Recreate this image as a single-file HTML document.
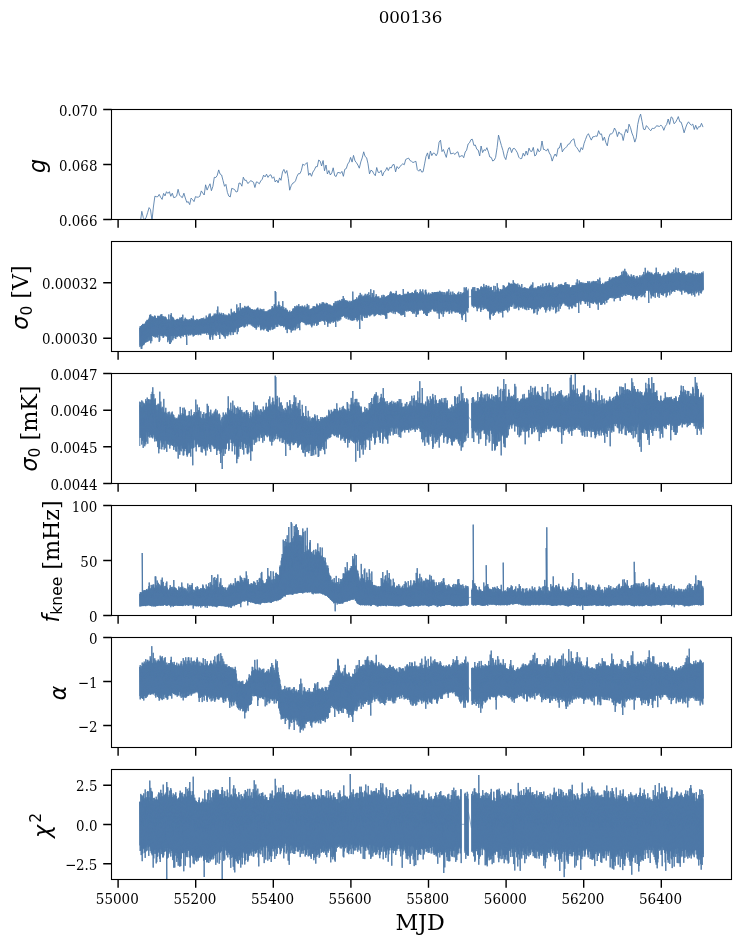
<!DOCTYPE html>
<html><head><meta charset="utf-8"><title>000136</title>
<style>html,body{margin:0;padding:0;background:#fff}svg{display:block;will-change:transform}</style></head>
<body>
<svg width="741" height="944" viewBox="0 0 741 944">
<rect width="741" height="944" fill="#fff"/>
<defs>
<clipPath id="c0"><rect x="111.5" y="109.5" width="620.0" height="110.0"/></clipPath>
<clipPath id="c1"><rect x="111.5" y="241.5" width="620.0" height="110.0"/></clipPath>
<clipPath id="c2"><rect x="111.5" y="373.5" width="620.0" height="110.0"/></clipPath>
<clipPath id="c3"><rect x="111.5" y="505.5" width="620.0" height="110.0"/></clipPath>
<clipPath id="c4"><rect x="111.5" y="637.5" width="620.0" height="110.0"/></clipPath>
<clipPath id="c5"><rect x="111.5" y="769.5" width="620.0" height="110.0"/></clipPath>
</defs>
<path clip-path="url(#c0)" d="M140.4,222.0 141.8,211.3 143.3,217.6 144.7,219.9 146.2,217.3 147.6,212.7 149.1,207.6 150.5,209.6 152.0,220.6 153.4,207.0 154.9,196.2 156.3,196.7 157.8,196.7 159.2,194.4 160.7,197.4 162.1,199.4 163.6,193.4 165.0,195.9 166.5,191.7 167.9,193.4 169.4,191.7 170.8,196.3 172.3,193.2 173.7,197.6 175.2,197.2 176.6,196.1 178.1,189.3 179.5,195.0 181.0,196.7 182.4,197.6 183.9,193.2 185.3,198.0 186.8,202.4 188.2,201.6 189.7,204.6 191.1,198.1 192.6,199.6 194.0,201.6 195.5,196.6 196.9,197.2 198.4,197.1 199.8,196.3 201.3,190.9 202.7,193.0 204.2,195.0 205.6,184.8 207.1,190.1 208.5,186.8 210.0,183.8 211.4,190.7 212.9,186.3 214.3,177.3 215.8,177.5 217.2,175.5 218.7,169.9 220.1,174.1 221.6,175.0 223.0,180.5 224.5,186.3 225.9,184.4 227.4,192.4 228.8,196.1 230.3,196.9 231.7,188.4 233.2,188.9 234.6,189.5 236.1,192.0 237.5,191.5 239.0,183.0 240.4,183.3 241.9,186.2 243.3,177.2 244.8,180.4 246.2,180.2 247.7,183.4 249.1,182.6 250.6,180.6 252.0,181.3 253.5,182.3 254.9,187.5 256.4,181.9 257.8,182.4 259.3,183.8 260.7,181.0 262.2,179.3 263.6,175.1 265.1,176.9 266.5,174.2 268.0,177.4 269.4,175.3 270.9,174.8 272.3,178.3 273.8,176.8 275.2,182.0 276.7,180.0 278.1,182.8 279.6,177.9 281.0,180.3 282.5,171.9 283.9,169.4 285.4,173.3 286.8,170.5 288.3,178.5 289.7,190.2 291.2,185.7 292.6,183.3 294.1,182.6 295.5,180.8 297.0,176.3 298.4,173.7 299.9,173.7 301.3,170.7 302.8,164.1 304.2,165.3 305.7,164.0 307.1,162.5 308.6,175.3 310.0,173.0 311.5,176.3 312.9,172.0 314.4,169.9 315.8,166.7 317.3,166.7 318.7,160.0 320.2,161.2 321.6,166.0 323.1,160.5 324.5,170.8 326.0,165.0 327.4,174.0 328.9,170.5 330.3,175.0 331.8,172.9 333.2,167.8 334.7,175.7 336.1,176.5 337.6,172.6 339.0,172.5 340.5,173.3 341.9,171.4 343.4,176.3 344.8,169.3 346.3,168.5 347.7,164.1 349.2,162.0 350.6,157.4 352.1,162.1 353.5,155.4 355.0,160.9 356.4,162.6 357.9,165.1 359.3,168.2 360.8,161.9 362.2,157.9 363.7,151.8 365.1,156.5 366.6,157.7 368.0,163.8 369.5,173.9 370.9,170.2 372.4,171.0 373.8,173.8 375.3,175.7 376.7,167.5 378.2,172.4 379.6,172.5 381.1,170.4 382.5,176.0 384.0,172.2 385.4,170.8 386.9,167.5 388.3,170.6 389.8,167.3 391.2,168.0 392.7,164.8 394.1,164.5 395.6,171.9 397.0,166.5 398.5,168.6 399.9,166.8 401.4,164.9 402.8,163.8 404.3,164.7 405.7,159.5 407.2,158.7 408.6,158.1 410.1,160.6 411.5,161.3 413.0,162.6 414.4,161.9 415.9,161.3 417.3,169.7 418.8,171.2 420.2,169.1 421.7,172.1 423.1,171.7 424.6,163.9 426.0,156.5 427.5,152.9 428.9,159.1 430.4,151.0 431.8,155.6 433.3,153.0 434.7,153.4 436.2,155.8 437.6,152.9 439.1,142.2 440.5,140.2 442.0,151.6 443.4,149.5 444.9,153.6 446.3,157.4 447.8,149.6 449.2,147.6 450.7,153.9 452.1,153.5 453.6,153.2 455.0,154.5 456.5,152.4 457.9,151.8 459.4,157.1 460.8,156.1 462.3,155.5 463.7,157.7 465.2,152.0 466.6,150.2 468.1,144.0 469.5,142.8 471.0,139.6 472.4,139.3 473.9,145.4 475.3,145.0 476.8,149.2 478.2,150.1 479.7,155.9 481.1,146.0 482.6,152.6 484.0,149.7 485.5,150.5 486.9,147.7 488.4,152.1 489.8,157.0 491.3,157.5 492.7,161.0 494.2,160.2 495.6,157.4 497.1,147.5 498.5,135.1 500.0,140.6 501.4,145.5 502.9,150.4 504.3,156.6 505.8,159.6 507.2,153.4 508.7,148.1 510.1,147.7 511.6,152.6 513.0,148.7 514.5,148.4 515.9,150.3 517.4,152.8 518.8,157.2 520.3,158.7 521.7,158.5 523.2,153.2 524.6,156.1 526.1,151.0 527.5,155.1 529.0,148.1 530.4,151.2 531.9,151.4 533.3,147.4 534.8,156.0 536.2,154.8 537.7,148.7 539.1,151.8 540.6,150.2 542.0,141.0 543.5,149.4 544.9,149.6 546.4,151.1 547.8,148.8 549.3,153.0 550.7,155.2 552.2,161.1 553.6,156.9 555.1,154.0 556.5,156.4 558.0,148.4 559.4,148.0 560.9,142.9 562.3,151.9 563.8,149.2 565.2,148.2 566.7,146.7 568.1,144.3 569.6,143.8 571.0,141.1 572.5,139.7 573.9,138.8 575.4,146.2 576.8,147.5 578.3,149.9 579.7,152.2 581.2,147.6 582.6,149.7 584.1,143.4 585.5,139.5 587.0,135.6 588.4,133.7 589.9,137.1 591.3,140.1 592.8,136.8 594.2,136.7 595.7,136.0 597.1,136.3 598.6,130.7 600.0,134.3 601.5,133.9 602.9,140.5 604.4,137.1 605.8,142.5 607.3,145.8 608.7,137.6 610.2,133.9 611.6,134.0 613.1,132.1 614.5,128.0 616.0,130.9 617.4,136.6 618.9,131.9 620.3,134.0 621.8,134.1 623.2,140.5 624.7,133.3 626.1,129.3 627.6,132.8 629.0,124.2 630.5,127.7 631.9,133.0 633.4,136.7 634.8,142.1 636.3,137.7 637.7,124.6 639.2,117.8 640.6,114.1 642.1,121.6 643.5,129.2 645.0,129.7 646.4,125.6 647.9,127.3 649.3,129.4 650.8,130.7 652.2,128.3 653.7,128.5 655.1,127.8 656.6,125.7 658.0,126.1 659.5,126.4 660.9,125.2 662.4,126.6 663.8,130.3 665.3,126.3 666.7,124.4 668.2,119.0 669.6,124.4 671.1,116.9 672.5,117.8 674.0,123.7 675.4,122.6 676.9,119.8 678.3,116.6 679.8,121.8 681.2,122.2 682.7,127.1 684.1,132.8 685.6,127.9 687.0,124.1 688.5,121.8 689.9,123.9 691.4,125.2 692.8,124.1 694.3,129.5 695.7,125.3 697.2,129.4 698.6,126.7 700.1,126.9 701.5,123.3 703.0,127.1" fill="none" stroke="#4e79a7" stroke-width="0.85" stroke-linejoin="miter"/>
<path clip-path="url(#c1)" d="M139.8,347.1 139.8,327.8 140.2,345.5 140.2,326.1 140.8,346.4 140.8,327.0 141.2,348.8 141.2,326.1 141.8,348.9 141.8,325.1 142.2,346.2 142.2,325.5 142.8,345.3 142.8,323.9 143.2,344.3 143.2,324.3 143.8,345.1 143.8,325.1 144.2,344.1 144.2,323.8 144.8,342.3 144.8,323.9 145.2,342.5 145.2,323.7 145.8,342.3 145.8,321.6 146.2,342.2 146.2,322.1 146.8,341.6 146.8,320.6 147.2,338.8 147.2,319.8 147.8,341.8 147.8,320.1 148.2,340.8 148.2,320.5 148.8,337.4 148.8,319.1 149.2,340.4 149.2,317.7 149.8,340.4 149.8,315.1 150.2,336.6 150.2,314.6 150.8,343.3 150.8,314.6 151.2,339.1 151.2,316.2 151.8,341.2 151.8,318.4 152.2,336.0 152.2,316.2 152.8,335.5 152.8,317.5 153.2,335.7 153.2,316.9 153.8,336.7 153.8,317.3 154.2,336.5 154.2,316.3 154.8,336.1 154.8,315.5 155.2,337.6 155.2,316.2 155.8,335.6 155.8,317.8 156.2,337.0 156.2,318.2 156.8,334.6 156.8,318.3 157.2,337.4 157.2,318.1 157.8,337.3 157.8,315.8 158.2,335.1 158.2,316.1 158.8,334.4 158.8,317.1 159.2,341.9 159.2,315.8 159.8,340.4 159.8,317.0 160.2,335.9 160.2,317.5 160.8,334.0 160.8,314.5 161.2,334.5 161.2,315.0 161.8,336.2 161.8,314.1 162.2,335.4 162.2,316.7 162.8,336.2 162.8,316.2 163.2,338.0 163.2,318.4 163.8,337.1 163.8,316.4 164.2,335.6 164.2,318.4 164.8,334.7 164.8,317.0 165.2,334.5 165.2,316.6 165.8,335.9 165.8,317.0 166.2,336.4 166.2,318.4 166.8,336.3 166.8,319.5 167.2,335.6 167.2,319.6 167.8,342.2 167.8,320.6 168.2,337.2 168.2,319.5 168.8,340.4 168.8,314.5 169.2,339.9 169.2,319.4 169.8,343.9 169.8,319.9 170.2,343.9 170.2,320.8 170.8,336.2 170.8,314.9 171.2,342.3 171.2,313.2 171.8,336.0 171.8,316.4 172.2,336.1 172.2,317.0 172.8,340.3 172.8,318.6 173.2,335.5 173.2,317.5 173.8,338.4 173.8,318.7 174.2,336.0 174.2,320.7 174.8,336.1 174.8,319.9 175.2,338.0 175.2,320.3 175.8,339.0 175.8,320.3 176.2,336.7 176.2,319.7 176.8,335.5 176.8,319.4 177.2,337.1 177.2,318.9 177.8,335.9 177.8,318.9 178.2,335.7 178.2,319.6 178.8,335.8 178.8,320.0 179.2,336.5 179.2,319.5 179.8,335.3 179.8,317.6 180.2,336.5 180.2,320.8 180.8,338.2 180.8,318.1 181.2,335.5 181.2,317.5 181.8,336.0 181.8,317.1 182.2,334.6 182.2,320.0 182.8,335.6 182.8,314.7 183.2,336.7 183.2,321.0 183.8,334.7 183.8,320.9 184.2,335.1 184.2,319.1 184.8,334.4 184.8,321.0 185.2,334.8 185.2,317.7 185.8,334.5 185.8,318.8 186.2,336.7 186.2,319.1 186.8,345.0 186.8,320.7 187.2,334.1 187.2,319.8 187.8,334.2 187.8,319.5 188.2,335.2 188.2,320.8 188.8,335.6 188.8,320.2 189.2,333.8 189.2,319.2 189.8,334.3 189.8,321.0 190.2,335.1 190.2,319.6 190.8,335.2 190.8,320.1 191.2,333.9 191.2,318.4 191.8,333.5 191.8,318.2 192.2,334.5 192.2,319.2 192.8,334.5 192.8,319.7 193.2,336.5 193.2,315.7 193.8,335.4 193.8,319.3 194.2,335.6 194.2,321.2 194.8,333.6 194.8,320.5 195.2,334.8 195.2,319.9 195.8,334.3 195.8,320.1 196.2,334.9 196.2,321.0 196.8,334.4 196.8,318.9 197.2,334.1 197.2,320.2 197.8,333.3 197.8,319.4 198.2,335.2 198.2,320.6 198.8,334.2 198.8,320.3 199.2,334.3 199.2,319.6 199.8,333.1 199.8,319.2 200.2,334.9 200.2,319.1 200.8,335.2 200.8,320.1 201.2,333.4 201.2,318.3 201.8,333.1 201.8,320.0 202.2,333.4 202.2,318.1 202.8,333.2 202.8,318.9 203.2,333.5 203.2,319.6 203.8,332.9 203.8,317.7 204.2,333.2 204.2,319.5 204.8,333.6 204.8,319.2 205.2,332.8 205.2,319.0 205.8,333.1 205.8,318.6 206.2,333.2 206.2,315.6 206.8,334.8 206.8,319.1 207.2,332.8 207.2,317.5 207.8,332.8 207.8,318.0 208.2,332.3 208.2,316.9 208.8,334.6 208.8,315.6 209.2,334.4 209.2,313.8 209.8,338.7 209.8,315.2 210.2,339.9 210.2,313.5 210.8,337.2 210.8,316.2 211.2,335.3 211.2,317.5 211.8,333.2 211.8,317.1 212.2,334.8 212.2,316.4 212.8,339.7 212.8,316.1 213.2,335.0 213.2,315.4 213.8,335.3 213.8,316.6 214.2,331.7 214.2,313.6 214.8,334.0 214.8,314.7 215.2,331.9 215.2,315.5 215.8,335.0 215.8,313.5 216.2,335.9 216.2,315.0 216.8,330.9 216.8,314.1 217.2,331.0 217.2,309.9 217.8,332.2 217.8,306.5 218.2,334.9 218.2,314.7 218.8,331.1 218.8,314.8 219.2,333.1 219.2,312.6 219.8,339.0 219.8,314.1 220.2,332.2 220.2,314.0 220.8,332.4 220.8,314.1 221.2,333.7 221.2,312.8 221.8,333.7 221.8,314.3 222.2,335.1 222.2,315.4 222.8,334.9 222.8,315.2 223.2,335.0 223.2,313.0 223.8,336.1 223.8,313.9 224.2,336.6 224.2,315.2 224.8,333.1 224.8,316.0 225.2,338.6 225.2,314.6 225.8,332.2 225.8,316.4 226.2,335.8 226.2,315.8 226.8,333.9 226.8,314.8 227.2,331.9 227.2,316.2 227.8,336.2 227.8,315.6 228.2,333.9 228.2,315.6 228.8,334.8 228.8,313.5 229.2,331.6 229.2,315.0 229.8,331.8 229.8,314.2 230.2,333.8 230.2,315.7 230.8,335.2 230.8,315.7 231.2,331.9 231.2,308.8 231.8,332.1 231.8,313.2 232.2,332.3 232.2,312.4 232.8,331.7 232.8,313.6 233.2,335.0 233.2,313.3 233.8,332.5 233.8,312.5 234.2,331.8 234.2,311.3 234.8,331.3 234.8,312.6 235.2,332.2 235.2,313.2 235.8,329.8 235.8,313.3 236.2,328.4 236.2,313.1 236.8,327.9 236.8,304.4 237.2,334.2 237.2,311.3 237.8,329.0 237.8,308.4 238.2,331.7 238.2,312.0 238.8,327.8 238.8,307.4 239.2,327.2 239.2,310.6 239.8,327.7 239.8,311.1 240.2,327.0 240.2,303.0 240.8,325.9 240.8,308.9 241.2,327.0 241.2,309.7 241.8,326.4 241.8,308.8 242.2,325.9 242.2,307.6 242.8,324.7 242.8,308.3 243.2,326.5 243.2,307.8 243.8,325.0 243.8,308.6 244.2,327.5 244.2,308.7 244.8,326.7 244.8,305.9 245.2,326.5 245.2,308.1 245.8,324.2 245.8,307.3 246.2,324.3 246.2,306.7 246.8,323.5 246.8,307.6 247.2,326.2 247.2,307.1 247.8,324.9 247.8,306.5 248.2,324.0 248.2,305.8 248.8,323.3 248.8,308.6 249.2,324.1 249.2,307.7 249.8,324.3 249.8,307.6 250.2,324.1 250.2,308.5 250.8,323.8 250.8,309.5 251.2,325.3 251.2,309.7 251.8,323.9 251.8,309.0 252.2,325.9 252.2,309.2 252.8,324.3 252.8,309.9 253.2,327.1 253.2,310.1 253.8,325.0 253.8,310.0 254.2,326.0 254.2,309.5 254.8,327.7 254.8,310.6 255.2,327.9 255.2,310.2 255.8,325.4 255.8,310.1 256.2,329.6 256.2,309.2 256.8,327.7 256.8,309.3 257.2,324.7 257.2,308.1 257.8,325.5 257.8,307.6 258.2,327.1 258.2,309.6 258.8,326.1 258.8,309.8 259.2,324.5 259.2,310.5 259.8,324.7 259.8,310.4 260.2,327.5 260.2,308.6 260.8,330.3 260.8,309.6 261.2,329.3 261.2,309.8 261.8,327.5 261.8,309.4 262.2,329.4 262.2,309.4 262.8,326.2 262.8,311.2 263.2,329.2 263.2,311.4 263.8,330.3 263.8,308.9 264.2,326.5 264.2,311.5 264.8,329.1 264.8,311.8 265.2,328.6 265.2,311.3 265.8,327.4 265.8,312.2 266.2,326.9 266.2,311.5 266.8,330.8 266.8,311.6 267.2,327.5 267.2,311.5 267.8,331.1 267.8,311.6 268.2,331.9 268.2,310.2 268.8,329.5 268.8,311.1 269.2,329.6 269.2,309.7 269.8,329.5 269.8,309.9 270.2,330.3 270.2,309.3 270.8,328.5 270.8,310.2 271.2,326.2 271.2,310.3 271.8,327.0 271.8,308.4 272.2,329.8 272.2,306.0 272.8,326.4 272.8,308.9 273.2,329.3 273.2,307.6 273.8,328.8 273.8,308.8 274.2,327.6 274.2,304.4 274.8,328.5 274.8,304.4 275.2,324.7 275.2,291.0 275.8,324.4 275.8,292.0 276.2,326.8 276.2,306.3 276.8,324.8 276.8,307.6 277.2,326.8 277.2,306.5 277.8,326.6 277.8,307.6 278.2,323.9 278.2,304.9 278.8,324.2 278.8,301.5 279.2,324.8 279.2,304.8 279.8,325.3 279.8,305.2 280.2,324.3 280.2,306.8 280.8,326.2 280.8,308.5 281.2,324.8 281.2,307.2 281.8,326.0 281.8,306.2 282.2,324.9 282.2,309.0 282.8,325.8 282.8,301.1 283.2,325.9 283.2,309.4 283.8,327.3 283.8,307.1 284.2,326.2 284.2,309.9 284.8,326.2 284.8,309.4 285.2,325.5 285.2,309.7 285.8,329.7 285.8,307.9 286.2,327.4 286.2,309.6 286.8,329.4 286.8,311.2 287.2,333.1 287.2,309.8 287.8,328.7 287.8,311.2 288.2,327.7 288.2,312.3 288.8,329.1 288.8,312.4 289.2,328.6 289.2,312.0 289.8,329.5 289.8,310.5 290.2,329.2 290.2,312.4 290.8,329.6 290.8,312.4 291.2,332.5 291.2,311.8 291.8,327.5 291.8,311.3 292.2,330.7 292.2,311.4 292.8,329.9 292.8,309.4 293.2,327.4 293.2,308.3 293.8,330.3 293.8,310.5 294.2,326.6 294.2,308.7 294.8,327.6 294.8,306.1 295.2,330.3 295.2,308.5 295.8,329.1 295.8,306.7 296.2,326.5 296.2,307.8 296.8,324.4 296.8,305.6 297.2,328.4 297.2,307.5 297.8,323.6 297.8,305.9 298.2,323.3 298.2,307.1 298.8,328.0 298.8,304.1 299.2,323.4 299.2,306.7 299.8,330.2 299.8,306.9 300.2,323.1 300.2,306.5 300.8,321.5 300.8,306.4 301.2,321.2 301.2,306.9 301.8,322.1 301.8,306.7 302.2,321.6 302.2,305.6 302.8,322.3 302.8,306.3 303.2,321.7 303.2,307.7 303.8,322.4 303.8,306.9 304.2,323.0 304.2,307.2 304.8,322.1 304.8,305.5 305.2,324.4 305.2,307.7 305.8,322.6 305.8,307.9 306.2,325.2 306.2,307.1 306.8,323.7 306.8,306.7 307.2,324.5 307.2,303.9 307.8,323.5 307.8,306.5 308.2,323.8 308.2,309.4 308.8,324.6 308.8,305.3 309.2,324.0 309.2,309.5 309.8,323.7 309.8,309.9 310.2,324.3 310.2,309.2 310.8,324.2 310.8,308.9 311.2,325.8 311.2,308.6 311.8,327.3 311.8,309.1 312.2,325.6 312.2,308.0 312.8,325.1 312.8,307.8 313.2,323.2 313.2,306.2 313.8,322.5 313.8,307.1 314.2,325.5 314.2,306.2 314.8,323.5 314.8,306.7 315.2,323.3 315.2,307.0 315.8,322.6 315.8,307.3 316.2,321.7 316.2,306.2 316.8,326.0 316.8,303.7 317.2,324.3 317.2,304.7 317.8,323.6 317.8,306.2 318.2,324.8 318.2,305.9 318.8,321.3 318.8,305.8 319.2,321.6 319.2,305.2 319.8,321.8 319.8,303.3 320.2,320.4 320.2,304.5 320.8,321.5 320.8,305.0 321.2,320.6 321.2,304.4 321.8,319.6 321.8,303.8 322.2,320.9 322.2,302.3 322.8,320.2 322.8,304.5 323.2,321.1 323.2,302.4 323.8,320.4 323.8,302.7 324.2,321.9 324.2,303.7 324.8,324.8 324.8,304.2 325.2,320.4 325.2,303.9 325.8,320.3 325.8,304.9 326.2,320.6 326.2,302.8 326.8,321.6 326.8,303.1 327.2,321.9 327.2,303.4 327.8,326.8 327.8,304.7 328.2,323.4 328.2,305.6 328.8,321.2 328.8,304.6 329.2,322.7 329.2,304.7 329.8,320.7 329.8,306.1 330.2,323.7 330.2,304.7 330.8,321.4 330.8,305.5 331.2,322.3 331.2,306.4 331.8,321.3 331.8,305.7 332.2,321.2 332.2,306.0 332.8,321.1 332.8,307.1 333.2,322.8 333.2,305.7 333.8,321.4 333.8,303.3 334.2,321.1 334.2,303.3 334.8,321.6 334.8,306.2 335.2,320.5 335.2,301.4 335.8,327.0 335.8,304.7 336.2,319.7 336.2,301.2 336.8,320.6 336.8,304.7 337.2,317.8 337.2,303.7 337.8,321.5 337.8,300.9 338.2,319.7 338.2,300.7 338.8,320.5 338.8,302.8 339.2,317.1 339.2,302.2 339.8,320.5 339.8,299.9 340.2,318.7 340.2,301.3 340.8,319.4 340.8,301.0 341.2,316.9 341.2,301.3 341.8,316.1 341.8,299.2 342.2,316.6 342.2,300.9 342.8,316.3 342.8,299.2 343.2,316.1 343.2,296.0 343.8,315.5 343.8,300.7 344.2,315.6 344.2,298.5 344.8,317.6 344.8,300.8 345.2,317.1 345.2,300.9 345.8,316.4 345.8,300.0 346.2,318.8 346.2,302.2 346.8,316.4 346.8,300.6 347.2,316.6 347.2,301.5 347.8,317.3 347.8,300.8 348.2,319.6 348.2,301.9 348.8,318.9 348.8,302.5 349.2,318.4 349.2,302.7 349.8,317.7 349.8,300.8 350.2,320.1 350.2,303.0 350.8,319.4 350.8,302.0 351.2,320.4 351.2,300.9 351.8,318.1 351.8,302.4 352.2,320.8 352.2,301.5 352.8,320.2 352.8,291.6 353.2,320.1 353.2,300.1 353.8,320.3 353.8,300.8 354.2,320.1 354.2,299.7 354.8,317.6 354.8,300.0 355.2,318.0 355.2,300.1 355.8,317.9 355.8,299.0 356.2,319.9 356.2,300.7 356.8,317.3 356.8,297.3 357.2,321.4 357.2,299.7 357.8,319.2 357.8,299.3 358.2,317.8 358.2,298.1 358.8,320.2 358.8,296.2 359.2,315.7 359.2,295.2 359.8,329.0 359.8,298.2 360.2,315.0 360.2,292.9 360.8,314.2 360.8,295.6 361.2,319.6 361.2,296.8 361.8,314.4 361.8,294.6 362.2,320.9 362.2,297.3 362.8,315.0 362.8,296.4 363.2,315.9 363.2,296.6 363.8,313.9 363.8,296.3 364.2,317.1 364.2,295.3 364.8,318.0 364.8,297.1 365.2,315.3 365.2,293.8 365.8,315.3 365.8,296.9 366.2,317.8 366.2,295.8 366.8,315.5 366.8,295.4 367.2,317.7 367.2,293.9 367.8,313.7 367.8,296.4 368.2,315.4 368.2,295.9 368.8,315.0 368.8,292.3 369.2,314.6 369.2,298.4 369.8,316.4 369.8,295.0 370.2,313.8 370.2,296.8 370.8,315.5 370.8,289.2 371.2,314.9 371.2,298.3 371.8,313.6 371.8,297.3 372.2,313.5 372.2,293.0 372.8,314.3 372.8,297.4 373.2,314.3 373.2,294.9 373.8,313.6 373.8,290.3 374.2,316.3 374.2,297.5 374.8,313.8 374.8,298.6 375.2,315.7 375.2,297.0 375.8,315.0 375.8,296.2 376.2,314.3 376.2,294.2 376.8,313.3 376.8,297.2 377.2,313.3 377.2,296.7 377.8,314.0 377.8,296.7 378.2,314.3 378.2,297.7 378.8,314.4 378.8,296.4 379.2,315.1 379.2,298.4 379.8,314.9 379.8,299.0 380.2,313.5 380.2,297.9 380.8,315.4 380.8,298.9 381.2,313.6 381.2,297.7 381.8,313.9 381.8,295.3 382.2,314.6 382.2,299.1 382.8,314.3 382.8,297.1 383.2,314.6 383.2,294.8 383.8,314.2 383.8,299.0 384.2,314.7 384.2,295.3 384.8,314.7 384.8,298.0 385.2,315.9 385.2,297.0 385.8,318.9 385.8,297.0 386.2,315.0 386.2,296.3 386.8,318.6 386.8,296.7 387.2,313.0 387.2,296.5 387.8,312.9 387.8,295.6 388.2,313.1 388.2,295.7 388.8,311.6 388.8,295.2 389.2,311.6 389.2,295.7 389.8,312.4 389.8,293.9 390.2,311.8 390.2,292.4 390.8,311.0 390.8,291.4 391.2,311.4 391.2,292.2 391.8,312.6 391.8,293.9 392.2,310.8 392.2,293.8 392.8,310.6 392.8,293.8 393.2,313.6 393.2,293.0 393.8,310.6 393.8,294.3 394.2,312.2 394.2,294.4 394.8,310.8 394.8,294.0 395.2,314.1 395.2,293.0 395.8,311.8 395.8,293.7 396.2,311.5 396.2,290.9 396.8,311.1 396.8,294.6 397.2,311.5 397.2,295.2 397.8,311.6 397.8,295.5 398.2,312.9 398.2,294.8 398.8,312.8 398.8,294.9 399.2,313.5 399.2,295.6 399.8,313.4 399.8,294.0 400.2,312.0 400.2,294.9 400.8,315.2 400.8,296.3 401.2,313.8 401.2,296.5 401.8,315.4 401.8,295.3 402.2,312.9 402.2,295.2 402.8,314.9 402.8,295.0 403.2,314.7 403.2,289.0 403.8,313.4 403.8,295.3 404.2,312.3 404.2,295.0 404.8,317.0 404.8,293.8 405.2,310.8 405.2,294.4 405.8,310.4 405.8,295.2 406.2,310.6 406.2,293.7 406.8,311.6 406.8,294.3 407.2,309.5 407.2,294.7 407.8,310.3 407.8,291.8 408.2,311.4 408.2,291.9 408.8,309.9 408.8,294.1 409.2,311.0 409.2,294.3 409.8,310.7 409.8,293.4 410.2,310.0 410.2,293.1 410.8,311.2 410.8,294.3 411.2,309.4 411.2,293.4 411.8,312.1 411.8,293.2 412.2,309.4 412.2,292.1 412.8,313.7 412.8,293.2 413.2,310.2 413.2,293.1 413.8,312.6 413.8,293.5 414.2,313.7 414.2,294.3 414.8,311.2 414.8,290.7 415.2,311.4 415.2,291.9 415.8,309.5 415.8,289.7 416.2,317.0 416.2,293.4 416.8,312.8 416.8,292.6 417.2,314.5 417.2,292.0 417.8,314.0 417.8,294.2 418.2,314.3 418.2,293.5 418.8,310.9 418.8,293.7 419.2,309.6 419.2,293.8 419.8,309.0 419.8,292.1 420.2,310.6 420.2,289.4 420.8,309.6 420.8,293.0 421.2,309.0 421.2,291.3 421.8,309.5 421.8,294.3 422.2,310.4 422.2,293.1 422.8,310.4 422.8,289.4 423.2,310.4 423.2,292.7 423.8,313.8 423.8,294.0 424.2,313.1 424.2,294.9 424.8,310.5 424.8,295.3 425.2,313.2 425.2,290.3 425.8,315.1 425.8,289.7 426.2,312.0 426.2,292.3 426.8,316.0 426.8,294.9 427.2,316.0 427.2,294.4 427.8,313.1 427.8,295.9 428.2,310.7 428.2,293.3 428.8,313.1 428.8,292.6 429.2,310.4 429.2,294.9 429.8,311.5 429.8,294.9 430.2,309.4 430.2,293.7 430.8,311.7 430.8,293.7 431.2,309.3 431.2,293.9 431.8,309.6 431.8,294.0 432.2,308.4 432.2,292.0 432.8,308.8 432.8,293.0 433.2,309.5 433.2,293.6 433.8,311.3 433.8,292.7 434.2,310.0 434.2,292.2 434.8,311.5 434.8,292.4 435.2,310.3 435.2,292.1 435.8,311.3 435.8,292.9 436.2,311.3 436.2,292.2 436.8,308.6 436.8,292.0 437.2,313.3 437.2,291.9 437.8,310.8 437.8,293.5 438.2,311.2 438.2,291.8 438.8,313.5 438.8,292.2 439.2,318.8 439.2,294.1 439.8,309.8 439.8,290.8 440.2,312.5 440.2,292.7 440.8,310.3 440.8,291.8 441.2,313.5 441.2,292.3 441.8,314.2 441.8,293.9 442.2,311.2 442.2,291.9 442.8,310.8 442.8,294.7 443.2,316.7 443.2,295.0 443.8,314.0 443.8,292.2 444.2,311.5 444.2,294.9 444.8,310.5 444.8,292.3 445.2,310.5 445.2,295.0 445.8,309.8 445.8,294.5 446.2,312.2 446.2,293.1 446.8,310.8 446.8,291.6 447.2,311.5 447.2,292.5 447.8,311.0 447.8,291.6 448.2,311.3 448.2,294.6 448.8,310.4 448.8,289.4 449.2,314.0 449.2,295.2 449.8,312.6 449.8,295.3 450.2,309.7 450.2,293.1 450.8,310.0 450.8,291.7 451.2,311.5 451.2,294.8 451.8,313.5 451.8,295.4 452.2,311.5 452.2,294.8 452.8,310.4 452.8,291.6 453.2,310.9 453.2,295.3 453.8,311.2 453.8,294.5 454.2,311.5 454.2,293.1 454.8,310.1 454.8,294.7 455.2,312.7 455.2,294.6 455.8,311.4 455.8,294.6 456.2,312.4 456.2,294.6 456.8,311.1 456.8,295.0 457.2,312.1 457.2,294.8 457.8,312.4 457.8,292.8 458.2,312.4 458.2,295.0 458.8,311.9 458.8,291.7 459.2,312.2 459.2,294.3 459.8,314.0 459.8,295.2 460.2,312.8 460.2,294.2 460.8,312.5 460.8,292.0 461.2,314.5 461.2,295.3 461.8,317.5 461.8,294.2 462.2,320.1 462.2,293.1 462.8,312.0 462.8,294.7 463.2,315.2 463.2,292.6 463.8,312.9 463.8,292.5 464.2,313.5 464.2,287.4 464.8,314.1 464.8,293.1 465.2,311.8 465.2,292.7 465.8,321.9 465.8,288.3 466.2,310.3 466.2,287.0 466.8,311.4 466.8,290.6 467.2,310.0 467.2,291.6 467.8,312.5 467.8,290.5 468.2,308.0 468.2,288.6M471.8,304.8 471.8,289.7 472.2,306.5 472.2,288.9 472.8,305.9 472.8,287.3 473.2,304.9 473.2,291.2 473.8,307.7 473.8,287.3 474.2,305.5 474.2,291.4 474.8,305.9 474.8,287.2 475.2,306.9 475.2,290.9 475.8,305.9 475.8,291.4 476.2,306.2 476.2,291.6 476.8,308.2 476.8,291.0 477.2,311.2 477.2,288.0 477.8,306.7 477.8,288.7 478.2,305.8 478.2,288.3 478.8,308.5 478.8,290.6 479.2,307.4 479.2,290.0 479.8,305.2 479.8,289.8 480.2,307.1 480.2,289.0 480.8,311.9 480.8,287.3 481.2,310.0 481.2,286.3 481.8,304.8 481.8,288.3 482.2,307.6 482.2,287.3 482.8,305.1 482.8,287.7 483.2,309.8 483.2,287.8 483.8,307.5 483.8,283.9 484.2,306.0 484.2,287.6 484.8,308.9 484.8,286.7 485.2,308.4 485.2,286.8 485.8,306.4 485.8,287.3 486.2,307.6 486.2,285.0 486.8,309.3 486.8,285.8 487.2,308.3 487.2,287.9 487.8,310.8 487.8,289.4 488.2,311.3 488.2,286.3 488.8,310.9 488.8,285.8 489.2,311.4 489.2,288.2 489.8,318.3 489.8,291.0 490.2,319.7 490.2,287.2 490.8,313.5 490.8,288.3 491.2,314.3 491.2,286.9 491.8,313.1 491.8,291.0 492.2,312.7 492.2,290.8 492.8,311.8 492.8,290.1 493.2,315.9 493.2,292.6 493.8,312.9 493.8,285.8 494.2,314.8 494.2,292.4 494.8,311.9 494.8,291.7 495.2,312.7 495.2,286.1 495.8,312.2 495.8,292.5 496.2,311.1 496.2,291.7 496.8,310.4 496.8,289.7 497.2,311.2 497.2,283.2 497.8,310.9 497.8,287.5 498.2,312.4 498.2,288.4 498.8,313.5 498.8,290.8 499.2,311.6 499.2,291.8 499.8,312.0 499.8,291.7 500.2,310.0 500.2,289.0 500.8,312.5 500.8,289.5 501.2,310.9 501.2,290.6 501.8,309.7 501.8,290.0 502.2,312.8 502.2,288.9 502.8,317.4 502.8,290.1 503.2,310.7 503.2,285.2 503.8,310.8 503.8,290.5 504.2,310.6 504.2,285.8 504.8,309.5 504.8,288.8 505.2,307.9 505.2,287.6 505.8,310.2 505.8,288.1 506.2,308.1 506.2,287.3 506.8,310.4 506.8,287.4 507.2,309.0 507.2,286.3 507.8,312.3 507.8,286.1 508.2,307.9 508.2,285.3 508.8,307.2 508.8,282.6 509.2,310.5 509.2,283.1 509.8,306.4 509.8,283.8 510.2,306.3 510.2,284.2 510.8,304.1 510.8,283.8 511.2,306.6 511.2,283.9 511.8,306.9 511.8,283.7 512.2,304.1 512.2,284.1 512.8,305.4 512.8,284.2 513.2,303.6 513.2,280.2 513.8,302.8 513.8,284.8 514.2,308.7 514.2,282.8 514.8,304.8 514.8,284.5 515.2,303.9 515.2,283.8 515.8,308.7 515.8,283.8 516.2,306.8 516.2,284.3 516.8,308.1 516.8,284.8 517.2,306.5 517.2,285.8 517.8,306.6 517.8,283.5 518.2,304.7 518.2,287.4 518.8,310.2 518.8,287.1 519.2,305.9 519.2,284.8 519.8,307.1 519.8,285.7 520.2,305.8 520.2,287.0 520.8,307.8 520.8,288.0 521.2,306.1 521.2,287.9 521.8,307.1 521.8,284.0 522.2,306.5 522.2,288.6 522.8,308.6 522.8,288.0 523.2,306.3 523.2,288.4 523.8,306.2 523.8,287.7 524.2,307.7 524.2,288.3 524.8,308.9 524.8,287.1 525.2,309.6 525.2,288.6 525.8,307.4 525.8,287.9 526.2,306.9 526.2,288.6 526.8,310.2 526.8,288.9 527.2,306.9 527.2,288.3 527.8,307.6 527.8,288.9 528.2,307.5 528.2,289.0 528.8,310.0 528.8,288.6 529.2,307.4 529.2,288.7 529.8,307.7 529.8,287.1 530.2,307.7 530.2,286.4 530.8,307.8 530.8,286.1 531.2,308.2 531.2,284.7 531.8,309.4 531.8,289.0 532.2,308.7 532.2,285.1 532.8,307.7 532.8,282.4 533.2,308.8 533.2,288.2 533.8,313.4 533.8,288.1 534.2,312.2 534.2,289.2 534.8,312.7 534.8,288.3 535.2,309.2 535.2,287.5 535.8,308.8 535.8,289.0 536.2,309.1 536.2,288.6 536.8,307.8 536.8,288.6 537.2,314.6 537.2,287.3 537.8,306.8 537.8,286.4 538.2,311.2 538.2,286.9 538.8,307.0 538.8,286.0 539.2,306.9 539.2,286.8 539.8,308.2 539.8,287.7 540.2,309.2 540.2,287.2 540.8,307.0 540.8,285.4 541.2,307.7 541.2,287.2 541.8,305.7 541.8,287.7 542.2,306.3 542.2,287.3 542.8,306.9 542.8,283.6 543.2,307.1 543.2,287.8 543.8,307.3 543.8,287.1 544.2,306.1 544.2,287.4 544.8,309.6 544.8,286.5 545.2,307.0 545.2,286.0 545.8,312.5 545.8,286.0 546.2,309.6 546.2,283.2 546.8,310.4 546.8,286.1 547.2,308.2 547.2,286.1 547.8,306.1 547.8,287.2 548.2,306.7 548.2,285.2 548.8,306.7 548.8,284.8 549.2,309.9 549.2,282.8 549.8,311.2 549.8,286.6 550.2,308.0 550.2,286.4 550.8,309.4 550.8,285.0 551.2,305.3 551.2,287.0 551.8,305.6 551.8,286.7 552.2,306.9 552.2,288.1 552.8,307.0 552.8,282.5 553.2,309.6 553.2,288.5 553.8,305.7 553.8,287.8 554.2,306.8 554.2,287.5 554.8,307.2 554.8,287.7 555.2,308.2 555.2,287.4 555.8,313.3 555.8,287.3 556.2,307.6 556.2,286.4 556.8,312.0 556.8,287.1 557.2,306.7 557.2,287.7 557.8,306.2 557.8,287.6 558.2,305.0 558.2,285.2 558.8,311.3 558.8,284.3 559.2,304.2 559.2,285.3 559.8,304.0 559.8,287.1 560.2,308.8 560.2,284.4 560.8,303.8 560.8,285.4 561.2,306.2 561.2,283.9 561.8,304.7 561.8,285.8 562.2,302.7 562.2,284.7 562.8,303.7 562.8,285.2 563.2,302.3 563.2,285.1 563.8,302.4 563.8,285.0 564.2,303.8 564.2,285.1 564.8,302.9 564.8,282.7 565.2,305.5 565.2,285.6 565.8,304.1 565.8,282.1 566.2,305.4 566.2,284.4 566.8,304.6 566.8,284.3 567.2,306.2 567.2,286.5 567.8,306.3 567.8,284.2 568.2,306.7 568.2,284.9 568.8,305.4 568.8,287.2 569.2,309.3 569.2,284.6 569.8,305.5 569.8,288.2 570.2,305.9 570.2,287.8 570.8,306.6 570.8,287.4 571.2,305.9 571.2,287.0 571.8,308.3 571.8,286.7 572.2,308.2 572.2,285.3 572.8,304.7 572.8,285.8 573.2,305.0 573.2,285.2 573.8,305.3 573.8,286.7 574.2,306.5 574.2,285.7 574.8,304.2 574.8,285.2 575.2,303.2 575.2,285.2 575.8,307.1 575.8,285.7 576.2,303.1 576.2,282.6 576.8,303.1 576.8,284.6 577.2,301.3 577.2,279.3 577.8,303.0 577.8,283.1 578.2,301.0 578.2,284.8 578.8,313.0 578.8,284.3 579.2,301.4 579.2,280.5 579.8,300.6 579.8,282.5 580.2,303.1 580.2,282.9 580.8,304.5 580.8,282.4 581.2,301.4 581.2,284.0 581.8,300.8 581.8,282.3 582.2,300.7 582.2,283.1 582.8,299.8 582.8,283.9 583.2,301.0 583.2,282.7 583.8,300.4 583.8,284.2 584.2,301.7 584.2,284.0 584.8,301.0 584.8,282.9 585.2,303.9 585.2,284.2 585.8,303.6 585.8,283.0 586.2,301.1 586.2,283.0 586.8,301.6 586.8,283.4 587.2,301.6 587.2,283.8 587.8,305.9 587.8,281.2 588.2,300.9 588.2,282.7 588.8,301.9 588.8,282.7 589.2,300.9 589.2,281.2 589.8,308.0 589.8,283.9 590.2,302.8 590.2,283.4 590.8,302.1 590.8,283.6 591.2,302.5 591.2,281.6 591.8,303.2 591.8,282.9 592.2,302.6 592.2,282.8 592.8,302.1 592.8,281.7 593.2,304.0 593.2,280.9 593.8,302.9 593.8,281.8 594.2,300.4 594.2,281.3 594.8,301.7 594.8,282.8 595.2,302.0 595.2,281.6 595.8,303.4 595.8,281.7 596.2,301.6 596.2,281.0 596.8,304.4 596.8,283.1 597.2,303.6 597.2,283.5 597.8,300.4 597.8,279.2 598.2,309.8 598.2,283.5 598.8,302.5 598.8,279.9 599.2,300.8 599.2,284.1 599.8,302.5 599.8,277.7 600.2,302.0 600.2,281.3 600.8,305.0 600.8,284.9 601.2,303.8 601.2,284.0 601.8,304.8 601.8,285.1 602.2,303.8 602.2,284.0 602.8,299.8 602.8,282.9 603.2,302.9 603.2,284.3 603.8,303.0 603.8,284.5 604.2,300.3 604.2,284.5 604.8,304.4 604.8,283.3 605.2,299.6 605.2,281.8 605.8,300.9 605.8,282.7 606.2,299.9 606.2,281.5 606.8,302.7 606.8,282.3 607.2,299.8 607.2,282.9 607.8,299.9 607.8,281.0 608.2,299.3 608.2,282.3 608.8,298.8 608.8,280.9 609.2,297.9 609.2,278.8 609.8,297.9 609.8,277.3 610.2,297.6 610.2,279.9 610.8,298.0 610.8,280.4 611.2,296.7 611.2,279.4 611.8,297.6 611.8,278.8 612.2,298.3 612.2,277.6 612.8,297.0 612.8,278.6 613.2,296.2 613.2,277.4 613.8,298.0 613.8,278.8 614.2,301.3 614.2,277.9 614.8,296.1 614.8,277.4 615.2,298.9 615.2,277.8 615.8,297.6 615.8,276.3 616.2,298.3 616.2,276.1 616.8,296.1 616.8,277.6 617.2,298.0 617.2,277.4 617.8,297.6 617.8,277.1 618.2,296.1 618.2,276.4 618.8,297.5 618.8,277.3 619.2,297.8 619.2,275.9 619.8,295.2 619.8,276.8 620.2,300.8 620.2,275.7 620.8,295.4 620.8,275.6 621.2,296.7 621.2,275.2 621.8,294.0 621.8,271.8 622.2,296.8 622.2,276.2 622.8,294.0 622.8,274.5 623.2,294.1 623.2,270.8 623.8,295.7 623.8,271.8 624.2,294.7 624.2,272.4 624.8,293.5 624.8,268.8 625.2,294.2 625.2,275.8 625.8,295.9 625.8,271.3 626.2,294.0 626.2,272.2 626.8,293.3 626.8,273.1 627.2,294.4 627.2,276.3 627.8,294.7 627.8,276.5 628.2,294.0 628.2,274.7 628.8,295.0 628.8,275.8 629.2,294.8 629.2,276.8 629.8,293.3 629.8,276.6 630.2,294.7 630.2,276.9 630.8,295.6 630.8,277.1 631.2,294.4 631.2,274.4 631.8,295.2 631.8,276.6 632.2,295.9 632.2,276.8 632.8,299.3 632.8,277.2 633.2,296.6 633.2,275.6 633.8,295.0 633.8,275.1 634.2,296.2 634.2,276.9 634.8,295.7 634.8,278.6 635.2,295.9 635.2,278.6 635.8,298.7 635.8,278.9 636.2,298.3 636.2,276.3 636.8,300.2 636.8,278.5 637.2,298.0 637.2,275.9 637.8,296.6 637.8,279.2 638.2,295.4 638.2,279.0 638.8,295.7 638.8,277.4 639.2,296.0 639.2,277.7 639.8,295.4 639.8,275.3 640.2,294.5 640.2,277.3 640.8,294.8 640.8,277.9 641.2,297.2 641.2,275.5 641.8,293.8 641.8,277.5 642.2,292.8 642.2,277.1 642.8,296.4 642.8,274.5 643.2,295.1 643.2,276.3 643.8,291.7 643.8,271.9 644.2,294.0 644.2,275.4 644.8,297.3 644.8,274.6 645.2,293.1 645.2,267.8 645.8,290.3 645.8,274.2 646.2,290.6 646.2,273.7 646.8,289.6 646.8,273.4 647.2,290.7 647.2,272.3 647.8,289.8 647.8,270.7 648.2,290.7 648.2,272.5 648.8,303.0 648.8,272.5 649.2,290.8 649.2,273.5 649.8,290.2 649.8,271.9 650.2,292.5 650.2,273.7 650.8,294.5 650.8,273.8 651.2,298.4 651.2,272.8 651.8,296.3 651.8,272.7 652.2,291.0 652.2,274.3 652.8,295.7 652.8,274.7 653.2,296.2 653.2,274.5 653.8,296.5 653.8,275.5 654.2,293.1 654.2,275.1 654.8,292.8 654.8,273.2 655.2,297.8 655.2,274.5 655.8,292.7 655.8,272.5 656.2,292.2 656.2,267.7 656.8,292.5 656.8,273.3 657.2,291.8 657.2,274.0 657.8,296.7 657.8,275.9 658.2,293.6 658.2,272.0 658.8,293.4 658.8,274.1 659.2,297.9 659.2,273.9 659.8,292.9 659.8,275.9 660.2,292.8 660.2,273.9 660.8,292.8 660.8,276.7 661.2,294.4 661.2,276.4 661.8,295.0 661.8,276.9 662.2,292.9 662.2,275.6 662.8,294.8 662.8,276.2 663.2,295.8 663.2,274.6 663.8,294.0 663.8,272.8 664.2,292.2 664.2,276.5 664.8,293.0 664.8,275.2 665.2,293.1 665.2,275.3 665.8,292.9 665.8,275.0 666.2,297.3 666.2,274.8 666.8,292.3 666.8,275.6 667.2,295.6 667.2,273.8 667.8,292.4 667.8,273.3 668.2,292.2 668.2,271.4 668.8,291.9 668.8,274.7 669.2,291.8 669.2,272.6 669.8,295.3 669.8,274.5 670.2,290.2 670.2,273.8 670.8,289.7 670.8,273.7 671.2,293.6 671.2,272.9 671.8,290.9 671.8,274.0 672.2,291.8 672.2,271.9 672.8,290.9 672.8,274.6 673.2,291.3 673.2,274.0 673.8,290.8 673.8,269.5 674.2,290.2 674.2,273.7 674.8,292.0 674.8,273.3 675.2,290.0 675.2,273.6 675.8,289.6 675.8,267.6 676.2,289.1 676.2,272.1 676.8,290.0 676.8,271.8 677.2,290.2 677.2,273.5 677.8,290.6 677.8,273.1 678.2,289.6 678.2,268.3 678.8,288.9 678.8,272.4 679.2,290.6 679.2,272.3 679.8,289.5 679.8,273.1 680.2,291.4 680.2,273.2 680.8,289.9 680.8,274.4 681.2,291.7 681.2,274.2 681.8,294.6 681.8,272.5 682.2,290.3 682.2,274.2 682.8,289.8 682.8,271.0 683.2,290.7 683.2,274.0 683.8,289.4 683.8,273.0 684.2,289.7 684.2,271.1 684.8,292.7 684.8,272.8 685.2,290.6 685.2,274.9 685.8,291.5 685.8,275.2 686.2,291.6 686.2,275.4 686.8,291.5 686.8,274.4 687.2,292.4 687.2,276.0 687.8,292.8 687.8,274.2 688.2,294.2 688.2,273.1 688.8,293.5 688.8,272.7 689.2,293.1 689.2,276.6 689.8,293.6 689.8,272.8 690.2,293.2 690.2,276.3 690.8,293.1 690.8,272.8 691.2,293.1 691.2,273.3 691.8,295.4 691.8,274.8 692.2,293.2 692.2,274.4 692.8,290.9 692.8,270.9 693.2,290.5 693.2,274.1 693.8,294.8 693.8,275.3 694.2,292.2 694.2,274.2 694.8,296.6 694.8,275.2 695.2,290.3 695.2,272.6 695.8,291.4 695.8,273.0 696.2,293.4 696.2,275.0 696.8,290.9 696.8,275.0 697.2,292.3 697.2,273.0 697.8,289.7 697.8,274.3 698.2,289.4 698.2,274.4 698.8,295.4 698.8,274.8 699.2,291.1 699.2,273.0 699.8,290.1 699.8,274.5 700.2,293.0 700.2,273.8 700.8,292.1 700.8,273.9 701.2,293.5 701.2,273.1 701.8,291.6 701.8,272.4 702.2,289.7 702.2,272.8 702.8,290.4 702.8,273.2 703.2,289.7 703.2,271.3" fill="none" stroke="#4e79a7" stroke-width="1.0" stroke-linejoin="round"/>
<path clip-path="url(#c2)" d="M139.8,446.0 139.8,401.7 140.2,437.9 140.2,405.1 140.8,435.2 140.8,402.3 141.2,437.2 141.2,406.9 141.8,444.5 141.8,400.4 142.2,440.3 142.2,407.3 142.8,440.6 142.8,401.6 143.2,447.9 143.2,405.8 143.8,438.9 143.8,402.9 144.2,442.9 144.2,403.6 144.8,446.3 144.8,404.6 145.2,441.9 145.2,405.1 145.8,444.4 145.8,399.2 146.2,441.7 146.2,401.0 146.8,432.5 146.8,402.0 147.2,435.3 147.2,397.6 147.8,443.7 147.8,403.5 148.2,436.7 148.2,399.5 148.8,432.1 148.8,399.2 149.2,436.2 149.2,403.6 149.8,437.6 149.8,399.6 150.2,435.0 150.2,403.7 150.8,434.4 150.8,399.6 151.2,437.3 151.2,394.0 151.8,436.8 151.8,400.3 152.2,437.5 152.2,391.8 152.8,438.4 152.8,387.3 153.2,434.0 153.2,400.1 153.8,435.2 153.8,394.1 154.2,437.0 154.2,403.2 154.8,441.5 154.8,399.5 155.2,438.8 155.2,398.4 155.8,436.9 155.8,405.9 156.2,441.1 156.2,404.9 156.8,441.2 156.8,409.7 157.2,439.4 157.2,410.4 157.8,447.1 157.8,404.6 158.2,440.2 158.2,403.7 158.8,453.3 158.8,405.8 159.2,447.7 159.2,404.3 159.8,449.1 159.8,391.7 160.2,440.6 160.2,407.2 160.8,439.9 160.8,401.6 161.2,442.6 161.2,408.3 161.8,449.4 161.8,412.2 162.2,439.9 162.2,406.8 162.8,446.9 162.8,412.5 163.2,444.4 163.2,408.5 163.8,441.2 163.8,398.9 164.2,449.7 164.2,412.5 164.8,441.2 164.8,413.1 165.2,448.3 165.2,411.7 165.8,440.5 165.8,407.8 166.2,441.2 166.2,415.6 166.8,451.9 166.8,412.8 167.2,444.3 167.2,414.2 167.8,443.8 167.8,416.7 168.2,441.0 168.2,412.1 168.8,444.7 168.8,415.2 169.2,441.9 169.2,411.6 169.8,448.5 169.8,417.0 170.2,443.6 170.2,414.5 170.8,445.7 170.8,416.6 171.2,442.5 171.2,412.6 171.8,445.0 171.8,414.8 172.2,444.7 172.2,411.6 172.8,445.9 172.8,416.2 173.2,445.5 173.2,414.5 173.8,449.9 173.8,415.2 174.2,447.2 174.2,418.1 174.8,442.8 174.8,417.3 175.2,446.6 175.2,419.2 175.8,451.3 175.8,418.8 176.2,444.1 176.2,417.9 176.8,451.6 176.8,419.7 177.2,446.4 177.2,419.3 177.8,446.2 177.8,418.3 178.2,458.6 178.2,416.7 178.8,448.8 178.8,414.6 179.2,449.5 179.2,418.0 179.8,454.8 179.8,415.3 180.2,450.5 180.2,406.9 180.8,446.2 180.8,414.3 181.2,451.3 181.2,415.1 181.8,445.3 181.8,417.1 182.2,448.2 182.2,413.0 182.8,448.8 182.8,407.8 183.2,455.4 183.2,414.4 183.8,455.3 183.8,413.8 184.2,451.2 184.2,407.6 184.8,448.8 184.8,415.0 185.2,448.5 185.2,409.7 185.8,448.9 185.8,417.5 186.2,451.3 186.2,415.8 186.8,455.0 186.8,417.7 187.2,456.6 187.2,415.7 187.8,454.4 187.8,418.6 188.2,442.8 188.2,415.7 188.8,453.2 188.8,415.2 189.2,445.1 189.2,411.1 189.8,452.8 189.8,415.4 190.2,451.3 190.2,416.6 190.8,456.6 190.8,416.3 191.2,443.0 191.2,409.5 191.8,448.5 191.8,416.5 192.2,448.4 192.2,415.3 192.8,465.3 192.8,417.0 193.2,448.2 193.2,416.7 193.8,447.9 193.8,414.0 194.2,439.4 194.2,412.1 194.8,440.3 194.8,416.1 195.2,446.8 195.2,415.4 195.8,444.2 195.8,399.6 196.2,451.4 196.2,412.6 196.8,445.0 196.8,412.1 197.2,443.6 197.2,404.6 197.8,441.5 197.8,412.6 198.2,444.2 198.2,412.3 198.8,447.2 198.8,410.1 199.2,447.0 199.2,407.4 199.8,445.1 199.8,416.5 200.2,446.7 200.2,417.3 200.8,446.1 200.8,411.4 201.2,452.1 201.2,417.8 201.8,446.1 201.8,418.8 202.2,452.5 202.2,419.3 202.8,446.1 202.8,414.0 203.2,446.3 203.2,415.6 203.8,448.6 203.8,412.2 204.2,449.2 204.2,419.2 204.8,448.3 204.8,418.2 205.2,450.7 205.2,413.9 205.8,455.5 205.8,419.6 206.2,447.0 206.2,413.2 206.8,447.5 206.8,413.6 207.2,450.5 207.2,403.8 207.8,447.6 207.8,409.8 208.2,444.2 208.2,405.9 208.8,444.1 208.8,412.6 209.2,446.6 209.2,416.5 209.8,449.1 209.8,417.0 210.2,446.4 210.2,411.9 210.8,451.8 210.8,409.7 211.2,444.9 211.2,414.9 211.8,444.0 211.8,416.1 212.2,445.4 212.2,413.5 212.8,444.5 212.8,416.2 213.2,446.5 213.2,415.6 213.8,446.2 213.8,413.5 214.2,449.0 214.2,411.7 214.8,448.3 214.8,415.5 215.2,445.5 215.2,410.3 215.8,447.8 215.8,408.9 216.2,449.2 216.2,417.5 216.8,455.0 216.8,412.4 217.2,447.6 217.2,410.4 217.8,450.8 217.8,417.9 218.2,446.0 218.2,417.3 218.8,449.5 218.8,414.4 219.2,449.0 219.2,413.6 219.8,451.0 219.8,414.8 220.2,454.0 220.2,420.4 220.8,463.0 220.8,421.9 221.2,452.5 221.2,425.5 221.8,449.8 221.8,418.6 222.2,469.0 222.2,416.9 222.8,448.8 222.8,422.8 223.2,448.5 223.2,412.5 223.8,455.9 223.8,421.4 224.2,448.5 224.2,415.9 224.8,449.1 224.8,414.7 225.2,453.7 225.2,417.1 225.8,448.8 225.8,412.5 226.2,449.2 226.2,414.1 226.8,444.0 226.8,415.0 227.2,442.7 227.2,415.5 227.8,443.0 227.8,408.2 228.2,442.0 228.2,396.3 228.8,450.8 228.8,408.5 229.2,449.1 229.2,412.8 229.8,439.5 229.8,409.9 230.2,439.5 230.2,410.9 230.8,438.6 230.8,402.7 231.2,443.0 231.2,411.2 231.8,442.9 231.8,411.0 232.2,451.3 232.2,409.3 232.8,444.1 232.8,400.7 233.2,442.5 233.2,413.6 233.8,442.4 233.8,412.8 234.2,446.1 234.2,405.5 234.8,454.5 234.8,407.1 235.2,441.9 235.2,414.5 235.8,446.4 235.8,414.0 236.2,444.6 236.2,408.0 236.8,463.2 236.8,414.1 237.2,454.5 237.2,413.4 237.8,458.9 237.8,406.6 238.2,447.0 238.2,408.5 238.8,456.7 238.8,412.7 239.2,446.5 239.2,410.1 239.8,442.2 239.8,409.8 240.2,449.0 240.2,407.2 240.8,448.9 240.8,414.6 241.2,442.1 241.2,411.6 241.8,441.6 241.8,409.9 242.2,447.3 242.2,417.1 242.8,449.8 242.8,412.2 243.2,443.7 243.2,416.2 243.8,454.5 243.8,413.3 244.2,442.2 244.2,411.9 244.8,443.8 244.8,412.8 245.2,442.9 245.2,414.6 245.8,448.0 245.8,414.4 246.2,444.7 246.2,410.8 246.8,444.7 246.8,410.0 247.2,453.5 247.2,412.9 247.8,454.2 247.8,415.8 248.2,443.3 248.2,412.4 248.8,452.5 248.8,414.0 249.2,443.2 249.2,418.1 249.8,446.4 249.8,419.3 250.2,448.4 250.2,416.0 250.8,460.7 250.8,412.3 251.2,451.1 251.2,418.6 251.8,445.1 251.8,416.7 252.2,451.3 252.2,413.4 252.8,439.3 252.8,410.5 253.2,439.2 253.2,414.9 253.8,439.6 253.8,401.8 254.2,444.8 254.2,416.3 254.8,438.9 254.8,411.2 255.2,439.8 255.2,405.2 255.8,442.7 255.8,405.7 256.2,437.2 256.2,408.7 256.8,441.7 256.8,414.3 257.2,437.4 257.2,405.4 257.8,436.1 257.8,415.7 258.2,437.7 258.2,413.3 258.8,435.4 258.8,409.7 259.2,441.2 259.2,411.3 259.8,438.3 259.8,415.0 260.2,432.7 260.2,414.7 260.8,434.6 260.8,409.0 261.2,437.3 261.2,410.4 261.8,437.9 261.8,412.7 262.2,432.9 262.2,411.9 262.8,442.7 262.8,411.8 263.2,431.5 263.2,406.5 263.8,436.5 263.8,412.8 264.2,440.8 264.2,411.4 264.8,432.9 264.8,410.1 265.2,435.2 265.2,409.5 265.8,435.1 265.8,406.7 266.2,434.6 266.2,402.8 266.8,435.7 266.8,409.3 267.2,437.2 267.2,408.7 267.8,434.0 267.8,407.2 268.2,432.9 268.2,406.3 268.8,435.5 268.8,399.4 269.2,436.5 269.2,406.1 269.8,440.5 269.8,396.4 270.2,441.7 270.2,405.7 270.8,436.4 270.8,403.7 271.2,435.0 271.2,409.3 271.8,445.5 271.8,405.2 272.2,438.8 272.2,402.1 272.8,441.9 272.8,397.7 273.2,438.5 273.2,406.8 273.8,434.6 273.8,401.4 274.2,440.4 274.2,404.5 274.8,436.5 274.8,405.0 275.2,435.7 275.2,375.7 275.8,439.1 275.8,377.0 276.2,433.2 276.2,405.4 276.8,434.2 276.8,399.2 277.2,436.1 277.2,395.9 277.8,439.2 277.8,409.5 278.2,434.0 278.2,409.8 278.8,437.1 278.8,406.5 279.2,437.9 279.2,397.6 279.8,441.4 279.8,411.5 280.2,436.7 280.2,402.8 280.8,438.3 280.8,412.5 281.2,437.9 281.2,402.3 281.8,436.8 281.8,412.1 282.2,442.9 282.2,405.5 282.8,439.2 282.8,413.5 283.2,442.5 283.2,408.9 283.8,438.4 283.8,411.7 284.2,439.7 284.2,410.3 284.8,439.6 284.8,412.8 285.2,444.1 285.2,407.9 285.8,456.0 285.8,412.9 286.2,439.3 286.2,409.5 286.8,442.6 286.8,410.3 287.2,444.2 287.2,402.2 287.8,442.2 287.8,413.2 288.2,443.7 288.2,405.8 288.8,442.4 288.8,406.7 289.2,445.8 289.2,413.6 289.8,444.0 289.8,400.1 290.2,450.1 290.2,405.2 290.8,443.6 290.8,404.2 291.2,441.3 291.2,412.1 291.8,441.9 291.8,408.3 292.2,442.6 292.2,409.6 292.8,441.8 292.8,404.4 293.2,445.2 293.2,410.1 293.8,444.9 293.8,402.0 294.2,443.9 294.2,395.3 294.8,440.1 294.8,406.0 295.2,442.6 295.2,401.9 295.8,443.0 295.8,397.4 296.2,441.3 296.2,409.5 296.8,440.5 296.8,406.2 297.2,443.5 297.2,409.0 297.8,447.7 297.8,407.8 298.2,447.1 298.2,402.9 298.8,444.3 298.8,409.8 299.2,445.5 299.2,410.7 299.8,441.4 299.8,400.3 300.2,444.4 300.2,409.1 300.8,442.3 300.8,416.9 301.2,444.1 301.2,416.8 301.8,449.6 301.8,415.9 302.2,442.6 302.2,404.8 302.8,452.5 302.8,413.5 303.2,443.4 303.2,412.8 303.8,453.1 303.8,418.7 304.2,447.3 304.2,416.5 304.8,449.9 304.8,416.2 305.2,456.6 305.2,419.8 305.8,447.4 305.8,406.1 306.2,445.6 306.2,416.0 306.8,452.0 306.8,421.5 307.2,445.2 307.2,417.6 307.8,451.5 307.8,421.2 308.2,444.4 308.2,410.8 308.8,453.2 308.8,418.8 309.2,445.1 309.2,421.7 309.8,450.9 309.8,416.6 310.2,444.3 310.2,421.4 310.8,444.4 310.8,420.5 311.2,456.0 311.2,418.3 311.8,450.3 311.8,422.0 312.2,455.7 312.2,418.3 312.8,451.6 312.8,417.3 313.2,448.5 313.2,418.2 313.8,455.3 313.8,418.3 314.2,449.7 314.2,418.4 314.8,448.2 314.8,414.4 315.2,446.0 315.2,415.8 315.8,454.4 315.8,419.6 316.2,445.2 316.2,421.0 316.8,446.2 316.8,421.7 317.2,445.6 317.2,415.3 317.8,448.2 317.8,419.6 318.2,457.0 318.2,423.1 318.8,456.3 318.8,419.0 319.2,448.0 319.2,421.1 319.8,450.6 319.8,421.5 320.2,446.4 320.2,421.5 320.8,450.6 320.8,417.1 321.2,448.1 321.2,419.1 321.8,448.9 321.8,419.4 322.2,447.0 322.2,417.1 322.8,442.8 322.8,420.5 323.2,445.3 323.2,418.0 323.8,449.6 323.8,419.3 324.2,450.2 324.2,417.2 324.8,454.2 324.8,418.1 325.2,440.4 325.2,416.9 325.8,441.5 325.8,418.4 326.2,448.7 326.2,417.7 326.8,438.7 326.8,415.6 327.2,438.0 327.2,417.5 327.8,439.3 327.8,417.2 328.2,437.1 328.2,415.6 328.8,437.4 328.8,409.8 329.2,438.1 329.2,411.4 329.8,435.8 329.8,415.9 330.2,437.6 330.2,414.4 330.8,437.0 330.8,413.7 331.2,434.3 331.2,409.8 331.8,433.2 331.8,412.2 332.2,434.2 332.2,413.5 332.8,431.9 332.8,412.2 333.2,434.1 333.2,410.9 333.8,435.3 333.8,412.4 334.2,430.9 334.2,408.8 334.8,436.1 334.8,409.1 335.2,433.1 335.2,409.0 335.8,434.9 335.8,411.1 336.2,434.6 336.2,411.8 336.8,437.2 336.8,403.3 337.2,432.7 337.2,409.1 337.8,435.7 337.8,411.5 338.2,437.6 338.2,411.5 338.8,434.7 338.8,411.4 339.2,432.8 339.2,410.0 339.8,434.4 339.8,407.7 340.2,433.7 340.2,410.1 340.8,440.4 340.8,411.2 341.2,434.8 341.2,410.9 341.8,438.8 341.8,409.5 342.2,435.5 342.2,407.1 342.8,438.5 342.8,412.1 343.2,436.7 343.2,405.9 343.8,436.6 343.8,410.0 344.2,440.9 344.2,408.6 344.8,440.1 344.8,409.4 345.2,442.9 345.2,411.3 345.8,438.9 345.8,409.5 346.2,438.5 346.2,410.3 346.8,438.1 346.8,412.6 347.2,437.8 347.2,402.0 347.8,447.5 347.8,403.5 348.2,440.1 348.2,409.5 348.8,440.0 348.8,408.7 349.2,442.8 349.2,411.2 349.8,438.7 349.8,411.5 350.2,439.7 350.2,404.5 350.8,438.0 350.8,409.5 351.2,440.9 351.2,397.9 351.8,439.6 351.8,401.9 352.2,436.6 352.2,404.5 352.8,441.8 352.8,391.0 353.2,440.1 353.2,403.7 353.8,442.9 353.8,405.3 354.2,441.7 354.2,402.4 354.8,440.2 354.8,405.8 355.2,443.9 355.2,399.0 355.8,461.7 355.8,398.9 356.2,442.8 356.2,406.0 356.8,441.8 356.8,398.9 357.2,437.9 357.2,406.5 357.8,450.9 357.8,402.4 358.2,440.2 358.2,406.5 358.8,439.0 358.8,402.5 359.2,441.9 359.2,405.5 359.8,457.8 359.8,406.2 360.2,445.1 360.2,409.9 360.8,442.4 360.8,407.6 361.2,440.5 361.2,406.6 361.8,449.4 361.8,411.6 362.2,447.4 362.2,413.7 362.8,441.8 362.8,412.8 363.2,454.6 363.2,412.8 363.8,444.8 363.8,411.9 364.2,440.6 364.2,412.7 364.8,440.1 364.8,406.9 365.2,449.7 365.2,413.8 365.8,447.3 365.8,409.5 366.2,439.1 366.2,412.1 366.8,439.5 366.8,408.0 367.2,439.2 367.2,409.5 367.8,438.0 367.8,412.5 368.2,440.3 368.2,410.8 368.8,437.4 368.8,409.8 369.2,437.1 369.2,403.0 369.8,450.0 369.8,408.4 370.2,436.7 370.2,408.1 370.8,437.8 370.8,402.0 371.2,440.7 371.2,405.7 371.8,436.6 371.8,398.0 372.2,433.5 372.2,404.0 372.8,432.3 372.8,405.4 373.2,432.8 373.2,404.0 373.8,437.8 373.8,397.5 374.2,431.9 374.2,395.8 374.8,444.6 374.8,394.3 375.2,443.0 375.2,396.1 375.8,436.9 375.8,394.4 376.2,437.6 376.2,392.2 376.8,430.0 376.8,403.2 377.2,430.2 377.2,404.2 377.8,431.2 377.8,395.7 378.2,437.2 378.2,403.1 378.8,436.5 378.8,403.3 379.2,436.1 379.2,403.6 379.8,439.8 379.8,402.1 380.2,442.9 380.2,398.5 380.8,432.5 380.8,397.4 381.2,432.6 381.2,393.9 381.8,428.8 381.8,402.5 382.2,430.6 382.2,397.7 382.8,443.6 382.8,400.8 383.2,439.3 383.2,388.1 383.8,431.9 383.8,402.5 384.2,436.7 384.2,398.3 384.8,428.9 384.8,402.0 385.2,430.5 385.2,403.2 385.8,437.9 385.8,401.5 386.2,439.0 386.2,406.5 386.8,436.3 386.8,403.8 387.2,440.0 387.2,401.1 387.8,443.6 387.8,404.4 388.2,435.5 388.2,406.8 388.8,434.9 388.8,405.1 389.2,433.3 389.2,403.0 389.8,430.8 389.8,405.3 390.2,435.6 390.2,401.9 390.8,427.9 390.8,402.0 391.2,427.2 391.2,403.5 391.8,431.6 391.8,400.8 392.2,426.9 392.2,403.8 392.8,428.3 392.8,406.1 393.2,435.2 393.2,404.4 393.8,429.6 393.8,401.6 394.2,432.4 394.2,403.0 394.8,434.0 394.8,403.2 395.2,427.7 395.2,405.2 395.8,428.6 395.8,402.5 396.2,433.8 396.2,403.8 396.8,427.3 396.8,406.4 397.2,427.0 397.2,401.6 397.8,428.4 397.8,401.1 398.2,434.7 398.2,404.2 398.8,427.9 398.8,402.3 399.2,437.1 399.2,399.0 399.8,430.3 399.8,408.6 400.2,428.5 400.2,406.5 400.8,437.7 400.8,399.2 401.2,431.6 401.2,403.6 401.8,432.2 401.8,402.9 402.2,430.4 402.2,407.7 402.8,431.0 402.8,407.2 403.2,429.6 403.2,406.8 403.8,428.9 403.8,407.3 404.2,430.0 404.2,406.4 404.8,432.5 404.8,408.8 405.2,429.1 405.2,403.7 405.8,429.6 405.8,404.5 406.2,430.1 406.2,409.1 406.8,428.4 406.8,402.0 407.2,429.9 407.2,407.4 407.8,429.9 407.8,406.2 408.2,429.0 408.2,408.1 408.8,432.5 408.8,404.5 409.2,427.8 409.2,406.0 409.8,428.9 409.8,402.8 410.2,430.0 410.2,401.1 410.8,430.6 410.8,404.7 411.2,427.8 411.2,405.6 411.8,428.0 411.8,395.8 412.2,429.8 412.2,406.5 412.8,426.9 412.8,405.7 413.2,428.3 413.2,398.5 413.8,428.9 413.8,398.3 414.2,429.7 414.2,395.4 414.8,427.5 414.8,406.6 415.2,431.9 415.2,406.5 415.8,426.9 415.8,401.3 416.2,428.9 416.2,400.0 416.8,426.3 416.8,402.7 417.2,429.9 417.2,402.6 417.8,428.0 417.8,391.4 418.2,428.3 418.2,403.0 418.8,426.0 418.8,403.3 419.2,426.1 419.2,397.6 419.8,428.8 419.8,381.2 420.2,431.6 420.2,403.1 420.8,432.1 420.8,403.9 421.2,427.6 421.2,403.8 421.8,439.2 421.8,402.9 422.2,432.6 422.2,388.0 422.8,442.3 422.8,403.1 423.2,428.9 423.2,404.5 423.8,440.2 423.8,405.1 424.2,430.5 424.2,404.6 424.8,445.8 424.8,406.4 425.2,437.2 425.2,403.5 425.8,431.4 425.8,401.6 426.2,436.8 426.2,405.9 426.8,431.5 426.8,407.2 427.2,442.5 427.2,396.4 427.8,440.6 427.8,402.4 428.2,442.3 428.2,399.5 428.8,444.6 428.8,400.8 429.2,435.4 429.2,406.6 429.8,433.3 429.8,403.3 430.2,436.8 430.2,396.3 430.8,436.2 430.8,401.0 431.2,433.0 431.2,400.1 431.8,434.0 431.8,398.8 432.2,441.0 432.2,400.5 432.8,448.9 432.8,393.9 433.2,447.1 433.2,397.4 433.8,434.2 433.8,400.4 434.2,434.6 434.2,404.1 434.8,437.4 434.8,406.3 435.2,443.5 435.2,395.2 435.8,439.8 435.8,399.7 436.2,434.1 436.2,400.3 436.8,442.1 436.8,404.4 437.2,436.4 437.2,406.9 437.8,440.0 437.8,403.4 438.2,438.4 438.2,403.0 438.8,433.8 438.8,404.4 439.2,447.6 439.2,400.4 439.8,435.8 439.8,399.2 440.2,436.5 440.2,400.4 440.8,432.1 440.8,406.1 441.2,433.4 441.2,401.8 441.8,435.2 441.8,398.2 442.2,432.7 442.2,402.3 442.8,432.3 442.8,403.5 443.2,432.7 443.2,402.6 443.8,442.7 443.8,405.2 444.2,437.9 444.2,398.0 444.8,434.3 444.8,401.3 445.2,436.6 445.2,405.7 445.8,436.1 445.8,397.9 446.2,436.4 446.2,403.5 446.8,436.7 446.8,403.1 447.2,443.7 447.2,400.4 447.8,442.6 447.8,409.5 448.2,439.5 448.2,408.9 448.8,437.9 448.8,408.5 449.2,438.0 449.2,409.4 449.8,436.1 449.8,410.7 450.2,438.3 450.2,407.4 450.8,438.8 450.8,411.1 451.2,441.8 451.2,408.0 451.8,444.9 451.8,404.6 452.2,445.5 452.2,411.7 452.8,439.7 452.8,406.7 453.2,441.4 453.2,406.2 453.8,441.3 453.8,408.1 454.2,441.4 454.2,409.4 454.8,440.0 454.8,396.0 455.2,438.1 455.2,396.8 455.8,438.0 455.8,407.2 456.2,439.0 456.2,407.5 456.8,439.4 456.8,403.8 457.2,436.5 457.2,397.7 457.8,439.1 457.8,396.8 458.2,441.5 458.2,403.4 458.8,443.6 458.8,403.2 459.2,438.7 459.2,394.4 459.8,445.5 459.8,401.9 460.2,438.8 460.2,400.7 460.8,441.1 460.8,402.2 461.2,450.7 461.2,386.4 461.8,447.3 461.8,400.3 462.2,433.6 462.2,398.8 462.8,447.2 462.8,392.9 463.2,443.3 463.2,400.8 463.8,432.4 463.8,400.7 464.2,439.5 464.2,398.3 464.8,442.1 464.8,404.1 465.2,433.5 465.2,402.2 465.8,440.8 465.8,404.4 466.2,435.5 466.2,401.8 466.8,433.1 466.8,398.3 467.2,433.4 467.2,402.9 467.8,432.9 467.8,399.6 468.2,437.9 468.2,403.6M471.8,428.2 471.8,403.1 472.2,438.2 472.2,398.0 472.8,432.5 472.8,397.4 473.2,432.2 473.2,397.2 473.8,442.0 473.8,399.5 474.2,431.3 474.2,403.1 474.8,430.4 474.8,402.5 475.2,429.3 475.2,401.8 475.8,432.6 475.8,403.3 476.2,431.7 476.2,400.7 476.8,430.7 476.8,403.4 477.2,435.4 477.2,403.6 477.8,429.3 477.8,392.1 478.2,429.9 478.2,401.7 478.8,443.7 478.8,401.5 479.2,432.7 479.2,400.9 479.8,429.1 479.8,397.1 480.2,439.2 480.2,397.9 480.8,438.9 480.8,394.5 481.2,431.2 481.2,391.2 481.8,431.3 481.8,393.6 482.2,430.2 482.2,401.6 482.8,429.5 482.8,397.4 483.2,430.2 483.2,399.6 483.8,429.4 483.8,398.5 484.2,433.8 484.2,394.7 484.8,433.2 484.8,397.8 485.2,432.7 485.2,399.1 485.8,445.8 485.8,394.3 486.2,433.9 486.2,401.3 486.8,439.5 486.8,401.1 487.2,432.2 487.2,393.6 487.8,434.7 487.8,398.9 488.2,430.9 488.2,396.6 488.8,435.8 488.8,399.8 489.2,442.6 489.2,394.4 489.8,441.1 489.8,397.9 490.2,428.4 490.2,400.3 490.8,430.7 490.8,399.2 491.2,430.0 491.2,399.0 491.8,433.9 491.8,394.4 492.2,450.7 492.2,399.8 492.8,436.7 492.8,400.3 493.2,443.5 493.2,397.0 493.8,433.1 493.8,395.9 494.2,444.0 494.2,401.4 494.8,450.6 494.8,397.1 495.2,449.6 495.2,401.9 495.8,446.8 495.8,395.2 496.2,437.5 496.2,398.7 496.8,445.2 496.8,395.2 497.2,446.0 497.2,396.8 497.8,434.3 497.8,386.7 498.2,439.6 498.2,398.2 498.8,441.6 498.8,399.9 499.2,441.3 499.2,397.0 499.8,432.4 499.8,401.4 500.2,440.6 500.2,389.9 500.8,434.1 500.8,388.8 501.2,455.4 501.2,401.5 501.8,436.4 501.8,402.3 502.2,434.8 502.2,401.1 502.8,435.3 502.8,390.9 503.2,433.9 503.2,389.0 503.8,443.5 503.8,379.1 504.2,447.0 504.2,389.0 504.8,438.0 504.8,399.9 505.2,447.5 505.2,396.3 505.8,432.4 505.8,384.0 506.2,437.6 506.2,400.6 506.8,437.2 506.8,401.6 507.2,437.5 507.2,396.7 507.8,427.1 507.8,397.1 508.2,435.4 508.2,397.1 508.8,425.0 508.8,389.5 509.2,429.2 509.2,393.0 509.8,426.5 509.8,401.6 510.2,424.8 510.2,397.3 510.8,424.4 510.8,398.5 511.2,425.1 511.2,395.8 511.8,428.5 511.8,397.7 512.2,423.2 512.2,396.3 512.8,425.3 512.8,398.3 513.2,423.5 513.2,399.8 513.8,423.7 513.8,394.8 514.2,422.9 514.2,398.8 514.8,431.5 514.8,383.9 515.2,426.0 515.2,400.4 515.8,423.6 515.8,386.6 516.2,426.5 516.2,399.5 516.8,423.6 516.8,399.3 517.2,425.4 517.2,401.8 517.8,434.8 517.8,398.1 518.2,427.1 518.2,402.1 518.8,424.9 518.8,402.6 519.2,437.2 519.2,401.0 519.8,435.5 519.8,403.5 520.2,426.5 520.2,400.7 520.8,435.3 520.8,399.7 521.2,432.1 521.2,398.8 521.8,427.9 521.8,402.1 522.2,426.8 522.2,398.4 522.8,429.6 522.8,394.5 523.2,431.6 523.2,399.5 523.8,426.6 523.8,398.6 524.2,427.6 524.2,393.9 524.8,431.7 524.8,400.5 525.2,444.3 525.2,399.2 525.8,428.9 525.8,399.4 526.2,431.2 526.2,397.7 526.8,431.5 526.8,400.0 527.2,428.1 527.2,399.6 527.8,430.9 527.8,397.7 528.2,430.1 528.2,397.9 528.8,437.4 528.8,389.9 529.2,430.1 529.2,397.1 529.8,424.7 529.8,393.3 530.2,427.9 530.2,397.1 530.8,427.6 530.8,385.9 531.2,425.7 531.2,392.2 531.8,434.2 531.8,394.5 532.2,433.5 532.2,398.0 532.8,423.6 532.8,387.8 533.2,428.4 533.2,395.2 533.8,425.7 533.8,395.5 534.2,432.2 534.2,398.5 534.8,430.7 534.8,387.9 535.2,426.8 535.2,386.5 535.8,426.4 535.8,397.5 536.2,424.7 536.2,395.7 536.8,429.4 536.8,394.7 537.2,426.2 537.2,392.5 537.8,432.1 537.8,391.5 538.2,423.9 538.2,393.0 538.8,430.5 538.8,395.7 539.2,441.1 539.2,394.8 539.8,425.4 539.8,395.6 540.2,429.2 540.2,397.5 540.8,433.6 540.8,396.2 541.2,437.1 541.2,399.3 541.8,430.5 541.8,396.3 542.2,430.1 542.2,386.9 542.8,432.8 542.8,399.8 543.2,431.4 543.2,398.2 543.8,428.3 543.8,392.6 544.2,433.1 544.2,399.1 544.8,430.7 544.8,399.2 545.2,426.7 545.2,401.2 545.8,428.9 545.8,400.2 546.2,431.8 546.2,391.5 546.8,428.6 546.8,399.4 547.2,425.3 547.2,400.1 547.8,425.5 547.8,384.0 548.2,429.3 548.2,399.8 548.8,428.7 548.8,398.9 549.2,427.4 549.2,400.1 549.8,428.7 549.8,400.6 550.2,431.3 550.2,387.6 550.8,425.9 550.8,391.4 551.2,427.2 551.2,396.6 551.8,427.5 551.8,396.0 552.2,425.6 552.2,396.5 552.8,425.3 552.8,399.0 553.2,425.1 553.2,392.9 553.8,428.1 553.8,396.2 554.2,428.2 554.2,396.7 554.8,428.2 554.8,396.7 555.2,426.5 555.2,391.7 555.8,428.3 555.8,396.8 556.2,425.9 556.2,395.3 556.8,427.1 556.8,397.8 557.2,426.5 557.2,395.3 557.8,431.2 557.8,394.1 558.2,427.8 558.2,393.6 558.8,432.1 558.8,394.6 559.2,426.9 559.2,391.2 559.8,426.7 559.8,391.5 560.2,426.8 560.2,393.2 560.8,426.7 560.8,400.3 561.2,432.4 561.2,390.0 561.8,443.7 561.8,394.5 562.2,427.2 562.2,400.1 562.8,429.0 562.8,395.5 563.2,435.1 563.2,401.8 563.8,430.7 563.8,397.8 564.2,430.2 564.2,397.2 564.8,430.4 564.8,402.2 565.2,427.9 565.2,395.9 565.8,427.6 565.8,395.9 566.2,429.3 566.2,400.4 566.8,428.3 566.8,395.3 567.2,426.8 567.2,401.0 567.8,427.9 567.8,398.3 568.2,431.8 568.2,397.3 568.8,427.4 568.8,393.6 569.2,433.6 569.2,396.7 569.8,426.6 569.8,397.2 570.2,426.6 570.2,377.7 570.8,431.2 570.8,387.9 571.2,429.9 571.2,374.9 571.8,435.8 571.8,389.3 572.2,426.7 572.2,390.1 572.8,430.8 572.8,394.6 573.2,425.6 573.2,384.7 573.8,429.2 573.8,391.3 574.2,427.5 574.2,392.4 574.8,429.5 574.8,389.8 575.2,429.3 575.2,372.7 575.8,426.9 575.8,396.2 576.2,428.0 576.2,397.6 576.8,425.4 576.8,393.3 577.2,427.7 577.2,388.6 577.8,425.4 577.8,396.8 578.2,429.5 578.2,394.1 578.8,425.7 578.8,396.9 579.2,424.2 579.2,396.9 579.8,430.0 579.8,396.8 580.2,427.6 580.2,396.4 580.8,426.7 580.8,393.6 581.2,432.4 581.2,394.6 581.8,428.8 581.8,396.4 582.2,435.4 582.2,392.3 582.8,435.5 582.8,395.5 583.2,431.4 583.2,397.7 583.8,428.6 583.8,385.8 584.2,432.5 584.2,385.3 584.8,436.8 584.8,401.0 585.2,430.5 585.2,401.8 585.8,430.5 585.8,400.5 586.2,430.2 586.2,395.5 586.8,430.9 586.8,403.7 587.2,436.7 587.2,402.2 587.8,430.4 587.8,395.2 588.2,430.5 588.2,389.8 588.8,429.3 588.8,398.8 589.2,431.0 589.2,399.2 589.8,431.6 589.8,396.6 590.2,430.5 590.2,390.7 590.8,428.2 590.8,392.8 591.2,437.2 591.2,399.2 591.8,430.3 591.8,402.2 592.2,431.9 592.2,402.5 592.8,428.7 592.8,403.4 593.2,429.8 593.2,399.4 593.8,431.9 593.8,402.9 594.2,430.9 594.2,403.5 594.8,435.0 594.8,400.8 595.2,438.3 595.2,403.5 595.8,436.7 595.8,387.9 596.2,434.9 596.2,393.8 596.8,429.7 596.8,401.4 597.2,431.2 597.2,401.8 597.8,429.4 597.8,405.0 598.2,434.2 598.2,400.3 598.8,431.7 598.8,406.5 599.2,435.6 599.2,390.3 599.8,431.1 599.8,405.2 600.2,429.8 600.2,400.1 600.8,429.6 600.8,407.2 601.2,435.5 601.2,404.0 601.8,431.0 601.8,395.3 602.2,432.7 602.2,403.2 602.8,428.3 602.8,399.4 603.2,430.8 603.2,403.2 603.8,435.2 603.8,405.4 604.2,433.1 604.2,398.5 604.8,442.8 604.8,404.5 605.2,432.0 605.2,404.2 605.8,433.3 605.8,403.5 606.2,426.4 606.2,400.6 606.8,434.0 606.8,400.5 607.2,436.9 607.2,402.6 607.8,428.0 607.8,401.6 608.2,426.0 608.2,401.7 608.8,430.8 608.8,401.4 609.2,426.6 609.2,399.5 609.8,428.2 609.8,396.7 610.2,446.3 610.2,401.0 610.8,424.9 610.8,399.5 611.2,430.2 611.2,401.3 611.8,432.5 611.8,401.3 612.2,428.0 612.2,401.0 612.8,430.5 612.8,398.0 613.2,424.3 613.2,399.9 613.8,431.7 613.8,396.9 614.2,423.8 614.2,399.6 614.8,424.1 614.8,399.8 615.2,426.1 615.2,396.4 615.8,422.7 615.8,395.8 616.2,423.9 616.2,398.2 616.8,423.8 616.8,391.9 617.2,427.4 617.2,394.3 617.8,427.4 617.8,395.5 618.2,428.3 618.2,395.7 618.8,425.0 618.8,397.6 619.2,433.3 619.2,397.1 619.8,430.9 619.8,386.6 620.2,422.7 620.2,394.7 620.8,424.4 620.8,395.7 621.2,431.3 621.2,386.7 621.8,433.8 621.8,393.7 622.2,427.9 622.2,393.0 622.8,429.3 622.8,387.2 623.2,427.5 623.2,387.4 623.8,424.7 623.8,394.2 624.2,425.1 624.2,389.9 624.8,426.1 624.8,394.0 625.2,434.9 625.2,383.4 625.8,427.2 625.8,389.1 626.2,435.3 626.2,392.6 626.8,425.9 626.8,390.2 627.2,427.9 627.2,389.5 627.8,430.7 627.8,389.0 628.2,428.7 628.2,390.6 628.8,432.8 628.8,393.3 629.2,432.0 629.2,389.8 629.8,427.2 629.8,390.8 630.2,432.0 630.2,390.9 630.8,432.7 630.8,392.8 631.2,426.0 631.2,393.7 631.8,434.8 631.8,378.3 632.2,431.0 632.2,387.4 632.8,425.8 632.8,382.3 633.2,438.4 633.2,391.5 633.8,426.8 633.8,388.7 634.2,430.9 634.2,386.0 634.8,425.1 634.8,393.3 635.2,437.3 635.2,389.1 635.8,431.2 635.8,391.8 636.2,429.5 636.2,392.7 636.8,434.2 636.8,392.3 637.2,427.3 637.2,391.6 637.8,424.9 637.8,389.1 638.2,442.2 638.2,394.9 638.8,423.4 638.8,391.9 639.2,430.2 639.2,392.8 639.8,446.8 639.8,394.9 640.2,439.5 640.2,391.4 640.8,432.4 640.8,394.2 641.2,451.8 641.2,392.9 641.8,432.2 641.8,392.0 642.2,433.0 642.2,395.3 642.8,431.9 642.8,395.9 643.2,429.4 643.2,395.8 643.8,433.3 643.8,396.5 644.2,427.7 644.2,394.7 644.8,429.2 644.8,392.7 645.2,426.4 645.2,391.6 645.8,430.1 645.8,382.8 646.2,433.8 646.2,388.7 646.8,433.8 646.8,388.6 647.2,431.1 647.2,392.6 647.8,439.9 647.8,392.6 648.2,429.7 648.2,383.9 648.8,437.7 648.8,378.0 649.2,444.8 649.2,384.6 649.8,425.3 649.8,388.4 650.2,429.2 650.2,388.7 650.8,430.0 650.8,389.2 651.2,426.8 651.2,393.7 651.8,432.8 651.8,377.2 652.2,426.5 652.2,392.8 652.8,435.9 652.8,397.1 653.2,431.0 653.2,383.0 653.8,431.0 653.8,383.0 654.2,425.7 654.2,392.2 654.8,428.6 654.8,395.1 655.2,424.5 655.2,392.7 655.8,427.3 655.8,392.0 656.2,430.9 656.2,392.9 656.8,425.4 656.8,390.6 657.2,427.3 657.2,396.1 657.8,428.1 657.8,400.2 658.2,425.1 658.2,400.4 658.8,427.5 658.8,400.6 659.2,431.2 659.2,402.3 659.8,427.3 659.8,401.0 660.2,438.5 660.2,402.6 660.8,428.6 660.8,395.7 661.2,429.8 661.2,400.1 661.8,433.8 661.8,401.9 662.2,427.3 662.2,400.8 662.8,437.5 662.8,401.2 663.2,425.5 663.2,401.4 663.8,426.3 663.8,400.0 664.2,426.5 664.2,398.4 664.8,428.2 664.8,399.8 665.2,427.0 665.2,392.3 665.8,425.1 665.8,396.8 666.2,429.1 666.2,400.3 666.8,423.8 666.8,398.1 667.2,425.0 667.2,397.2 667.8,423.0 667.8,399.5 668.2,424.5 668.2,399.1 668.8,425.4 668.8,397.7 669.2,423.8 669.2,397.0 669.8,423.4 669.8,399.2 670.2,422.0 670.2,400.0 670.8,440.3 670.8,397.4 671.2,424.9 671.2,396.8 671.8,430.1 671.8,399.2 672.2,424.0 672.2,400.9 672.8,425.8 672.8,399.2 673.2,424.7 673.2,400.3 673.8,432.1 673.8,402.3 674.2,427.5 674.2,398.0 674.8,431.7 674.8,398.3 675.2,435.0 675.2,399.6 675.8,428.5 675.8,396.2 676.2,434.8 676.2,397.4 676.8,427.5 676.8,402.5 677.2,432.6 677.2,401.2 677.8,425.0 677.8,401.5 678.2,425.9 678.2,400.9 678.8,423.5 678.8,397.4 679.2,425.6 679.2,400.1 679.8,425.2 679.8,395.0 680.2,424.6 680.2,396.9 680.8,423.4 680.8,390.7 681.2,421.8 681.2,385.6 681.8,422.8 681.8,392.4 682.2,427.4 682.2,395.2 682.8,424.7 682.8,391.7 683.2,423.6 683.2,386.0 683.8,423.6 683.8,389.3 684.2,423.9 684.2,396.4 684.8,424.6 684.8,392.1 685.2,421.9 685.2,390.3 685.8,423.8 685.8,390.9 686.2,422.0 686.2,394.3 686.8,423.0 686.8,395.9 687.2,427.2 687.2,397.4 687.8,423.6 687.8,390.9 688.2,426.0 688.2,391.0 688.8,423.2 688.8,391.1 689.2,422.9 689.2,396.1 689.8,425.1 689.8,396.1 690.2,424.3 690.2,396.1 690.8,422.1 690.8,393.4 691.2,422.0 691.2,396.1 691.8,423.0 691.8,394.3 692.2,421.7 692.2,396.5 692.8,422.7 692.8,386.9 693.2,423.3 693.2,388.7 693.8,422.8 693.8,393.3 694.2,426.2 694.2,396.9 694.8,423.0 694.8,396.1 695.2,422.6 695.2,377.0 695.8,428.6 695.8,388.5 696.2,426.3 696.2,385.1 696.8,423.4 696.8,382.7 697.2,434.9 697.2,386.2 697.8,422.5 697.8,388.9 698.2,428.8 698.2,389.1 698.8,427.0 698.8,398.2 699.2,428.3 699.2,397.9 699.8,430.5 699.8,396.9 700.2,424.5 700.2,397.5 700.8,428.5 700.8,394.6 701.2,434.6 701.2,392.7 701.8,424.5 701.8,396.0 702.2,427.1 702.2,397.3 702.8,422.5 702.8,397.6 703.2,428.7 703.2,394.8" fill="none" stroke="#4e79a7" stroke-width="1.0" stroke-linejoin="round"/>
<path clip-path="url(#c3)" d="M139.8,606.5 139.8,594.1 140.2,606.5 140.2,592.5 140.8,606.0 140.8,592.1 141.2,606.0 141.2,592.8 141.8,606.3 141.8,592.5 142.2,605.6 142.2,553.0 142.8,605.9 142.8,591.4 143.2,605.9 143.2,592.0 143.8,606.1 143.8,590.6 144.2,605.4 144.2,590.0 144.8,605.6 144.8,590.7 145.2,605.9 145.2,591.1 145.8,606.2 145.8,590.3 146.2,605.5 146.2,589.9 146.8,605.2 146.8,589.0 147.2,605.6 147.2,590.2 147.8,605.3 147.8,590.4 148.2,605.1 148.2,588.6 148.8,605.3 148.8,586.2 149.2,605.2 149.2,582.5 149.8,605.3 149.8,588.3 150.2,605.9 150.2,588.4 150.8,605.9 150.8,589.8 151.2,605.5 151.2,584.9 151.8,606.4 151.8,587.3 152.2,605.4 152.2,589.4 152.8,605.5 152.8,584.7 153.2,606.5 153.2,585.8 153.8,605.7 153.8,584.4 154.2,606.1 154.2,587.7 154.8,606.2 154.8,588.0 155.2,606.6 155.2,576.4 155.8,606.1 155.8,576.5 156.2,605.8 156.2,585.3 156.8,606.1 156.8,588.2 157.2,606.0 157.2,580.5 157.8,605.6 157.8,587.1 158.2,605.4 158.2,582.8 158.8,605.4 158.8,584.0 159.2,605.7 159.2,588.4 159.8,605.1 159.8,584.7 160.2,605.0 160.2,586.6 160.8,606.0 160.8,585.7 161.2,605.1 161.2,579.8 161.8,605.5 161.8,583.2 162.2,605.4 162.2,577.6 162.8,605.2 162.8,587.3 163.2,605.8 163.2,581.9 163.8,605.1 163.8,588.3 164.2,605.0 164.2,589.4 164.8,604.9 164.8,586.3 165.2,605.0 165.2,585.8 165.8,605.2 165.8,589.9 166.2,605.8 166.2,582.9 166.8,605.4 166.8,581.5 167.2,605.7 167.2,587.7 167.8,605.3 167.8,590.0 168.2,605.0 168.2,589.5 168.8,604.7 168.8,590.9 169.2,605.2 169.2,589.8 169.8,605.5 169.8,587.9 170.2,605.0 170.2,585.2 170.8,607.2 170.8,588.9 171.2,605.6 171.2,587.0 171.8,605.6 171.8,591.1 172.2,605.4 172.2,586.8 172.8,605.6 172.8,588.7 173.2,606.8 173.2,589.0 173.8,605.5 173.8,580.0 174.2,605.4 174.2,587.7 174.8,606.0 174.8,587.0 175.2,605.6 175.2,588.1 175.8,605.0 175.8,590.8 176.2,605.5 176.2,588.4 176.8,605.4 176.8,589.7 177.2,605.2 177.2,590.3 177.8,606.0 177.8,590.3 178.2,605.4 178.2,591.1 178.8,605.8 178.8,586.5 179.2,605.3 179.2,589.2 179.8,606.0 179.8,587.7 180.2,605.4 180.2,591.5 180.8,605.8 180.8,587.3 181.2,606.0 181.2,587.6 181.8,605.5 181.8,582.5 182.2,605.4 182.2,588.6 182.8,606.1 182.8,586.7 183.2,605.8 183.2,590.7 183.8,605.0 183.8,588.9 184.2,604.4 184.2,587.9 184.8,604.4 184.8,590.6 185.2,605.9 185.2,590.5 185.8,604.7 185.8,588.3 186.2,604.6 186.2,589.5 186.8,605.2 186.8,591.8 187.2,604.9 187.2,591.1 187.8,605.2 187.8,583.5 188.2,605.7 188.2,592.9 188.8,605.7 188.8,586.8 189.2,604.7 189.2,592.5 189.8,604.7 189.8,584.9 190.2,605.3 190.2,590.9 190.8,604.7 190.8,586.8 191.2,604.8 191.2,585.0 191.8,605.3 191.8,586.9 192.2,604.9 192.2,583.2 192.8,604.8 192.8,589.9 193.2,608.6 193.2,592.4 193.8,606.2 193.8,589.6 194.2,605.3 194.2,591.8 194.8,605.1 194.8,590.3 195.2,605.8 195.2,591.1 195.8,606.0 195.8,587.1 196.2,606.4 196.2,590.7 196.8,605.8 196.8,588.8 197.2,605.6 197.2,586.2 197.8,605.9 197.8,587.0 198.2,606.5 198.2,590.6 198.8,605.6 198.8,589.1 199.2,606.1 199.2,590.1 199.8,605.4 199.8,589.6 200.2,605.6 200.2,589.5 200.8,607.6 200.8,588.0 201.2,606.0 201.2,590.4 201.8,605.9 201.8,588.7 202.2,606.4 202.2,588.3 202.8,605.9 202.8,584.5 203.2,605.8 203.2,585.7 203.8,605.6 203.8,588.9 204.2,605.5 204.2,588.1 204.8,605.9 204.8,590.1 205.2,607.4 205.2,589.4 205.8,605.7 205.8,589.4 206.2,605.5 206.2,584.5 206.8,605.6 206.8,589.3 207.2,608.0 207.2,589.4 207.8,605.3 207.8,586.5 208.2,605.8 208.2,586.7 208.8,604.9 208.8,583.1 209.2,605.2 209.2,586.9 209.8,606.2 209.8,587.7 210.2,605.4 210.2,582.2 210.8,605.3 210.8,590.6 211.2,605.9 211.2,584.2 211.8,605.8 211.8,575.0 212.2,606.4 212.2,590.0 212.8,606.3 212.8,585.2 213.2,606.1 213.2,589.2 213.8,606.1 213.8,577.8 214.2,606.4 214.2,584.1 214.8,606.1 214.8,577.1 215.2,606.2 215.2,586.5 215.8,606.7 215.8,580.0 216.2,606.4 216.2,580.9 216.8,607.3 216.8,578.2 217.2,606.3 217.2,582.0 217.8,606.2 217.8,574.5 218.2,605.8 218.2,587.0 218.8,605.8 218.8,587.7 219.2,605.9 219.2,587.9 219.8,605.8 219.8,583.6 220.2,605.6 220.2,581.9 220.8,605.6 220.8,578.2 221.2,606.2 221.2,585.9 221.8,605.7 221.8,587.8 222.2,606.0 222.2,585.3 222.8,606.2 222.8,587.2 223.2,606.0 223.2,587.3 223.8,605.9 223.8,587.6 224.2,606.5 224.2,591.7 224.8,606.0 224.8,588.7 225.2,606.2 225.2,587.3 225.8,606.6 225.8,589.8 226.2,606.7 226.2,590.4 226.8,606.1 226.8,590.1 227.2,606.2 227.2,587.6 227.8,606.6 227.8,592.0 228.2,606.4 228.2,588.6 228.8,607.5 228.8,586.5 229.2,606.8 229.2,584.6 229.8,606.4 229.8,590.0 230.2,605.9 230.2,586.1 230.8,607.6 230.8,583.4 231.2,607.9 231.2,584.9 231.8,606.5 231.8,585.2 232.2,605.7 232.2,585.5 232.8,605.7 232.8,585.9 233.2,605.0 233.2,583.6 233.8,604.9 233.8,583.4 234.2,606.2 234.2,586.4 234.8,604.7 234.8,585.7 235.2,605.1 235.2,578.2 235.8,604.5 235.8,581.5 236.2,604.9 236.2,582.9 236.8,604.5 236.8,585.7 237.2,604.1 237.2,581.7 237.8,603.9 237.8,580.9 238.2,603.5 238.2,581.4 238.8,603.6 238.8,581.3 239.2,603.8 239.2,582.4 239.8,603.3 239.8,583.7 240.2,602.8 240.2,575.7 240.8,607.2 240.8,577.1 241.2,602.7 241.2,577.6 241.8,601.5 241.8,578.1 242.2,601.1 242.2,582.7 242.8,601.3 242.8,580.0 243.2,601.3 243.2,581.5 243.8,600.7 243.8,582.2 244.2,600.6 244.2,577.9 244.8,601.7 244.8,579.8 245.2,600.3 245.2,579.8 245.8,600.4 245.8,578.3 246.2,600.2 246.2,571.4 246.8,600.6 246.8,575.4 247.2,600.7 247.2,580.5 247.8,605.4 247.8,582.4 248.2,601.5 248.2,579.0 248.8,601.7 248.8,584.3 249.2,601.9 249.2,584.6 249.8,601.5 249.8,585.8 250.2,601.7 250.2,584.3 250.8,602.5 250.8,585.2 251.2,602.3 251.2,583.0 251.8,601.9 251.8,584.5 252.2,602.0 252.2,585.8 252.8,602.8 252.8,583.6 253.2,602.7 253.2,584.2 253.8,602.4 253.8,581.4 254.2,603.2 254.2,581.9 254.8,603.2 254.8,587.6 255.2,603.5 255.2,582.7 255.8,604.1 255.8,585.1 256.2,603.4 256.2,585.7 256.8,603.6 256.8,585.0 257.2,603.6 257.2,580.0 257.8,603.4 257.8,583.4 258.2,603.5 258.2,582.0 258.8,604.2 258.8,588.1 259.2,602.9 259.2,578.6 259.8,603.6 259.8,577.9 260.2,604.6 260.2,586.0 260.8,602.7 260.8,578.8 261.2,603.4 261.2,573.1 261.8,603.0 261.8,571.9 262.2,602.5 262.2,579.9 262.8,602.2 262.8,580.6 263.2,602.8 263.2,582.8 263.8,602.3 263.8,583.1 264.2,602.5 264.2,584.1 264.8,603.1 264.8,583.4 265.2,602.4 265.2,583.8 265.8,602.4 265.8,583.4 266.2,602.8 266.2,582.1 266.8,602.9 266.8,579.0 267.2,602.0 267.2,580.8 267.8,602.5 267.8,568.0 268.2,601.7 268.2,580.2 268.8,601.7 268.8,575.8 269.2,602.5 269.2,576.9 269.8,601.8 269.8,577.7 270.2,602.0 270.2,580.2 270.8,602.7 270.8,571.1 271.2,603.0 271.2,582.6 271.8,602.0 271.8,580.1 272.2,601.9 272.2,579.4 272.8,601.5 272.8,583.1 273.2,601.4 273.2,571.4 273.8,601.2 273.8,576.1 274.2,601.1 274.2,579.3 274.8,600.8 274.8,582.8 275.2,600.5 275.2,579.0 275.8,600.4 275.8,573.1 276.2,600.3 276.2,572.7 276.8,601.2 276.8,575.3 277.2,600.0 277.2,574.0 277.8,599.9 277.8,576.6 278.2,600.5 278.2,575.3 278.8,599.9 278.8,575.4 279.2,599.4 279.2,574.6 279.8,599.6 279.8,566.8 280.2,599.1 280.2,565.4 280.8,599.3 280.8,567.7 281.2,598.4 281.2,560.6 281.8,598.0 281.8,557.8 282.2,597.6 282.2,554.0 282.8,597.4 282.8,556.3 283.2,596.3 283.2,539.7 283.8,595.9 283.8,552.6 284.2,596.2 284.2,541.0 284.8,596.0 284.8,547.1 285.2,596.6 285.2,546.0 285.8,595.0 285.8,539.0 286.2,594.6 286.2,542.1 286.8,594.4 286.8,545.7 287.2,594.4 287.2,535.3 287.8,594.5 287.8,547.3 288.2,594.7 288.2,542.7 288.8,593.8 288.8,527.0 289.2,594.1 289.2,546.2 289.8,594.5 289.8,542.9 290.2,594.0 290.2,542.5 290.8,594.3 290.8,542.6 291.2,593.9 291.2,522.0 291.8,594.5 291.8,523.5 292.2,594.1 292.2,538.3 292.8,595.0 292.8,542.6 293.2,593.4 293.2,541.6 293.8,593.8 293.8,536.3 294.2,593.3 294.2,526.0 294.8,593.3 294.8,532.1 295.2,593.5 295.2,533.4 295.8,593.2 295.8,525.0 296.2,593.3 296.2,524.2 296.8,593.7 296.8,533.1 297.2,592.8 297.2,527.4 297.8,593.4 297.8,539.4 298.2,592.6 298.2,530.0 298.8,592.7 298.8,535.6 299.2,592.8 299.2,535.0 299.8,593.0 299.8,537.3 300.2,592.6 300.2,541.4 300.8,592.5 300.8,535.2 301.2,593.0 301.2,536.7 301.8,592.6 301.8,544.4 302.2,593.0 302.2,535.7 302.8,593.5 302.8,528.5 303.2,592.5 303.2,537.8 303.8,592.4 303.8,532.0 304.2,592.5 304.2,553.8 304.8,592.3 304.8,552.0 305.2,592.2 305.2,530.8 305.8,592.2 305.8,545.6 306.2,592.0 306.2,552.4 306.8,591.9 306.8,550.7 307.2,592.8 307.2,527.8 307.8,591.9 307.8,553.3 308.2,592.3 308.2,550.9 308.8,592.0 308.8,549.5 309.2,592.3 309.2,550.3 309.8,592.2 309.8,542.5 310.2,592.1 310.2,540.0 310.8,591.8 310.8,553.8 311.2,592.1 311.2,551.9 311.8,592.5 311.8,552.4 312.2,593.9 312.2,553.6 312.8,592.2 312.8,556.8 313.2,594.3 313.2,551.0 313.8,592.6 313.8,549.9 314.2,593.1 314.2,555.1 314.8,593.2 314.8,554.6 315.2,593.2 315.2,555.7 315.8,593.5 315.8,549.4 316.2,592.9 316.2,552.2 316.8,593.4 316.8,554.9 317.2,593.1 317.2,550.4 317.8,593.2 317.8,543.4 318.2,593.3 318.2,552.4 318.8,593.2 318.8,551.1 319.2,592.7 319.2,552.6 319.8,593.1 319.8,555.1 320.2,593.4 320.2,547.3 320.8,592.9 320.8,556.4 321.2,593.4 321.2,557.0 321.8,593.5 321.8,555.7 322.2,593.9 322.2,547.6 322.8,594.5 322.8,558.6 323.2,593.8 323.2,558.2 323.8,594.0 323.8,557.1 324.2,594.9 324.2,561.2 324.8,594.6 324.8,560.6 325.2,595.6 325.2,557.8 325.8,595.3 325.8,562.5 326.2,595.7 326.2,567.6 326.8,595.2 326.8,565.4 327.2,596.0 327.2,569.6 327.8,597.0 327.8,565.6 328.2,596.5 328.2,568.1 328.8,598.0 328.8,572.8 329.2,597.9 329.2,574.7 329.8,598.4 329.8,576.3 330.2,599.2 330.2,575.7 330.8,599.8 330.8,576.6 331.2,600.0 331.2,580.0 331.8,600.7 331.8,582.9 332.2,601.1 332.2,581.9 332.8,601.6 332.8,579.4 333.2,601.5 333.2,582.3 333.8,603.3 333.8,583.6 334.2,602.9 334.2,578.0 334.8,602.9 334.8,584.4 335.2,611.3 335.2,582.6 335.8,602.4 335.8,583.2 336.2,602.5 336.2,575.9 336.8,602.6 336.8,584.4 337.2,604.5 337.2,583.8 337.8,602.7 337.8,582.0 338.2,603.1 338.2,585.8 338.8,603.5 338.8,578.3 339.2,603.7 339.2,583.8 339.8,603.5 339.8,585.5 340.2,603.3 340.2,581.8 340.8,603.6 340.8,579.0 341.2,603.2 341.2,581.8 341.8,603.2 341.8,579.4 342.2,603.4 342.2,581.7 342.8,603.5 342.8,578.3 343.2,602.4 343.2,573.4 343.8,602.3 343.8,573.7 344.2,601.9 344.2,573.5 344.8,601.5 344.8,576.8 345.2,601.6 345.2,567.1 345.8,601.4 345.8,568.7 346.2,601.4 346.2,571.5 346.8,601.1 346.8,574.6 347.2,601.7 347.2,562.2 347.8,600.9 347.8,570.1 348.2,600.5 348.2,571.8 348.8,600.4 348.8,570.8 349.2,600.1 349.2,571.9 349.8,600.8 349.8,570.5 350.2,599.9 350.2,568.2 350.8,599.6 350.8,568.6 351.2,599.4 351.2,566.0 351.8,599.4 351.8,568.5 352.2,599.7 352.2,566.6 352.8,598.7 352.8,556.0 353.2,599.8 353.2,559.5 353.8,598.4 353.8,564.6 354.2,598.3 354.2,558.4 354.8,598.8 354.8,553.8 355.2,600.3 355.2,566.2 355.8,600.8 355.8,565.6 356.2,601.2 356.2,555.0 356.8,602.4 356.8,569.7 357.2,603.3 357.2,570.9 357.8,603.6 357.8,570.8 358.2,604.1 358.2,573.6 358.8,604.1 358.8,576.6 359.2,604.5 359.2,580.4 359.8,604.9 359.8,581.2 360.2,604.8 360.2,578.5 360.8,605.4 360.8,581.7 361.2,604.9 361.2,563.9 361.8,604.7 361.8,578.5 362.2,604.8 362.2,574.3 362.8,605.3 362.8,577.8 363.2,605.0 363.2,578.6 363.8,604.8 363.8,578.9 364.2,605.0 364.2,569.8 364.8,605.5 364.8,568.5 365.2,605.2 365.2,582.2 365.8,604.8 365.8,583.1 366.2,604.8 366.2,580.1 366.8,605.5 366.8,572.6 367.2,604.8 367.2,580.9 367.8,604.7 367.8,577.1 368.2,604.9 368.2,581.2 368.8,605.5 368.8,580.0 369.2,605.0 369.2,569.2 369.8,605.1 369.8,573.4 370.2,605.1 370.2,580.9 370.8,606.1 370.8,580.1 371.2,605.9 371.2,584.4 371.8,604.7 371.8,571.5 372.2,604.5 372.2,582.1 372.8,604.7 372.8,586.8 373.2,604.3 373.2,585.7 373.8,604.4 373.8,584.9 374.2,605.0 374.2,585.2 374.8,605.1 374.8,587.9 375.2,604.9 375.2,585.9 375.8,605.6 375.8,585.5 376.2,605.1 376.2,589.5 376.8,605.3 376.8,586.1 377.2,606.5 377.2,586.9 377.8,606.2 377.8,589.2 378.2,606.3 378.2,586.4 378.8,605.8 378.8,586.3 379.2,605.9 379.2,589.5 379.8,605.5 379.8,587.0 380.2,605.4 380.2,586.1 380.8,606.2 380.8,586.5 381.2,605.4 381.2,578.0 381.8,605.3 381.8,587.0 382.2,605.5 382.2,579.2 382.8,605.2 382.8,572.0 383.2,606.0 383.2,582.7 383.8,605.9 383.8,583.9 384.2,605.4 384.2,579.5 384.8,605.2 384.8,580.8 385.2,605.2 385.2,576.1 385.8,606.0 385.8,575.2 386.2,606.3 386.2,580.8 386.8,605.3 386.8,582.7 387.2,605.1 387.2,570.3 387.8,605.1 387.8,584.2 388.2,605.5 388.2,582.9 388.8,605.6 388.8,577.8 389.2,605.4 389.2,573.0 389.8,605.3 389.8,578.9 390.2,605.7 390.2,586.2 390.8,605.5 390.8,579.7 391.2,605.5 391.2,586.8 391.8,605.9 391.8,586.7 392.2,605.6 392.2,585.6 392.8,605.8 392.8,586.1 393.2,605.4 393.2,578.7 393.8,606.2 393.8,585.2 394.2,606.1 394.2,582.4 394.8,605.8 394.8,587.2 395.2,605.7 395.2,588.6 395.8,606.4 395.8,587.6 396.2,605.6 396.2,587.9 396.8,605.6 396.8,585.8 397.2,605.8 397.2,585.9 397.8,606.0 397.8,586.8 398.2,606.5 398.2,588.2 398.8,605.9 398.8,584.2 399.2,606.3 399.2,586.5 399.8,605.8 399.8,585.8 400.2,605.8 400.2,588.4 400.8,606.1 400.8,588.6 401.2,605.6 401.2,587.5 401.8,605.3 401.8,588.7 402.2,605.0 402.2,586.6 402.8,605.3 402.8,585.6 403.2,605.1 403.2,588.5 403.8,604.7 403.8,588.1 404.2,604.8 404.2,584.0 404.8,605.0 404.8,588.1 405.2,605.0 405.2,581.3 405.8,605.2 405.8,588.5 406.2,605.5 406.2,582.6 406.8,605.5 406.8,588.9 407.2,605.6 407.2,587.5 407.8,606.1 407.8,587.8 408.2,606.5 408.2,581.1 408.8,606.5 408.8,588.0 409.2,606.6 409.2,587.9 409.8,606.1 409.8,586.5 410.2,606.3 410.2,585.2 410.8,606.7 410.8,580.3 411.2,606.1 411.2,587.0 411.8,605.9 411.8,586.3 412.2,606.1 412.2,585.2 412.8,605.7 412.8,586.3 413.2,605.8 413.2,583.5 413.8,606.5 413.8,580.4 414.2,605.1 414.2,584.1 414.8,605.8 414.8,580.8 415.2,605.9 415.2,583.2 415.8,605.7 415.8,583.0 416.2,605.8 416.2,572.9 416.8,605.5 416.8,578.9 417.2,605.9 417.2,568.2 417.8,605.5 417.8,583.4 418.2,606.5 418.2,581.7 418.8,605.8 418.8,578.4 419.2,605.4 419.2,583.1 419.8,605.7 419.8,573.8 420.2,605.5 420.2,584.4 420.8,605.4 420.8,581.5 421.2,605.0 421.2,577.3 421.8,604.9 421.8,578.8 422.2,605.4 422.2,585.5 422.8,604.8 422.8,582.3 423.2,605.5 423.2,580.7 423.8,604.8 423.8,581.2 424.2,605.4 424.2,581.8 424.8,604.8 424.8,580.7 425.2,604.9 425.2,583.0 425.8,605.1 425.8,578.4 426.2,605.6 426.2,586.6 426.8,605.5 426.8,579.9 427.2,605.9 427.2,579.6 427.8,606.0 427.8,587.0 428.2,606.2 428.2,580.0 428.8,606.5 428.8,582.9 429.2,606.1 429.2,579.6 429.8,606.0 429.8,574.8 430.2,605.8 430.2,581.6 430.8,605.6 430.8,587.3 431.2,605.8 431.2,575.9 431.8,605.2 431.8,580.6 432.2,605.2 432.2,579.7 432.8,605.0 432.8,587.6 433.2,605.1 433.2,581.9 433.8,605.1 433.8,579.7 434.2,604.7 434.2,582.3 434.8,605.2 434.8,586.4 435.2,605.4 435.2,587.3 435.8,605.7 435.8,585.9 436.2,605.1 436.2,582.3 436.8,605.0 436.8,585.1 437.2,607.1 437.2,587.1 437.8,605.5 437.8,585.3 438.2,606.4 438.2,585.4 438.8,605.7 438.8,582.4 439.2,605.5 439.2,584.6 439.8,605.6 439.8,584.2 440.2,605.9 440.2,582.3 440.8,606.6 440.8,586.0 441.2,605.8 441.2,584.6 441.8,605.5 441.8,581.3 442.2,606.0 442.2,583.0 442.8,605.9 442.8,584.0 443.2,605.3 443.2,578.8 443.8,606.0 443.8,578.1 444.2,605.9 444.2,582.4 444.8,605.3 444.8,588.2 445.2,605.0 445.2,586.6 445.8,604.8 445.8,584.9 446.2,604.7 446.2,588.6 446.8,604.8 446.8,588.8 447.2,605.1 447.2,585.3 447.8,604.6 447.8,586.8 448.2,605.0 448.2,587.7 448.8,605.0 448.8,584.3 449.2,604.6 449.2,585.7 449.8,604.9 449.8,586.7 450.2,604.9 450.2,586.6 450.8,605.0 450.8,587.1 451.2,605.4 451.2,587.7 451.8,605.6 451.8,587.4 452.2,605.6 452.2,588.0 452.8,605.5 452.8,584.9 453.2,605.8 453.2,587.7 453.8,606.3 453.8,583.9 454.2,606.2 454.2,586.6 454.8,605.7 454.8,588.4 455.2,605.8 455.2,584.1 455.8,605.9 455.8,587.2 456.2,605.5 456.2,584.6 456.8,606.5 456.8,588.1 457.2,605.6 457.2,584.4 457.8,605.5 457.8,579.5 458.2,605.7 458.2,588.3 458.8,605.6 458.8,579.0 459.2,605.2 459.2,583.3 459.8,606.1 459.8,587.8 460.2,605.9 460.2,589.8 460.8,606.2 460.8,584.8 461.2,606.1 461.2,585.1 461.8,606.0 461.8,590.9 462.2,605.3 462.2,589.4 462.8,605.9 462.8,584.4 463.2,605.4 463.2,588.7 463.8,605.3 463.8,586.2 464.2,605.3 464.2,589.7 464.8,605.5 464.8,588.0 465.2,605.3 465.2,589.4 465.8,605.1 465.8,585.5 466.2,604.8 466.2,586.8 466.8,605.8 466.8,586.3 467.2,605.4 467.2,588.0 467.8,604.9 467.8,586.0 468.2,604.5 468.2,587.3M471.8,604.6 471.8,589.9 472.2,604.8 472.2,588.5 472.8,604.4 472.8,580.2 473.2,605.7 473.2,524.6 473.8,605.2 473.8,586.6 474.2,605.2 474.2,584.2 474.8,604.8 474.8,583.3 475.2,604.9 475.2,585.2 475.8,605.7 475.8,590.1 476.2,604.9 476.2,586.0 476.8,604.6 476.8,590.2 477.2,604.7 477.2,589.6 477.8,604.8 477.8,590.5 478.2,605.0 478.2,590.4 478.8,604.9 478.8,592.1 479.2,604.5 479.2,586.8 479.8,604.5 479.8,589.1 480.2,605.3 480.2,590.1 480.8,604.6 480.8,589.7 481.2,605.6 481.2,591.7 481.8,605.0 481.8,591.3 482.2,605.9 482.2,591.5 482.8,605.5 482.8,591.0 483.2,605.6 483.2,591.9 483.8,605.6 483.8,582.5 484.2,605.2 484.2,590.4 484.8,605.5 484.8,586.6 485.2,605.5 485.2,590.5 485.8,604.8 485.8,585.7 486.2,605.1 486.2,565.2 486.8,604.6 486.8,589.9 487.2,604.9 487.2,585.8 487.8,605.8 487.8,584.0 488.2,604.1 488.2,586.9 488.8,604.4 488.8,590.4 489.2,603.8 489.2,589.6 489.8,604.7 489.8,588.6 490.2,604.6 490.2,589.5 490.8,603.9 490.8,589.2 491.2,604.1 491.2,589.9 491.8,604.9 491.8,589.4 492.2,603.8 492.2,591.6 492.8,604.6 492.8,587.2 493.2,604.5 493.2,589.3 493.8,604.2 493.8,587.8 494.2,604.3 494.2,592.0 494.8,604.8 494.8,586.9 495.2,604.6 495.2,588.3 495.8,604.8 495.8,588.4 496.2,605.5 496.2,591.4 496.8,604.9 496.8,589.0 497.2,605.0 497.2,586.3 497.8,605.0 497.8,591.8 498.2,604.9 498.2,588.0 498.8,605.3 498.8,589.4 499.2,605.0 499.2,590.5 499.8,605.1 499.8,589.2 500.2,604.5 500.2,589.4 500.8,605.4 500.8,590.5 501.2,604.9 501.2,584.8 501.8,604.4 501.8,592.1 502.2,605.2 502.2,593.3 502.8,604.7 502.8,591.3 503.2,605.1 503.2,562.6 503.8,604.8 503.8,591.1 504.2,605.3 504.2,591.9 504.8,604.8 504.8,590.9 505.2,604.8 505.2,590.4 505.8,604.7 505.8,592.6 506.2,604.6 506.2,592.0 506.8,605.3 506.8,591.2 507.2,605.3 507.2,588.6 507.8,604.8 507.8,587.2 508.2,604.5 508.2,589.4 508.8,604.2 508.8,591.2 509.2,605.1 509.2,588.0 509.8,604.6 509.8,589.6 510.2,604.0 510.2,589.8 510.8,604.3 510.8,587.4 511.2,603.7 511.2,585.3 511.8,603.5 511.8,590.7 512.2,603.6 512.2,586.3 512.8,604.7 512.8,590.5 513.2,603.2 513.2,591.4 513.8,604.3 513.8,589.9 514.2,603.2 514.2,590.3 514.8,603.9 514.8,589.4 515.2,604.0 515.2,588.8 515.8,603.7 515.8,586.4 516.2,603.7 516.2,592.6 516.8,603.2 516.8,591.6 517.2,604.0 517.2,591.4 517.8,603.2 517.8,588.4 518.2,603.3 518.2,588.6 518.8,604.5 518.8,589.9 519.2,603.6 519.2,584.2 519.8,604.0 519.8,592.3 520.2,604.3 520.2,586.1 520.8,604.5 520.8,590.8 521.2,604.5 521.2,591.6 521.8,605.2 521.8,592.3 522.2,604.6 522.2,588.9 522.8,605.3 522.8,588.2 523.2,604.9 523.2,588.9 523.8,605.5 523.8,592.7 524.2,604.8 524.2,592.8 524.8,605.0 524.8,592.8 525.2,605.3 525.2,588.7 525.8,605.7 525.8,592.2 526.2,604.9 526.2,592.6 526.8,604.9 526.8,588.1 527.2,605.3 527.2,590.8 527.8,604.8 527.8,591.7 528.2,605.4 528.2,591.5 528.8,605.3 528.8,592.7 529.2,604.8 529.2,589.9 529.8,605.3 529.8,588.6 530.2,605.6 530.2,590.0 530.8,605.1 530.8,592.2 531.2,605.0 531.2,590.6 531.8,604.3 531.8,590.7 532.2,604.4 532.2,586.4 532.8,604.4 532.8,591.7 533.2,605.2 533.2,592.1 533.8,604.5 533.8,588.7 534.2,604.7 534.2,591.0 534.8,604.3 534.8,587.3 535.2,604.6 535.2,590.7 535.8,605.2 535.8,590.4 536.2,604.8 536.2,592.5 536.8,604.5 536.8,591.4 537.2,604.5 537.2,592.1 537.8,604.3 537.8,591.4 538.2,604.6 538.2,590.1 538.8,605.2 538.8,589.0 539.2,605.3 539.2,586.5 539.8,604.8 539.8,588.1 540.2,604.8 540.2,590.6 540.8,604.5 540.8,587.7 541.2,604.3 541.2,590.4 541.8,604.4 541.8,590.8 542.2,604.5 542.2,591.7 542.8,604.5 542.8,586.7 543.2,605.1 543.2,590.9 543.8,604.6 543.8,586.3 544.2,604.8 544.2,593.5 544.8,604.2 544.8,579.9 545.2,604.4 545.2,586.6 545.8,604.2 545.8,585.9 546.2,605.2 546.2,548.0 546.8,604.5 546.8,527.3 547.2,605.1 547.2,593.3 547.8,604.4 547.8,587.2 548.2,604.7 548.2,593.4 548.8,604.5 548.8,590.4 549.2,604.8 549.2,591.7 549.8,605.2 549.8,591.3 550.2,604.5 550.2,591.6 550.8,605.3 550.8,584.1 551.2,605.2 551.2,591.9 551.8,605.9 551.8,587.0 552.2,605.8 552.2,585.8 552.8,606.0 552.8,587.9 553.2,605.1 553.2,576.4 553.8,605.8 553.8,589.8 554.2,604.9 554.2,587.4 554.8,605.4 554.8,588.8 555.2,605.5 555.2,590.6 555.8,604.8 555.8,585.7 556.2,605.4 556.2,585.1 556.8,605.8 556.8,585.7 557.2,604.7 557.2,587.6 557.8,605.3 557.8,590.9 558.2,604.7 558.2,586.8 558.8,604.7 558.8,583.8 559.2,605.2 559.2,586.5 559.8,604.9 559.8,589.6 560.2,605.2 560.2,589.0 560.8,605.3 560.8,590.1 561.2,605.0 561.2,591.8 561.8,605.0 561.8,591.6 562.2,605.1 562.2,589.3 562.8,604.7 562.8,586.6 563.2,604.8 563.2,588.5 563.8,605.1 563.8,589.5 564.2,605.3 564.2,591.4 564.8,605.1 564.8,591.1 565.2,605.6 565.2,592.1 565.8,605.9 565.8,590.3 566.2,605.2 566.2,592.7 566.8,605.3 566.8,590.7 567.2,606.2 567.2,591.6 567.8,605.5 567.8,587.8 568.2,606.6 568.2,592.0 568.8,605.9 568.8,590.1 569.2,606.1 569.2,589.1 569.8,605.4 569.8,589.9 570.2,605.3 570.2,590.1 570.8,605.2 570.8,587.3 571.2,605.7 571.2,590.1 571.8,604.8 571.8,585.6 572.2,604.8 572.2,582.2 572.8,604.9 572.8,573.0 573.2,604.6 573.2,590.1 573.8,604.6 573.8,588.0 574.2,604.4 574.2,589.5 574.8,604.8 574.8,585.5 575.2,604.3 575.2,590.2 575.8,604.8 575.8,589.7 576.2,604.7 576.2,586.4 576.8,605.6 576.8,588.3 577.2,606.0 577.2,590.1 577.8,605.1 577.8,590.1 578.2,605.3 578.2,590.5 578.8,605.2 578.8,579.0 579.2,605.1 579.2,591.0 579.8,606.0 579.8,587.7 580.2,606.2 580.2,590.8 580.8,604.9 580.8,587.1 581.2,605.0 581.2,587.5 581.8,605.2 581.8,587.0 582.2,605.3 582.2,588.4 582.8,610.0 582.8,590.5 583.2,605.2 583.2,589.8 583.8,605.1 583.8,590.7 584.2,605.4 584.2,590.4 584.8,606.0 584.8,590.4 585.2,605.7 585.2,589.4 585.8,605.5 585.8,592.1 586.2,605.4 586.2,582.6 586.8,605.9 586.8,584.4 587.2,606.0 587.2,590.5 587.8,605.6 587.8,590.0 588.2,605.3 588.2,587.0 588.8,605.4 588.8,584.6 589.2,605.5 589.2,585.8 589.8,605.2 589.8,590.0 590.2,605.5 590.2,584.9 590.8,605.1 590.8,588.3 591.2,605.1 591.2,588.9 591.8,605.8 591.8,589.4 592.2,604.9 592.2,586.4 592.8,605.2 592.8,585.1 593.2,605.3 593.2,590.9 593.8,604.9 593.8,586.3 594.2,605.0 594.2,589.5 594.8,605.0 594.8,590.4 595.2,605.1 595.2,590.9 595.8,604.9 595.8,590.4 596.2,606.1 596.2,591.3 596.8,605.1 596.8,591.0 597.2,605.2 597.2,588.9 597.8,605.8 597.8,586.8 598.2,605.9 598.2,587.6 598.8,605.1 598.8,584.6 599.2,604.9 599.2,588.1 599.8,605.5 599.8,586.8 600.2,605.2 600.2,592.1 600.8,605.1 600.8,590.0 601.2,605.8 601.2,591.6 601.8,605.1 601.8,590.2 602.2,605.9 602.2,589.3 602.8,605.8 602.8,590.3 603.2,605.7 603.2,593.4 603.8,605.1 603.8,593.2 604.2,605.0 604.2,591.5 604.8,604.8 604.8,587.0 605.2,605.3 605.2,589.6 605.8,605.3 605.8,592.7 606.2,606.2 606.2,590.5 606.8,605.6 606.8,587.6 607.2,605.6 607.2,588.4 607.8,605.4 607.8,591.4 608.2,606.1 608.2,588.7 608.8,606.3 608.8,585.2 609.2,606.4 609.2,587.6 609.8,605.3 609.8,591.1 610.2,605.8 610.2,588.1 610.8,605.2 610.8,586.0 611.2,605.5 611.2,589.8 611.8,605.5 611.8,590.0 612.2,604.7 612.2,589.3 612.8,605.0 612.8,589.8 613.2,605.1 613.2,587.6 613.8,605.1 613.8,589.9 614.2,605.4 614.2,591.1 614.8,604.9 614.8,588.0 615.2,605.0 615.2,588.8 615.8,605.4 615.8,587.9 616.2,605.2 616.2,588.8 616.8,605.0 616.8,586.4 617.2,604.8 617.2,589.2 617.8,604.7 617.8,590.6 618.2,604.9 618.2,585.1 618.8,604.5 618.8,584.7 619.2,604.6 619.2,583.8 619.8,604.7 619.8,588.1 620.2,605.4 620.2,588.5 620.8,604.4 620.8,588.6 621.2,605.0 621.2,586.4 621.8,605.3 621.8,587.2 622.2,605.5 622.2,586.1 622.8,605.3 622.8,579.6 623.2,605.0 623.2,588.2 623.8,605.2 623.8,586.2 624.2,605.2 624.2,579.3 624.8,605.4 624.8,585.6 625.2,605.1 625.2,582.6 625.8,605.0 625.8,583.7 626.2,604.6 626.2,587.0 626.8,604.5 626.8,584.8 627.2,605.4 627.2,580.1 627.8,605.0 627.8,588.1 628.2,604.5 628.2,585.8 628.8,605.1 628.8,587.8 629.2,605.0 629.2,588.7 629.8,605.0 629.8,588.2 630.2,604.8 630.2,588.1 630.8,605.2 630.8,588.1 631.2,605.8 631.2,585.7 631.8,605.4 631.8,585.2 632.2,605.4 632.2,588.6 632.8,606.1 632.8,587.4 633.2,605.4 633.2,584.9 633.8,605.5 633.8,584.6 634.2,606.6 634.2,561.8 634.8,605.8 634.8,572.0 635.2,605.3 635.2,583.2 635.8,605.2 635.8,587.0 636.2,605.7 636.2,587.6 636.8,606.1 636.8,583.4 637.2,605.1 637.2,584.7 637.8,605.1 637.8,586.2 638.2,605.0 638.2,583.4 638.8,606.1 638.8,587.5 639.2,605.1 639.2,586.2 639.8,606.2 639.8,583.5 640.2,605.3 640.2,588.4 640.8,605.7 640.8,586.9 641.2,605.5 641.2,585.8 641.8,605.4 641.8,583.4 642.2,606.3 642.2,587.8 642.8,605.6 642.8,586.1 643.2,605.9 643.2,582.0 643.8,605.6 643.8,583.4 644.2,605.6 644.2,587.3 644.8,605.1 644.8,588.0 645.2,605.2 645.2,585.9 645.8,604.8 645.8,588.5 646.2,605.0 646.2,586.2 646.8,604.8 646.8,585.0 647.2,604.8 647.2,587.5 647.8,605.5 647.8,588.2 648.2,606.0 648.2,586.6 648.8,605.5 648.8,588.4 649.2,605.6 649.2,578.9 649.8,606.0 649.8,586.5 650.2,605.7 650.2,589.4 650.8,605.2 650.8,590.6 651.2,606.4 651.2,584.7 651.8,605.2 651.8,589.5 652.2,605.2 652.2,584.2 652.8,605.4 652.8,585.3 653.2,605.3 653.2,582.5 653.8,605.2 653.8,590.1 654.2,605.2 654.2,582.9 654.8,605.3 654.8,590.1 655.2,605.7 655.2,589.0 655.8,604.5 655.8,587.4 656.2,605.2 656.2,590.4 656.8,604.4 656.8,591.9 657.2,605.2 657.2,587.3 657.8,604.5 657.8,587.3 658.2,604.9 658.2,590.3 658.8,604.7 658.8,585.1 659.2,604.6 659.2,586.6 659.8,604.4 659.8,588.6 660.2,605.7 660.2,590.5 660.8,604.9 660.8,590.4 661.2,605.4 661.2,592.3 661.8,604.5 661.8,590.8 662.2,605.2 662.2,588.0 662.8,604.5 662.8,590.6 663.2,605.1 663.2,585.8 663.8,604.5 663.8,590.8 664.2,605.1 664.2,583.7 664.8,604.3 664.8,590.0 665.2,604.6 665.2,592.0 665.8,604.6 665.8,586.1 666.2,604.4 666.2,588.7 666.8,604.2 666.8,588.1 667.2,604.6 667.2,590.6 667.8,604.5 667.8,589.7 668.2,604.9 668.2,586.3 668.8,604.5 668.8,589.1 669.2,604.9 669.2,585.2 669.8,604.7 669.8,592.0 670.2,604.4 670.2,588.5 670.8,604.8 670.8,591.7 671.2,604.4 671.2,584.0 671.8,606.2 671.8,591.4 672.2,604.6 672.2,591.3 672.8,604.7 672.8,589.2 673.2,604.7 673.2,588.4 673.8,604.2 673.8,591.6 674.2,607.3 674.2,585.8 674.8,604.7 674.8,592.2 675.2,604.3 675.2,592.5 675.8,604.3 675.8,589.4 676.2,604.4 676.2,592.6 676.8,604.2 676.8,589.5 677.2,604.4 677.2,591.6 677.8,604.8 677.8,591.0 678.2,604.3 678.2,592.0 678.8,605.3 678.8,588.5 679.2,604.3 679.2,591.4 679.8,604.6 679.8,589.1 680.2,604.7 680.2,590.3 680.8,604.3 680.8,592.7 681.2,605.0 681.2,588.9 681.8,604.5 681.8,591.8 682.2,604.5 682.2,592.3 682.8,605.3 682.8,591.5 683.2,604.7 683.2,589.4 683.8,605.3 683.8,590.2 684.2,606.2 684.2,591.6 684.8,606.4 684.8,589.6 685.2,605.6 685.2,592.1 685.8,605.4 685.8,588.6 686.2,605.7 686.2,589.7 686.8,605.3 686.8,590.3 687.2,605.6 687.2,586.4 687.8,605.5 687.8,584.9 688.2,606.2 688.2,591.5 688.8,605.3 688.8,587.9 689.2,606.2 689.2,583.4 689.8,605.3 689.8,584.6 690.2,605.8 690.2,589.5 690.8,605.2 690.8,584.1 691.2,605.3 691.2,588.1 691.8,604.8 691.8,588.1 692.2,605.6 692.2,590.0 692.8,604.8 692.8,586.1 693.2,604.6 693.2,590.6 693.8,604.7 693.8,590.2 694.2,605.3 694.2,590.4 694.8,604.5 694.8,583.8 695.2,604.3 695.2,583.9 695.8,604.8 695.8,575.4 696.2,605.0 696.2,586.1 696.8,604.4 696.8,590.2 697.2,604.6 697.2,584.7 697.8,605.0 697.8,585.0 698.2,604.7 698.2,580.1 698.8,605.4 698.8,580.5 699.2,604.7 699.2,580.8 699.8,604.8 699.8,590.5 700.2,604.8 700.2,589.8 700.8,605.6 700.8,581.0 701.2,605.3 701.2,580.8 701.8,604.8 701.8,585.7 702.2,604.8 702.2,590.0 702.8,605.1 702.8,586.5 703.2,604.8 703.2,588.1" fill="none" stroke="#4e79a7" stroke-width="1.0" stroke-linejoin="round"/>
<path clip-path="url(#c4)" d="M139.8,696.1 139.8,666.9 140.2,699.4 140.2,665.1 140.8,698.2 140.8,668.5 141.2,694.6 141.2,668.8 141.8,698.0 141.8,666.1 142.2,698.2 142.2,662.6 142.8,699.0 142.8,666.7 143.2,698.0 143.2,663.4 143.8,700.5 143.8,664.0 144.2,696.0 144.2,661.6 144.8,696.2 144.8,664.6 145.2,698.1 145.2,663.3 145.8,695.2 145.8,659.2 146.2,697.8 146.2,664.8 146.8,695.9 146.8,662.2 147.2,696.6 147.2,660.3 147.8,695.2 147.8,659.8 148.2,693.9 148.2,661.6 148.8,694.5 148.8,662.0 149.2,693.1 149.2,660.8 149.8,693.4 149.8,662.7 150.2,694.8 150.2,656.3 150.8,694.4 150.8,658.5 151.2,694.2 151.2,660.7 151.8,693.4 151.8,646.2 152.2,693.6 152.2,662.8 152.8,693.4 152.8,663.2 153.2,694.5 153.2,652.8 153.8,693.1 153.8,659.3 154.2,693.1 154.2,662.9 154.8,693.1 154.8,658.3 155.2,695.7 155.2,662.7 155.8,697.6 155.8,660.4 156.2,695.0 156.2,662.4 156.8,693.6 156.8,663.2 157.2,696.6 157.2,660.8 157.8,696.8 157.8,661.8 158.2,695.0 158.2,659.5 158.8,697.9 158.8,660.7 159.2,700.7 159.2,661.9 159.8,699.4 159.8,660.9 160.2,695.1 160.2,655.7 160.8,698.0 160.8,658.5 161.2,696.0 161.2,657.3 161.8,699.1 161.8,658.7 162.2,700.1 162.2,656.2 162.8,694.1 162.8,661.4 163.2,696.3 163.2,660.5 163.8,699.1 163.8,662.0 164.2,694.7 164.2,658.2 164.8,694.4 164.8,663.0 165.2,697.4 165.2,657.2 165.8,694.2 165.8,664.9 166.2,697.8 166.2,665.6 166.8,698.0 166.8,662.6 167.2,699.6 167.2,665.0 167.8,699.3 167.8,664.4 168.2,695.7 168.2,665.7 168.8,695.7 168.8,663.0 169.2,693.8 169.2,665.1 169.8,694.9 169.8,663.5 170.2,696.1 170.2,663.0 170.8,695.4 170.8,659.9 171.2,694.9 171.2,656.8 171.8,698.6 171.8,662.9 172.2,692.9 172.2,663.8 172.8,693.2 172.8,662.3 173.2,692.2 173.2,665.4 173.8,694.0 173.8,664.1 174.2,694.1 174.2,661.9 174.8,693.1 174.8,665.4 175.2,695.2 175.2,666.7 175.8,694.3 175.8,664.9 176.2,692.7 176.2,665.9 176.8,695.1 176.8,662.7 177.2,696.7 177.2,666.8 177.8,694.7 177.8,666.2 178.2,695.5 178.2,664.9 178.8,695.2 178.8,663.7 179.2,692.0 179.2,666.4 179.8,692.1 179.8,665.5 180.2,696.3 180.2,666.3 180.8,694.4 180.8,663.5 181.2,697.8 181.2,661.2 181.8,693.9 181.8,664.0 182.2,692.4 182.2,665.6 182.8,697.3 182.8,666.9 183.2,700.4 183.2,658.1 183.8,693.8 183.8,664.6 184.2,697.2 184.2,660.5 184.8,692.7 184.8,662.1 185.2,697.9 185.2,663.2 185.8,695.9 185.8,657.3 186.2,697.5 186.2,665.4 186.8,696.4 186.8,663.9 187.2,696.1 187.2,660.8 187.8,691.9 187.8,666.1 188.2,695.8 188.2,657.4 188.8,695.7 188.8,657.3 189.2,691.4 189.2,664.0 189.8,694.6 189.8,660.6 190.2,693.3 190.2,663.3 190.8,693.6 190.8,665.6 191.2,695.7 191.2,657.6 191.8,694.5 191.8,666.6 192.2,691.8 192.2,664.6 192.8,693.5 192.8,661.5 193.2,693.4 193.2,661.3 193.8,692.6 193.8,662.2 194.2,691.6 194.2,660.7 194.8,693.3 194.8,665.8 195.2,692.2 195.2,665.0 195.8,691.7 195.8,661.8 196.2,692.4 196.2,664.2 196.8,691.1 196.8,659.3 197.2,691.3 197.2,657.4 197.8,692.3 197.8,660.5 198.2,693.4 198.2,662.4 198.8,697.7 198.8,665.9 199.2,701.9 199.2,665.7 199.8,697.8 199.8,661.7 200.2,697.9 200.2,666.0 200.8,694.9 200.8,665.8 201.2,697.0 201.2,662.7 201.8,695.8 201.8,664.7 202.2,702.1 202.2,663.4 202.8,695.4 202.8,664.1 203.2,696.9 203.2,658.1 203.8,694.7 203.8,665.4 204.2,700.7 204.2,665.7 204.8,694.5 204.8,665.5 205.2,693.6 205.2,659.0 205.8,695.5 205.8,665.7 206.2,695.5 206.2,664.8 206.8,700.1 206.8,663.5 207.2,701.8 207.2,661.1 207.8,697.9 207.8,665.7 208.2,695.5 208.2,665.7 208.8,696.8 208.8,666.1 209.2,695.3 209.2,665.4 209.8,699.2 209.8,663.7 210.2,695.4 210.2,664.1 210.8,698.2 210.8,660.7 211.2,701.4 211.2,663.2 211.8,697.7 211.8,663.8 212.2,695.6 212.2,664.7 212.8,700.6 212.8,664.9 213.2,695.9 213.2,663.3 213.8,698.4 213.8,659.9 214.2,698.1 214.2,665.3 214.8,701.8 214.8,656.4 215.2,700.2 215.2,666.5 215.8,699.3 215.8,661.7 216.2,696.9 216.2,664.4 216.8,696.6 216.8,663.6 217.2,697.5 217.2,655.6 217.8,699.2 217.8,654.8 218.2,696.7 218.2,660.2 218.8,699.7 218.8,653.8 219.2,698.3 219.2,661.7 219.8,697.3 219.8,663.8 220.2,697.4 220.2,660.9 220.8,696.9 220.8,653.2 221.2,696.6 221.2,665.4 221.8,697.4 221.8,656.0 222.2,697.4 222.2,664.8 222.8,699.5 222.8,658.7 223.2,702.3 223.2,663.8 223.8,702.8 223.8,661.5 224.2,698.9 224.2,664.2 224.8,697.0 224.8,665.8 225.2,701.0 225.2,664.2 225.8,701.5 225.8,666.5 226.2,698.3 226.2,666.6 226.8,697.0 226.8,664.3 227.2,695.7 227.2,667.8 227.8,698.1 227.8,667.2 228.2,696.5 228.2,667.8 228.8,700.1 228.8,666.2 229.2,701.6 229.2,666.3 229.8,707.9 229.8,667.7 230.2,701.8 230.2,667.3 230.8,702.3 230.8,667.8 231.2,704.7 231.2,667.4 231.8,706.4 231.8,669.0 232.2,702.2 232.2,669.4 232.8,701.2 232.8,667.5 233.2,699.6 233.2,669.2 233.8,705.5 233.8,669.7 234.2,702.4 234.2,669.3 234.8,701.7 234.8,669.4 235.2,699.7 235.2,666.8 235.8,701.1 235.8,670.3 236.2,703.8 236.2,673.7 236.8,704.5 236.8,678.7 237.2,707.1 237.2,680.9 237.8,708.2 237.8,684.0 238.2,707.9 238.2,684.5 238.8,709.6 238.8,681.1 239.2,707.5 239.2,680.8 239.8,707.8 239.8,682.8 240.2,710.5 240.2,682.3 240.8,708.4 240.8,682.2 241.2,708.9 241.2,681.2 241.8,707.1 241.8,682.4 242.2,707.1 242.2,682.6 242.8,711.3 242.8,680.8 243.2,708.5 243.2,684.9 243.8,711.1 243.8,684.1 244.2,709.3 244.2,684.0 244.8,718.4 244.8,684.6 245.2,711.5 245.2,684.3 245.8,712.7 245.8,682.7 246.2,711.4 246.2,683.7 246.8,709.7 246.8,679.6 247.2,707.9 247.2,682.4 247.8,706.4 247.8,681.4 248.2,711.1 248.2,681.1 248.8,705.2 248.8,677.7 249.2,705.3 249.2,674.3 249.8,704.8 249.8,678.8 250.2,705.0 250.2,675.7 250.8,704.1 250.8,677.9 251.2,704.1 251.2,675.6 251.8,700.5 251.8,671.4 252.2,696.0 252.2,666.8 252.8,693.6 252.8,667.2 253.2,693.7 253.2,670.5 253.8,696.3 253.8,670.6 254.2,695.5 254.2,670.2 254.8,696.1 254.8,659.9 255.2,695.9 255.2,668.8 255.8,695.5 255.8,669.3 256.2,695.9 256.2,672.5 256.8,696.4 256.8,670.2 257.2,695.8 257.2,659.5 257.8,706.0 257.8,669.7 258.2,700.2 258.2,670.6 258.8,696.2 258.8,671.0 259.2,697.0 259.2,667.6 259.8,697.8 259.8,671.3 260.2,698.2 260.2,668.5 260.8,695.9 260.8,673.5 261.2,697.2 261.2,671.7 261.8,696.8 261.8,669.7 262.2,698.2 262.2,670.1 262.8,698.9 262.8,668.9 263.2,697.2 263.2,671.3 263.8,699.3 263.8,668.7 264.2,696.4 264.2,673.2 264.8,696.8 264.8,673.3 265.2,706.4 265.2,672.6 265.8,697.0 265.8,672.5 266.2,698.0 266.2,673.4 266.8,705.2 266.8,670.8 267.2,701.8 267.2,671.6 267.8,697.6 267.8,672.9 268.2,701.2 268.2,669.2 268.8,697.7 268.8,671.3 269.2,703.4 269.2,673.5 269.8,702.6 269.8,672.7 270.2,698.2 270.2,669.6 270.8,699.2 270.8,666.9 271.2,699.2 271.2,668.4 271.8,698.5 271.8,663.0 272.2,700.7 272.2,670.5 272.8,700.6 272.8,665.1 273.2,699.3 273.2,673.7 273.8,699.0 273.8,667.8 274.2,703.6 274.2,669.9 274.8,699.5 274.8,673.5 275.2,697.4 275.2,672.7 275.8,699.2 275.8,659.5 276.2,703.3 276.2,663.5 276.8,701.2 276.8,670.7 277.2,700.4 277.2,661.1 277.8,700.8 277.8,667.5 278.2,700.4 278.2,672.3 278.8,708.4 278.8,674.9 279.2,707.6 279.2,678.0 279.8,710.6 279.8,679.6 280.2,713.6 280.2,684.1 280.8,714.6 280.8,685.7 281.2,719.4 281.2,690.6 281.8,717.8 281.8,689.7 282.2,716.6 282.2,689.7 282.8,719.0 282.8,691.4 283.2,717.4 283.2,690.0 283.8,718.5 283.8,689.0 284.2,716.3 284.2,691.6 284.8,717.9 284.8,685.9 285.2,724.0 285.2,689.2 285.8,721.0 285.8,690.9 286.2,717.9 286.2,688.6 286.8,717.2 286.8,687.6 287.2,718.2 287.2,690.9 287.8,719.5 287.8,690.4 288.2,717.2 288.2,687.5 288.8,720.1 288.8,688.2 289.2,729.2 289.2,689.9 289.8,726.6 289.8,687.2 290.2,718.7 290.2,690.8 290.8,722.4 290.8,690.5 291.2,721.0 291.2,689.8 291.8,723.0 291.8,691.1 292.2,719.7 292.2,688.8 292.8,717.7 292.8,693.0 293.2,719.0 293.2,693.2 293.8,722.0 293.8,687.3 294.2,730.0 294.2,687.3 294.8,718.1 294.8,691.8 295.2,719.8 295.2,690.9 295.8,717.5 295.8,693.4 296.2,721.3 296.2,689.5 296.8,717.8 296.8,691.5 297.2,724.7 297.2,692.5 297.8,720.4 297.8,692.8 298.2,718.4 298.2,690.4 298.8,726.3 298.8,690.0 299.2,721.4 299.2,693.2 299.8,726.1 299.8,684.3 300.2,732.6 300.2,689.5 300.8,729.7 300.8,678.7 301.2,729.5 301.2,692.9 301.8,723.4 301.8,683.5 302.2,728.5 302.2,694.8 302.8,727.0 302.8,694.8 303.2,730.4 303.2,690.7 303.8,726.6 303.8,691.8 304.2,720.8 304.2,687.1 304.8,728.2 304.8,688.6 305.2,723.5 305.2,692.4 305.8,721.3 305.8,691.5 306.2,723.9 306.2,691.7 306.8,720.4 306.8,693.7 307.2,721.2 307.2,692.7 307.8,721.8 307.8,690.1 308.2,721.3 308.2,692.0 308.8,721.2 308.8,692.2 309.2,720.9 309.2,688.1 309.8,720.7 309.8,692.3 310.2,722.8 310.2,691.6 310.8,725.6 310.8,694.2 311.2,722.0 311.2,694.2 311.8,727.5 311.8,691.8 312.2,721.3 312.2,692.3 312.8,722.5 312.8,691.8 313.2,721.5 313.2,692.8 313.8,720.3 313.8,688.1 314.2,721.0 314.2,693.2 314.8,721.3 314.8,683.4 315.2,723.2 315.2,686.1 315.8,720.2 315.8,684.5 316.2,719.9 316.2,690.0 316.8,722.3 316.8,692.7 317.2,720.9 317.2,682.9 317.8,720.4 317.8,682.0 318.2,719.2 318.2,689.5 318.8,723.2 318.8,689.1 319.2,719.5 319.2,688.6 319.8,720.0 319.8,691.6 320.2,721.5 320.2,689.4 320.8,723.6 320.8,690.6 321.2,720.0 321.2,689.0 321.8,718.4 321.8,688.2 322.2,718.8 322.2,687.4 322.8,720.6 322.8,689.7 323.2,721.0 323.2,688.5 323.8,720.8 323.8,690.9 324.2,717.4 324.2,691.4 324.8,719.3 324.8,691.3 325.2,722.2 325.2,686.9 325.8,718.3 325.8,688.1 326.2,717.0 326.2,687.1 326.8,717.0 326.8,689.7 327.2,718.9 327.2,690.6 327.8,716.6 327.8,690.1 328.2,718.1 328.2,687.0 328.8,713.0 328.8,688.9 329.2,713.0 329.2,684.8 329.8,712.5 329.8,685.7 330.2,707.3 330.2,680.9 330.8,708.0 330.8,680.5 331.2,706.0 331.2,680.7 331.8,704.5 331.8,680.3 332.2,705.3 332.2,678.8 332.8,707.2 332.8,677.1 333.2,704.7 333.2,675.0 333.8,708.3 333.8,677.5 334.2,708.2 334.2,676.8 334.8,717.0 334.8,672.8 335.2,706.4 335.2,676.4 335.8,708.6 335.8,673.7 336.2,709.4 336.2,670.3 336.8,705.8 336.8,672.7 337.2,710.7 337.2,675.8 337.8,707.5 337.8,658.8 338.2,711.4 338.2,659.6 338.8,713.8 338.8,669.5 339.2,707.4 339.2,665.6 339.8,710.5 339.8,670.7 340.2,706.4 340.2,674.3 340.8,710.7 340.8,672.5 341.2,711.1 341.2,674.0 341.8,712.8 341.8,673.3 342.2,708.4 342.2,673.7 342.8,707.6 342.8,671.5 343.2,713.0 343.2,675.6 343.8,707.5 343.8,676.3 344.2,708.3 344.2,668.1 344.8,708.6 344.8,676.4 345.2,707.7 345.2,664.8 345.8,708.8 345.8,672.8 346.2,708.4 346.2,676.2 346.8,709.9 346.8,674.1 347.2,713.7 347.2,674.5 347.8,711.9 347.8,677.4 348.2,711.7 348.2,677.0 348.8,717.6 348.8,672.5 349.2,714.9 349.2,673.7 349.8,711.1 349.8,676.2 350.2,711.6 350.2,676.5 350.8,715.0 350.8,677.6 351.2,710.8 351.2,676.8 351.8,716.5 351.8,677.2 352.2,714.8 352.2,677.5 352.8,722.0 352.8,673.7 353.2,714.5 353.2,676.1 353.8,711.4 353.8,674.0 354.2,709.9 354.2,674.2 354.8,707.7 354.8,669.2 355.2,710.9 355.2,674.8 355.8,706.5 355.8,672.9 356.2,705.9 356.2,665.4 356.8,711.2 356.8,672.4 357.2,709.4 357.2,672.1 357.8,701.9 357.8,664.9 358.2,706.6 358.2,669.8 358.8,703.1 358.8,668.3 359.2,706.3 359.2,660.0 359.8,700.4 359.8,666.7 360.2,699.3 360.2,669.4 360.8,703.1 360.8,666.3 361.2,709.0 361.2,667.8 361.8,704.5 361.8,666.0 362.2,704.7 362.2,668.5 362.8,700.6 362.8,664.8 363.2,706.6 363.2,664.7 363.8,700.9 363.8,668.8 364.2,703.6 364.2,667.9 364.8,700.9 364.8,665.2 365.2,704.0 365.2,659.9 365.8,700.9 365.8,669.4 366.2,701.6 366.2,660.2 366.8,701.9 366.8,659.7 367.2,699.9 367.2,657.5 367.8,700.1 367.8,656.3 368.2,704.9 368.2,664.4 368.8,700.7 368.8,660.4 369.2,704.5 369.2,668.2 369.8,701.6 369.8,664.9 370.2,700.0 370.2,661.9 370.8,715.6 370.8,665.6 371.2,698.8 371.2,660.4 371.8,702.8 371.8,660.3 372.2,700.4 372.2,663.5 372.8,699.5 372.8,661.3 373.2,697.4 373.2,662.9 373.8,693.4 373.8,664.1 374.2,699.7 374.2,664.9 374.8,701.5 374.8,665.4 375.2,694.1 375.2,662.9 375.8,699.1 375.8,662.8 376.2,696.1 376.2,654.8 376.8,698.9 376.8,666.9 377.2,695.9 377.2,666.6 377.8,697.7 377.8,666.6 378.2,700.6 378.2,665.5 378.8,695.1 378.8,662.2 379.2,701.5 379.2,666.8 379.8,700.6 379.8,664.6 380.2,703.5 380.2,665.8 380.8,697.5 380.8,667.8 381.2,699.5 381.2,663.5 381.8,703.0 381.8,666.7 382.2,699.6 382.2,668.1 382.8,702.8 382.8,664.8 383.2,699.9 383.2,666.5 383.8,704.0 383.8,665.6 384.2,702.2 384.2,666.0 384.8,705.2 384.8,668.4 385.2,697.8 385.2,667.2 385.8,703.0 385.8,669.2 386.2,699.9 386.2,668.2 386.8,698.8 386.8,669.1 387.2,696.7 387.2,668.1 387.8,696.8 387.8,668.6 388.2,700.7 388.2,669.2 388.8,699.4 388.8,666.9 389.2,700.5 389.2,668.7 389.8,699.0 389.8,664.8 390.2,700.8 390.2,665.3 390.8,699.4 390.8,669.4 391.2,697.7 391.2,668.7 391.8,696.6 391.8,667.0 392.2,701.3 392.2,670.4 392.8,701.8 392.8,667.2 393.2,703.4 393.2,666.4 393.8,701.2 393.8,670.9 394.2,696.6 394.2,668.3 394.8,703.2 394.8,669.1 395.2,698.8 395.2,670.0 395.8,700.5 395.8,670.6 396.2,695.0 396.2,670.3 396.8,697.4 396.8,668.5 397.2,697.2 397.2,671.8 397.8,697.1 397.8,671.6 398.2,695.1 398.2,672.3 398.8,696.9 398.8,672.6 399.2,694.6 399.2,667.2 399.8,698.9 399.8,671.2 400.2,695.7 400.2,667.7 400.8,694.2 400.8,672.5 401.2,696.4 401.2,668.7 401.8,698.3 401.8,669.1 402.2,693.9 402.2,669.6 402.8,695.1 402.8,668.1 403.2,694.6 403.2,668.5 403.8,697.0 403.8,671.5 404.2,699.4 404.2,670.7 404.8,697.2 404.8,671.8 405.2,697.5 405.2,666.5 405.8,698.8 405.8,671.1 406.2,698.3 406.2,669.6 406.8,697.4 406.8,665.4 407.2,697.7 407.2,664.2 407.8,700.0 407.8,665.6 408.2,698.2 408.2,667.4 408.8,697.6 408.8,667.5 409.2,699.5 409.2,665.7 409.8,699.9 409.8,662.1 410.2,702.3 410.2,666.2 410.8,704.4 410.8,666.6 411.2,701.4 411.2,666.8 411.8,699.9 411.8,662.6 412.2,705.6 412.2,662.7 412.8,701.8 412.8,667.4 413.2,705.5 413.2,666.3 413.8,703.2 413.8,668.9 414.2,701.0 414.2,666.1 414.8,703.6 414.8,661.5 415.2,700.0 415.2,665.8 415.8,705.7 415.8,667.0 416.2,701.3 416.2,667.7 416.8,704.7 416.8,665.7 417.2,701.6 417.2,670.0 417.8,698.8 417.8,666.8 418.2,700.8 418.2,669.1 418.8,702.1 418.8,666.5 419.2,698.5 419.2,669.5 419.8,699.1 419.8,666.5 420.2,700.1 420.2,662.9 420.8,698.4 420.8,665.5 421.2,701.2 421.2,667.5 421.8,703.7 421.8,658.7 422.2,700.3 422.2,665.1 422.8,698.1 422.8,668.3 423.2,700.9 423.2,667.9 423.8,702.3 423.8,670.5 424.2,700.8 424.2,664.6 424.8,700.3 424.8,665.2 425.2,699.5 425.2,656.4 425.8,708.8 425.8,667.0 426.2,701.6 426.2,660.7 426.8,702.1 426.8,667.7 427.2,702.3 427.2,667.3 427.8,704.2 427.8,669.4 428.2,697.8 428.2,658.9 428.8,698.5 428.8,668.8 429.2,700.4 429.2,669.0 429.8,702.0 429.8,665.9 430.2,702.7 430.2,666.7 430.8,699.6 430.8,656.6 431.2,702.5 431.2,664.0 431.8,703.9 431.8,662.7 432.2,697.8 432.2,666.0 432.8,699.4 432.8,663.9 433.2,698.4 433.2,660.6 433.8,697.3 433.8,666.1 434.2,697.7 434.2,662.2 434.8,699.8 434.8,659.2 435.2,698.6 435.2,661.8 435.8,699.0 435.8,662.6 436.2,699.3 436.2,664.4 436.8,703.0 436.8,662.2 437.2,703.7 437.2,663.0 437.8,701.2 437.8,662.4 438.2,699.3 438.2,665.1 438.8,697.8 438.8,664.9 439.2,695.3 439.2,664.0 439.8,696.7 439.8,663.3 440.2,694.8 440.2,661.2 440.8,698.8 440.8,662.6 441.2,698.7 441.2,665.0 441.8,695.7 441.8,666.2 442.2,699.0 442.2,666.0 442.8,695.3 442.8,666.7 443.2,693.4 443.2,665.9 443.8,694.2 443.8,665.6 444.2,692.5 444.2,667.2 444.8,694.2 444.8,667.7 445.2,692.5 445.2,667.7 445.8,693.2 445.8,666.5 446.2,692.0 446.2,665.3 446.8,691.9 446.8,668.5 447.2,693.9 447.2,666.1 447.8,692.9 447.8,667.0 448.2,697.8 448.2,668.6 448.8,693.2 448.8,664.9 449.2,691.6 449.2,664.4 449.8,692.5 449.8,666.9 450.2,691.3 450.2,666.9 450.8,692.6 450.8,669.5 451.2,691.4 451.2,665.5 451.8,692.1 451.8,668.7 452.2,691.3 452.2,664.9 452.8,693.3 452.8,662.9 453.2,692.2 453.2,659.2 453.8,692.1 453.8,667.7 454.2,691.9 454.2,662.7 454.8,691.9 454.8,662.7 455.2,694.4 455.2,660.3 455.8,696.2 455.8,667.9 456.2,692.9 456.2,662.2 456.8,695.4 456.8,656.2 457.2,696.2 457.2,660.1 457.8,696.4 457.8,660.0 458.2,694.1 458.2,665.4 458.8,697.0 458.8,664.8 459.2,699.5 459.2,665.0 459.8,701.5 459.8,666.4 460.2,696.2 460.2,663.6 460.8,703.4 460.8,666.2 461.2,701.4 461.2,664.0 461.8,701.7 461.8,666.2 462.2,695.1 462.2,662.4 462.8,700.2 462.8,665.8 463.2,700.3 463.2,663.1 463.8,707.7 463.8,663.4 464.2,698.7 464.2,664.0 464.8,703.2 464.8,659.8 465.2,707.7 465.2,659.8 465.8,696.6 465.8,656.5 466.2,699.9 466.2,665.6 466.8,700.4 466.8,663.4 467.2,698.6 467.2,666.5 467.8,702.6 467.8,661.8 468.2,701.6 468.2,663.1M471.8,700.9 471.8,667.9 472.2,704.8 472.2,668.7 472.8,703.3 472.8,667.5 473.2,703.3 473.2,669.3 473.8,699.5 473.8,668.0 474.2,704.0 474.2,668.1 474.8,699.4 474.8,662.0 475.2,699.1 475.2,666.1 475.8,701.9 475.8,669.4 476.2,705.7 476.2,669.1 476.8,701.1 476.8,667.2 477.2,704.0 477.2,665.5 477.8,700.5 477.8,663.1 478.2,699.5 478.2,669.3 478.8,707.8 478.8,666.9 479.2,704.2 479.2,661.2 479.8,698.7 479.8,666.0 480.2,701.5 480.2,667.9 480.8,712.8 480.8,668.8 481.2,698.5 481.2,660.9 481.8,706.3 481.8,665.7 482.2,708.4 482.2,668.3 482.8,704.5 482.8,665.3 483.2,701.1 483.2,668.6 483.8,700.4 483.8,665.8 484.2,699.5 484.2,668.2 484.8,701.4 484.8,666.5 485.2,702.7 485.2,664.1 485.8,702.1 485.8,665.8 486.2,699.9 486.2,666.6 486.8,700.6 486.8,665.3 487.2,699.7 487.2,666.4 487.8,696.9 487.8,666.5 488.2,696.9 488.2,665.9 488.8,695.9 488.8,660.9 489.2,698.5 489.2,665.4 489.8,698.7 489.8,665.1 490.2,699.5 490.2,654.6 490.8,695.5 490.8,662.8 491.2,696.2 491.2,650.6 491.8,696.8 491.8,667.2 492.2,695.6 492.2,665.7 492.8,697.2 492.8,658.0 493.2,696.5 493.2,659.7 493.8,697.3 493.8,663.5 494.2,695.5 494.2,665.1 494.8,696.7 494.8,666.4 495.2,697.1 495.2,662.4 495.8,700.0 495.8,659.8 496.2,709.5 496.2,664.9 496.8,697.3 496.8,666.1 497.2,695.9 497.2,665.7 497.8,695.5 497.8,656.2 498.2,693.5 498.2,663.9 498.8,694.7 498.8,659.5 499.2,695.6 499.2,664.9 499.8,693.7 499.8,664.8 500.2,694.5 500.2,663.3 500.8,696.8 500.8,662.8 501.2,693.5 501.2,664.7 501.8,697.6 501.8,665.8 502.2,695.0 502.2,664.7 502.8,693.7 502.8,665.5 503.2,694.6 503.2,659.2 503.8,695.5 503.8,665.4 504.2,695.2 504.2,666.6 504.8,696.0 504.8,665.4 505.2,695.1 505.2,663.2 505.8,694.9 505.8,668.2 506.2,695.1 506.2,669.0 506.8,695.6 506.8,668.2 507.2,696.5 507.2,669.1 507.8,697.2 507.8,669.4 508.2,696.9 508.2,669.0 508.8,698.2 508.8,670.0 509.2,697.8 509.2,670.8 509.8,696.6 509.8,666.5 510.2,696.4 510.2,663.9 510.8,696.8 510.8,660.0 511.2,699.4 511.2,665.6 511.8,696.4 511.8,667.2 512.2,701.5 512.2,668.2 512.8,697.3 512.8,670.7 513.2,697.2 513.2,665.3 513.8,699.7 513.8,670.1 514.2,702.9 514.2,670.1 514.8,698.6 514.8,671.9 515.2,698.3 515.2,670.9 515.8,698.1 515.8,671.8 516.2,694.9 516.2,669.7 516.8,698.2 516.8,668.9 517.2,697.9 517.2,670.8 517.8,694.3 517.8,667.4 518.2,694.5 518.2,669.0 518.8,694.9 518.8,670.4 519.2,696.8 519.2,669.4 519.8,695.6 519.8,669.7 520.2,696.1 520.2,668.4 520.8,693.8 520.8,667.9 521.2,695.8 521.2,666.8 521.8,696.3 521.8,667.5 522.2,692.7 522.2,664.6 522.8,692.8 522.8,666.3 523.2,698.1 523.2,663.5 523.8,695.0 523.8,664.9 524.2,699.2 524.2,667.5 524.8,693.3 524.8,666.2 525.2,693.4 525.2,664.1 525.8,694.1 525.8,664.6 526.2,694.3 526.2,666.1 526.8,701.3 526.8,665.6 527.2,701.4 527.2,665.7 527.8,693.5 527.8,666.0 528.2,695.9 528.2,665.4 528.8,694.3 528.8,664.5 529.2,696.9 529.2,663.4 529.8,696.2 529.8,665.6 530.2,698.3 530.2,660.5 530.8,695.3 530.8,665.2 531.2,697.3 531.2,660.5 531.8,692.4 531.8,661.3 532.2,694.3 532.2,664.0 532.8,697.6 532.8,659.3 533.2,696.0 533.2,654.9 533.8,693.6 533.8,664.9 534.2,692.8 534.2,662.5 534.8,699.4 534.8,652.8 535.2,693.2 535.2,663.3 535.8,692.5 535.8,664.3 536.2,692.6 536.2,660.9 536.8,695.9 536.8,658.7 537.2,695.1 537.2,658.0 537.8,693.3 537.8,664.4 538.2,694.6 538.2,665.4 538.8,692.9 538.8,664.6 539.2,692.6 539.2,664.3 539.8,693.4 539.8,665.6 540.2,695.8 540.2,665.2 540.8,696.9 540.8,664.2 541.2,692.7 541.2,666.7 541.8,702.2 541.8,666.1 542.2,698.3 542.2,667.0 542.8,696.7 542.8,665.3 543.2,700.1 543.2,663.9 543.8,693.5 543.8,666.0 544.2,693.1 544.2,664.6 544.8,699.0 544.8,659.6 545.2,697.4 545.2,664.9 545.8,700.0 545.8,667.0 546.2,698.1 546.2,665.4 546.8,695.7 546.8,661.9 547.2,696.4 547.2,658.2 547.8,698.6 547.8,662.9 548.2,698.1 548.2,659.4 548.8,698.1 548.8,664.4 549.2,697.5 549.2,666.9 549.8,702.9 549.8,655.6 550.2,702.6 550.2,666.7 550.8,695.2 550.8,666.2 551.2,696.0 551.2,666.3 551.8,699.5 551.8,667.2 552.2,700.7 552.2,666.6 552.8,696.3 552.8,662.7 553.2,698.8 553.2,666.9 553.8,695.6 553.8,666.5 554.2,696.4 554.2,664.7 554.8,698.9 554.8,661.1 555.2,696.1 555.2,658.5 555.8,700.7 555.8,661.7 556.2,697.0 556.2,664.6 556.8,697.5 556.8,662.7 557.2,698.1 557.2,665.7 557.8,699.9 557.8,660.8 558.2,702.5 558.2,661.0 558.8,697.7 558.8,659.3 559.2,707.7 559.2,666.3 559.8,697.6 559.8,659.0 560.2,697.0 560.2,661.8 560.8,700.0 560.8,659.4 561.2,698.5 561.2,660.5 561.8,698.8 561.8,655.6 562.2,702.1 562.2,666.5 562.8,699.1 562.8,665.5 563.2,697.3 563.2,653.6 563.8,700.7 563.8,665.8 564.2,700.6 564.2,666.2 564.8,697.6 564.8,666.9 565.2,702.0 565.2,658.8 565.8,706.3 565.8,666.7 566.2,709.0 566.2,665.2 566.8,698.3 566.8,660.8 567.2,702.9 567.2,663.1 567.8,706.5 567.8,663.0 568.2,701.4 568.2,662.0 568.8,698.5 568.8,649.1 569.2,697.4 569.2,665.8 569.8,704.4 569.8,660.8 570.2,701.9 570.2,665.0 570.8,700.7 570.8,662.0 571.2,699.2 571.2,651.4 571.8,699.4 571.8,663.9 572.2,702.8 572.2,658.9 572.8,695.8 572.8,658.0 573.2,695.0 573.2,662.2 573.8,699.4 573.8,664.3 574.2,699.3 574.2,663.5 574.8,695.7 574.8,664.2 575.2,698.2 575.2,664.9 575.8,696.5 575.8,661.0 576.2,699.2 576.2,657.3 576.8,695.8 576.8,659.8 577.2,696.0 577.2,652.1 577.8,697.5 577.8,656.6 578.2,696.8 578.2,662.8 578.8,698.6 578.8,662.1 579.2,697.2 579.2,664.0 579.8,697.1 579.8,657.5 580.2,697.3 580.2,665.5 580.8,696.7 580.8,662.5 581.2,697.9 581.2,661.4 581.8,696.9 581.8,663.9 582.2,698.9 582.2,666.5 582.8,698.2 582.8,666.5 583.2,697.6 583.2,668.9 583.8,703.8 583.8,665.5 584.2,700.6 584.2,667.2 584.8,699.0 584.8,667.8 585.2,698.7 585.2,669.5 585.8,699.7 585.8,665.4 586.2,696.1 586.2,667.6 586.8,697.3 586.8,661.5 587.2,697.8 587.2,657.3 587.8,698.3 587.8,668.5 588.2,699.4 588.2,666.9 588.8,696.9 588.8,666.6 589.2,697.7 589.2,668.5 589.8,697.0 589.8,669.3 590.2,699.3 590.2,668.2 590.8,697.9 590.8,669.7 591.2,700.7 591.2,667.9 591.8,696.6 591.8,667.8 592.2,701.7 592.2,667.3 592.8,696.2 592.8,669.8 593.2,697.7 593.2,668.8 593.8,698.0 593.8,668.7 594.2,705.3 594.2,668.3 594.8,695.3 594.8,669.9 595.2,695.8 595.2,670.1 595.8,696.6 595.8,669.1 596.2,695.6 596.2,664.2 596.8,695.3 596.8,667.1 597.2,696.3 597.2,668.5 597.8,704.5 597.8,664.0 598.2,699.4 598.2,668.7 598.8,696.5 598.8,662.7 599.2,701.7 599.2,666.4 599.8,699.4 599.8,666.2 600.2,705.2 600.2,667.5 600.8,705.1 600.8,663.7 601.2,695.6 601.2,667.1 601.8,696.7 601.8,665.8 602.2,699.2 602.2,658.2 602.8,696.7 602.8,664.0 603.2,696.7 603.2,662.9 603.8,699.3 603.8,661.2 604.2,699.7 604.2,661.9 604.8,699.3 604.8,663.8 605.2,699.6 605.2,661.6 605.8,696.7 605.8,665.4 606.2,696.7 606.2,666.6 606.8,700.0 606.8,665.8 607.2,700.1 607.2,665.6 607.8,696.8 607.8,666.2 608.2,696.3 608.2,665.3 608.8,697.9 608.8,667.0 609.2,700.4 609.2,666.1 609.8,696.7 609.8,668.1 610.2,698.0 610.2,667.5 610.8,697.1 610.8,664.1 611.2,698.6 611.2,663.1 611.8,698.7 611.8,653.6 612.2,702.4 612.2,665.8 612.8,698.8 612.8,661.1 613.2,702.5 613.2,659.1 613.8,705.1 613.8,664.8 614.2,700.6 614.2,664.6 614.8,700.6 614.8,665.8 615.2,711.9 615.2,666.3 615.8,706.2 615.8,664.8 616.2,700.2 616.2,666.9 616.8,703.1 616.8,664.6 617.2,702.2 617.2,663.8 617.8,701.4 617.8,666.7 618.2,700.9 618.2,668.8 618.8,702.9 618.8,665.8 619.2,703.9 619.2,668.9 619.8,703.3 619.8,663.9 620.2,703.5 620.2,668.9 620.8,700.8 620.8,664.1 621.2,699.6 621.2,659.2 621.8,699.7 621.8,668.4 622.2,707.5 622.2,670.2 622.8,715.0 622.8,660.7 623.2,705.9 623.2,669.5 623.8,700.2 623.8,666.6 624.2,697.5 624.2,667.0 624.8,707.3 624.8,667.1 625.2,697.5 625.2,667.2 625.8,699.3 625.8,667.9 626.2,701.6 626.2,668.5 626.8,697.7 626.8,668.7 627.2,700.4 627.2,662.9 627.8,697.9 627.8,661.0 628.2,698.6 628.2,665.8 628.8,699.0 628.8,663.1 629.2,697.1 629.2,666.0 629.8,700.3 629.8,665.5 630.2,698.3 630.2,665.2 630.8,697.5 630.8,665.9 631.2,697.0 631.2,655.4 631.8,699.2 631.8,660.7 632.2,699.6 632.2,663.0 632.8,697.3 632.8,651.3 633.2,698.9 633.2,666.4 633.8,697.2 633.8,663.8 634.2,709.7 634.2,664.4 634.8,697.3 634.8,666.9 635.2,700.3 635.2,664.6 635.8,696.7 635.8,667.0 636.2,696.4 636.2,667.2 636.8,696.2 636.8,666.0 637.2,698.0 637.2,663.7 637.8,697.3 637.8,661.8 638.2,697.3 638.2,663.9 638.8,697.1 638.8,665.7 639.2,697.6 639.2,664.2 639.8,697.1 639.8,666.2 640.2,697.9 640.2,663.0 640.8,700.4 640.8,661.1 641.2,701.2 641.2,662.3 641.8,705.2 641.8,662.4 642.2,699.8 642.2,664.8 642.8,698.3 642.8,664.5 643.2,703.1 643.2,665.7 643.8,700.2 643.8,662.2 644.2,699.7 644.2,666.4 644.8,699.5 644.8,666.6 645.2,703.9 645.2,659.8 645.8,699.4 645.8,667.0 646.2,699.9 646.2,664.6 646.8,700.4 646.8,663.3 647.2,699.1 647.2,659.3 647.8,702.6 647.8,663.5 648.2,706.0 648.2,657.0 648.8,704.5 648.8,666.0 649.2,702.9 649.2,650.4 649.8,697.5 649.8,657.9 650.2,698.4 650.2,664.2 650.8,698.8 650.8,661.6 651.2,698.8 651.2,662.2 651.8,696.8 651.8,664.7 652.2,705.0 652.2,663.1 652.8,707.9 652.8,656.3 653.2,701.3 653.2,663.8 653.8,696.9 653.8,656.4 654.2,699.7 654.2,664.3 654.8,695.8 654.8,664.1 655.2,700.9 655.2,665.2 655.8,695.4 655.8,663.6 656.2,694.8 656.2,665.4 656.8,695.7 656.8,665.6 657.2,695.8 657.2,664.5 657.8,707.2 657.8,664.8 658.2,695.0 658.2,666.9 658.8,695.6 658.8,667.1 659.2,696.2 659.2,667.4 659.8,697.6 659.8,662.6 660.2,697.9 660.2,667.2 660.8,699.6 660.8,666.0 661.2,694.9 661.2,662.0 661.8,695.0 661.8,665.7 662.2,697.3 662.2,668.3 662.8,696.7 662.8,667.8 663.2,694.1 663.2,667.1 663.8,694.8 663.8,668.4 664.2,694.2 664.2,662.1 664.8,694.9 664.8,669.0 665.2,694.4 665.2,663.0 665.8,694.3 665.8,668.2 666.2,695.4 666.2,664.3 666.8,694.7 666.8,667.0 667.2,697.0 667.2,664.0 667.8,695.3 667.8,663.0 668.2,698.4 668.2,662.6 668.8,696.3 668.8,665.6 669.2,700.0 669.2,669.6 669.8,697.1 669.8,668.2 670.2,697.7 670.2,670.2 670.8,697.3 670.8,669.9 671.2,704.1 671.2,667.7 671.8,700.9 671.8,668.8 672.2,698.0 672.2,666.4 672.8,695.7 672.8,669.4 673.2,699.9 673.2,669.7 673.8,698.1 673.8,670.0 674.2,697.4 674.2,671.4 674.8,697.6 674.8,671.3 675.2,696.5 675.2,671.4 675.8,696.8 675.8,669.6 676.2,703.4 676.2,667.0 676.8,699.8 676.8,671.1 677.2,698.7 677.2,670.8 677.8,697.9 677.8,669.7 678.2,701.4 678.2,668.4 678.8,702.2 678.8,668.2 679.2,697.7 679.2,667.6 679.8,699.4 679.8,670.9 680.2,701.8 680.2,670.2 680.8,699.5 680.8,666.0 681.2,698.3 681.2,669.2 681.8,697.6 681.8,668.6 682.2,698.8 682.2,667.7 682.8,703.4 682.8,666.9 683.2,695.9 683.2,665.1 683.8,700.4 683.8,668.1 684.2,702.1 684.2,665.7 684.8,697.8 684.8,664.7 685.2,698.7 685.2,662.2 685.8,703.3 685.8,667.3 686.2,696.8 686.2,658.1 686.8,696.1 686.8,663.8 687.2,697.9 687.2,655.7 687.8,707.4 687.8,667.6 688.2,696.5 688.2,663.8 688.8,700.8 688.8,657.2 689.2,696.8 689.2,648.7 689.8,697.6 689.8,662.8 690.2,698.4 690.2,663.4 690.8,695.5 690.8,666.3 691.2,696.7 691.2,663.8 691.8,698.0 691.8,664.6 692.2,697.5 692.2,665.6 692.8,695.8 692.8,664.3 693.2,696.2 693.2,664.6 693.8,698.5 693.8,661.2 694.2,695.8 694.2,665.2 694.8,697.1 694.8,663.3 695.2,700.6 695.2,664.6 695.8,697.9 695.8,660.5 696.2,698.8 696.2,663.9 696.8,700.9 696.8,665.3 697.2,698.6 697.2,663.4 697.8,696.5 697.8,662.2 698.2,700.6 698.2,662.5 698.8,697.8 698.8,664.4 699.2,700.6 699.2,663.2 699.8,697.0 699.8,661.6 700.2,705.5 700.2,659.7 700.8,700.6 700.8,660.4 701.2,698.0 701.2,661.1 701.8,701.5 701.8,665.5 702.2,703.4 702.2,663.3 702.8,704.5 702.8,662.8 703.2,698.6 703.2,662.1" fill="none" stroke="#4e79a7" stroke-width="1.0" stroke-linejoin="round"/>
<path clip-path="url(#c5)" d="M139.8,845.5 139.8,801.7 140.2,851.0 140.2,802.2 140.8,850.0 140.8,793.9 141.2,855.1 141.2,801.5 141.8,848.4 141.8,795.1 142.2,861.2 142.2,796.4 142.8,853.4 142.8,799.1 143.2,848.0 143.2,795.6 143.8,849.2 143.8,793.4 144.2,847.4 144.2,800.4 144.8,852.7 144.8,798.3 145.2,857.9 145.2,789.4 145.8,847.7 145.8,798.7 146.2,851.3 146.2,797.2 146.8,846.6 146.8,799.8 147.2,850.5 147.2,791.9 147.8,845.0 147.8,791.0 148.2,847.6 148.2,791.5 148.8,855.9 148.8,797.7 149.2,846.7 149.2,800.9 149.8,846.0 149.8,780.6 150.2,850.8 150.2,797.2 150.8,848.4 150.8,787.9 151.2,852.8 151.2,791.8 151.8,853.7 151.8,790.9 152.2,855.3 152.2,792.1 152.8,852.2 152.8,800.6 153.2,867.6 153.2,801.1 153.8,858.4 153.8,798.0 154.2,853.8 154.2,797.8 154.8,849.8 154.8,800.3 155.2,850.0 155.2,799.4 155.8,853.9 155.8,799.8 156.2,863.4 156.2,796.7 156.8,862.1 156.8,799.6 157.2,856.9 157.2,799.6 157.8,856.4 157.8,799.9 158.2,850.7 158.2,794.5 158.8,852.6 158.8,792.3 159.2,851.8 159.2,793.3 159.8,858.8 159.8,796.6 160.2,862.0 160.2,796.9 160.8,848.9 160.8,789.8 161.2,850.0 161.2,793.6 161.8,854.1 161.8,793.0 162.2,851.9 162.2,797.1 162.8,857.3 162.8,796.2 163.2,857.4 163.2,784.6 163.8,855.4 163.8,797.3 164.2,852.0 164.2,794.9 164.8,851.9 164.8,796.4 165.2,848.0 165.2,793.7 165.8,850.9 165.8,794.3 166.2,851.4 166.2,792.3 166.8,881.0 166.8,782.0 167.2,858.6 167.2,787.7 167.8,847.7 167.8,787.2 168.2,857.6 168.2,798.8 168.8,854.1 168.8,796.8 169.2,852.5 169.2,794.9 169.8,848.5 169.8,790.7 170.2,849.5 170.2,796.7 170.8,856.6 170.8,788.1 171.2,850.6 171.2,789.8 171.8,851.1 171.8,795.0 172.2,853.0 172.2,796.9 172.8,860.1 172.8,797.6 173.2,858.1 173.2,793.4 173.8,867.7 173.8,796.1 174.2,857.4 174.2,798.6 174.8,867.5 174.8,795.1 175.2,855.6 175.2,794.1 175.8,852.8 175.8,792.3 176.2,852.7 176.2,796.2 176.8,861.9 176.8,799.0 177.2,858.2 177.2,799.2 177.8,853.9 177.8,800.2 178.2,865.7 178.2,798.1 178.8,859.9 178.8,797.6 179.2,854.6 179.2,799.3 179.8,866.7 179.8,793.4 180.2,865.7 180.2,790.7 180.8,866.1 180.8,795.8 181.2,858.7 181.2,792.9 181.8,852.8 181.8,800.9 182.2,852.8 182.2,792.5 182.8,853.2 182.8,796.1 183.2,852.6 183.2,797.4 183.8,871.3 183.8,797.9 184.2,850.1 184.2,793.9 184.8,852.7 184.8,798.4 185.2,865.8 185.2,794.7 185.8,855.1 185.8,787.0 186.2,857.1 186.2,797.0 186.8,853.1 186.8,796.5 187.2,849.3 187.2,788.8 187.8,857.2 187.8,792.0 188.2,850.6 188.2,796.1 188.8,850.3 188.8,790.8 189.2,850.8 189.2,787.9 189.8,857.6 189.8,782.0 190.2,867.5 190.2,796.9 190.8,855.9 190.8,791.2 191.2,855.3 191.2,797.2 191.8,855.0 191.8,795.2 192.2,855.5 192.2,794.9 192.8,857.2 192.8,791.1 193.2,863.4 193.2,776.7 193.8,855.0 193.8,794.6 194.2,864.2 194.2,798.0 194.8,854.8 194.8,797.7 195.2,857.1 195.2,800.8 195.8,860.5 195.8,800.6 196.2,857.9 196.2,801.1 196.8,861.7 196.8,802.6 197.2,858.4 197.2,803.7 197.8,857.2 197.8,802.1 198.2,860.6 198.2,803.9 198.8,858.0 198.8,800.0 199.2,857.4 199.2,797.5 199.8,856.7 199.8,802.6 200.2,854.9 200.2,803.4 200.8,855.5 200.8,802.7 201.2,857.5 201.2,803.7 201.8,856.0 201.8,801.8 202.2,853.5 202.2,801.6 202.8,855.4 202.8,798.7 203.2,856.6 203.2,802.2 203.8,860.7 203.8,802.2 204.2,877.0 204.2,799.6 204.8,858.1 204.8,790.5 205.2,859.9 205.2,803.8 205.8,853.1 205.8,799.4 206.2,856.1 206.2,801.8 206.8,862.3 206.8,802.2 207.2,862.2 207.2,799.9 207.8,857.8 207.8,793.2 208.2,856.1 208.2,803.4 208.8,863.0 208.8,789.7 209.2,853.5 209.2,802.8 209.8,859.4 209.8,800.1 210.2,861.4 210.2,790.7 210.8,858.8 210.8,803.0 211.2,859.0 211.2,797.4 211.8,859.5 211.8,800.6 212.2,855.8 212.2,801.8 212.8,857.3 212.8,793.0 213.2,859.3 213.2,790.1 213.8,858.3 213.8,795.1 214.2,854.7 214.2,797.8 214.8,852.3 214.8,791.4 215.2,855.9 215.2,789.3 215.8,864.8 215.8,789.6 216.2,853.8 216.2,794.3 216.8,853.8 216.8,789.7 217.2,862.6 217.2,789.9 217.8,852.9 217.8,797.5 218.2,851.9 218.2,789.9 218.8,850.9 218.8,793.6 219.2,863.7 219.2,794.8 219.8,860.0 219.8,798.3 220.2,852.7 220.2,794.0 220.8,851.9 220.8,794.5 221.2,850.9 221.2,797.2 221.8,850.6 221.8,790.2 222.2,881.0 222.2,787.0 222.8,847.0 222.8,790.3 223.2,854.5 223.2,798.1 223.8,860.9 223.8,797.6 224.2,857.7 224.2,793.7 224.8,859.6 224.8,791.2 225.2,849.8 225.2,796.2 225.8,847.8 225.8,796.8 226.2,851.0 226.2,800.6 226.8,855.2 226.8,796.2 227.2,850.5 227.2,789.6 227.8,857.4 227.8,792.6 228.2,852.1 228.2,797.5 228.8,853.0 228.8,798.6 229.2,854.8 229.2,796.9 229.8,853.9 229.8,777.0 230.2,859.6 230.2,798.9 230.8,867.8 230.8,795.4 231.2,858.0 231.2,794.4 231.8,853.7 231.8,795.6 232.2,854.8 232.2,798.3 232.8,857.3 232.8,796.7 233.2,866.7 233.2,788.6 233.8,863.6 233.8,785.2 234.2,870.1 234.2,796.1 234.8,872.4 234.8,793.4 235.2,858.9 235.2,788.6 235.8,858.7 235.8,797.8 236.2,861.4 236.2,794.3 236.8,856.2 236.8,798.4 237.2,860.0 237.2,797.9 237.8,863.0 237.8,796.7 238.2,863.8 238.2,798.1 238.8,856.4 238.8,792.2 239.2,855.8 239.2,799.9 239.8,860.2 239.8,795.0 240.2,859.4 240.2,799.5 240.8,867.6 240.8,800.8 241.2,853.3 241.2,794.1 241.8,857.5 241.8,798.9 242.2,864.4 242.2,796.1 242.8,858.0 242.8,797.2 243.2,851.1 243.2,799.3 243.8,852.3 243.8,798.5 244.2,853.4 244.2,793.7 244.8,864.5 244.8,795.0 245.2,860.6 245.2,790.0 245.8,860.0 245.8,796.1 246.2,851.7 246.2,791.7 246.8,853.6 246.8,799.1 247.2,853.4 247.2,798.2 247.8,861.7 247.8,788.9 248.2,860.2 248.2,795.8 248.8,853.5 248.8,796.4 249.2,855.8 249.2,798.8 249.8,854.0 249.8,788.8 250.2,852.9 250.2,798.1 250.8,852.2 250.8,795.6 251.2,855.6 251.2,799.5 251.8,849.5 251.8,792.3 252.2,851.6 252.2,797.9 252.8,849.1 252.8,798.1 253.2,856.5 253.2,789.2 253.8,856.5 253.8,791.6 254.2,850.9 254.2,780.3 254.8,851.2 254.8,795.9 255.2,853.6 255.2,792.6 255.8,853.3 255.8,784.5 256.2,851.6 256.2,790.5 256.8,852.6 256.8,795.3 257.2,849.6 257.2,796.7 257.8,849.9 257.8,788.7 258.2,857.3 258.2,796.9 258.8,866.4 258.8,795.0 259.2,853.4 259.2,793.7 259.8,848.7 259.8,796.3 260.2,846.5 260.2,796.1 260.8,854.3 260.8,798.5 261.2,846.4 261.2,793.2 261.8,850.5 261.8,793.0 262.2,849.6 262.2,792.9 262.8,856.9 262.8,792.5 263.2,847.2 263.2,799.2 263.8,846.2 263.8,796.1 264.2,863.1 264.2,799.5 264.8,847.9 264.8,799.5 265.2,855.5 265.2,794.8 265.8,859.5 265.8,798.8 266.2,845.9 266.2,797.2 266.8,845.1 266.8,797.2 267.2,847.6 267.2,800.3 267.8,860.6 267.8,800.3 268.2,847.8 268.2,800.3 268.8,851.5 268.8,800.2 269.2,859.2 269.2,800.8 269.8,855.3 269.8,797.3 270.2,854.0 270.2,793.5 270.8,856.3 270.8,794.6 271.2,862.0 271.2,793.8 271.8,856.2 271.8,799.7 272.2,848.4 272.2,790.5 272.8,849.1 272.8,798.0 273.2,851.4 273.2,798.7 273.8,846.0 273.8,799.6 274.2,848.4 274.2,795.5 274.8,859.0 274.8,796.7 275.2,849.4 275.2,778.8 275.8,847.8 275.8,785.6 276.2,856.1 276.2,793.5 276.8,846.1 276.8,796.8 277.2,853.8 277.2,792.7 277.8,847.6 277.8,792.4 278.2,847.8 278.2,795.7 278.8,844.5 278.8,787.8 279.2,845.8 279.2,792.1 279.8,849.2 279.8,795.1 280.2,854.2 280.2,793.5 280.8,852.7 280.8,787.7 281.2,850.9 281.2,795.9 281.8,847.2 281.8,793.6 282.2,846.2 282.2,791.6 282.8,848.3 282.8,792.2 283.2,844.3 283.2,785.0 283.8,858.4 283.8,797.8 284.2,852.3 284.2,792.1 284.8,846.0 284.8,794.6 285.2,843.6 285.2,798.6 285.8,843.2 285.8,798.6 286.2,853.6 286.2,797.8 286.8,852.3 286.8,792.8 287.2,850.3 287.2,793.7 287.8,845.6 287.8,795.4 288.2,860.7 288.2,792.7 288.8,847.4 288.8,799.6 289.2,864.8 289.2,794.3 289.8,850.7 289.8,795.9 290.2,853.3 290.2,799.3 290.8,845.5 290.8,792.2 291.2,845.2 291.2,797.7 291.8,850.4 291.8,794.3 292.2,853.1 292.2,794.5 292.8,846.2 292.8,797.7 293.2,848.4 293.2,796.5 293.8,853.9 293.8,794.8 294.2,848.6 294.2,791.9 294.8,853.9 294.8,799.5 295.2,851.0 295.2,791.0 295.8,846.3 295.8,789.9 296.2,847.3 296.2,799.0 296.8,846.8 296.8,798.7 297.2,851.3 297.2,796.3 297.8,851.3 297.8,799.8 298.2,851.6 298.2,789.6 298.8,849.4 298.8,795.8 299.2,850.1 299.2,794.2 299.8,847.4 299.8,797.0 300.2,857.1 300.2,791.3 300.8,847.0 300.8,798.9 301.2,851.3 301.2,798.2 301.8,853.7 301.8,797.0 302.2,849.6 302.2,797.6 302.8,850.9 302.8,796.5 303.2,853.7 303.2,798.0 303.8,845.5 303.8,795.9 304.2,850.2 304.2,798.5 304.8,845.4 304.8,798.2 305.2,856.5 305.2,794.7 305.8,854.4 305.8,796.7 306.2,855.0 306.2,796.1 306.8,852.7 306.8,799.5 307.2,847.4 307.2,795.3 307.8,849.6 307.8,796.8 308.2,856.4 308.2,796.4 308.8,848.5 308.8,795.5 309.2,855.3 309.2,795.0 309.8,849.2 309.8,797.5 310.2,856.1 310.2,798.1 310.8,856.7 310.8,796.4 311.2,858.9 311.2,799.7 311.8,852.8 311.8,800.5 312.2,853.7 312.2,799.2 312.8,853.6 312.8,792.5 313.2,851.9 313.2,799.6 313.8,860.2 313.8,794.7 314.2,857.7 314.2,799.5 314.8,851.5 314.8,795.0 315.2,850.3 315.2,798.0 315.8,863.6 315.8,800.0 316.2,854.4 316.2,799.6 316.8,856.8 316.8,799.5 317.2,855.0 317.2,799.7 317.8,850.0 317.8,794.7 318.2,852.7 318.2,798.0 318.8,854.4 318.8,799.6 319.2,857.9 319.2,795.7 319.8,856.5 319.8,796.8 320.2,848.3 320.2,798.7 320.8,848.8 320.8,798.8 321.2,852.8 321.2,789.3 321.8,852.1 321.8,795.3 322.2,849.7 322.2,795.1 322.8,851.7 322.8,798.3 323.2,846.3 323.2,795.3 323.8,852.8 323.8,795.2 324.2,851.4 324.2,796.8 324.8,851.1 324.8,798.0 325.2,847.5 325.2,796.5 325.8,854.9 325.8,798.1 326.2,848.7 326.2,790.9 326.8,857.2 326.8,798.4 327.2,848.1 327.2,799.2 327.8,851.2 327.8,797.8 328.2,852.7 328.2,790.1 328.8,849.5 328.8,796.4 329.2,847.3 329.2,799.5 329.8,848.6 329.8,798.2 330.2,850.9 330.2,791.7 330.8,862.4 330.8,797.7 331.2,856.8 331.2,795.5 331.8,847.0 331.8,797.6 332.2,848.1 332.2,800.0 332.8,859.3 332.8,799.7 333.2,856.9 333.2,794.8 333.8,854.4 333.8,793.1 334.2,854.8 334.2,798.3 334.8,860.4 334.8,797.5 335.2,861.7 335.2,797.2 335.8,845.5 335.8,799.7 336.2,851.7 336.2,802.4 336.8,846.0 336.8,799.4 337.2,847.9 337.2,799.2 337.8,846.4 337.8,799.5 338.2,844.3 338.2,792.6 338.8,847.0 338.8,802.8 339.2,844.0 339.2,802.9 339.8,845.7 339.8,790.4 340.2,848.2 340.2,794.1 340.8,844.3 340.8,802.2 341.2,848.5 341.2,796.8 341.8,844.7 341.8,801.1 342.2,847.3 342.2,799.8 342.8,846.8 342.8,796.3 343.2,856.6 343.2,800.2 343.8,857.4 343.8,785.4 344.2,851.4 344.2,800.0 344.8,845.9 344.8,795.5 345.2,848.2 345.2,795.9 345.8,844.0 345.8,801.2 346.2,847.2 346.2,799.7 346.8,843.8 346.8,796.7 347.2,852.6 347.2,796.8 347.8,844.7 347.8,798.6 348.2,853.1 348.2,799.9 348.8,854.2 348.8,799.0 349.2,850.7 349.2,798.4 349.8,845.9 349.8,795.6 350.2,849.2 350.2,774.0 350.8,843.5 350.8,795.5 351.2,854.0 351.2,800.1 351.8,845.2 351.8,792.3 352.2,843.9 352.2,797.1 352.8,848.4 352.8,794.4 353.2,854.2 353.2,789.4 353.8,849.8 353.8,794.3 354.2,850.6 354.2,797.1 354.8,845.6 354.8,799.4 355.2,846.2 355.2,800.0 355.8,850.4 355.8,793.8 356.2,847.6 356.2,793.6 356.8,846.3 356.8,792.8 357.2,845.0 357.2,798.5 357.8,851.7 357.8,792.9 358.2,847.3 358.2,798.3 358.8,849.7 358.8,798.0 359.2,845.5 359.2,793.4 359.8,843.0 359.8,786.7 360.2,850.8 360.2,791.9 360.8,853.5 360.8,797.5 361.2,847.0 361.2,786.7 361.8,843.8 361.8,796.3 362.2,845.3 362.2,792.6 362.8,846.7 362.8,792.5 363.2,858.8 363.2,798.3 363.8,848.5 363.8,797.1 364.2,846.5 364.2,796.4 364.8,859.1 364.8,790.8 365.2,849.8 365.2,792.2 365.8,850.9 365.8,784.5 366.2,845.7 366.2,797.4 366.8,847.4 366.8,792.6 367.2,845.6 367.2,794.4 367.8,848.4 367.8,795.9 368.2,850.2 368.2,785.9 368.8,848.4 368.8,795.3 369.2,854.4 369.2,795.6 369.8,844.8 369.8,794.5 370.2,844.7 370.2,795.0 370.8,859.0 370.8,796.3 371.2,857.4 371.2,790.5 371.8,848.3 371.8,793.9 372.2,850.8 372.2,792.1 372.8,856.5 372.8,795.6 373.2,845.3 373.2,791.0 373.8,853.2 373.8,796.5 374.2,846.2 374.2,791.0 374.8,852.0 374.8,790.9 375.2,849.3 375.2,795.5 375.8,855.0 375.8,791.6 376.2,851.3 376.2,788.3 376.8,854.2 376.8,795.1 377.2,852.3 377.2,793.5 377.8,846.7 377.8,795.7 378.2,847.3 378.2,792.6 378.8,849.9 378.8,790.0 379.2,855.2 379.2,795.3 379.8,858.2 379.8,794.4 380.2,854.6 380.2,790.6 380.8,848.0 380.8,783.0 381.2,850.5 381.2,787.6 381.8,851.8 381.8,797.3 382.2,847.3 382.2,792.3 382.8,846.2 382.8,783.5 383.2,859.3 383.2,792.7 383.8,845.6 383.8,794.0 384.2,851.6 384.2,797.7 384.8,847.9 384.8,795.3 385.2,849.5 385.2,800.3 385.8,857.9 385.8,796.2 386.2,854.9 386.2,787.4 386.8,851.2 386.8,789.2 387.2,848.9 387.2,799.2 387.8,849.5 387.8,798.5 388.2,861.7 388.2,798.1 388.8,854.3 388.8,796.0 389.2,847.7 389.2,796.6 389.8,850.4 389.8,790.0 390.2,846.9 390.2,797.8 390.8,848.1 390.8,798.6 391.2,848.1 391.2,797.5 391.8,865.7 391.8,797.1 392.2,850.0 392.2,797.4 392.8,847.4 392.8,797.1 393.2,853.2 393.2,791.7 393.8,850.4 393.8,795.1 394.2,847.7 394.2,798.9 394.8,850.9 394.8,796.5 395.2,846.9 395.2,795.0 395.8,854.9 395.8,795.7 396.2,845.1 396.2,790.0 396.8,850.7 396.8,793.7 397.2,848.3 397.2,799.5 397.8,848.9 397.8,789.0 398.2,845.2 398.2,792.5 398.8,844.2 398.8,796.7 399.2,848.7 399.2,794.3 399.8,845.1 399.8,794.2 400.2,851.3 400.2,795.6 400.8,856.4 400.8,795.7 401.2,849.3 401.2,796.0 401.8,848.8 401.8,797.6 402.2,867.8 402.2,797.1 402.8,854.6 402.8,797.1 403.2,848.6 403.2,793.6 403.8,851.3 403.8,796.0 404.2,844.5 404.2,794.2 404.8,849.6 404.8,797.3 405.2,846.7 405.2,796.8 405.8,853.1 405.8,792.9 406.2,858.8 406.2,792.6 406.8,849.4 406.8,796.2 407.2,855.9 407.2,795.5 407.8,859.4 407.8,789.6 408.2,855.8 408.2,795.1 408.8,845.8 408.8,794.3 409.2,852.6 409.2,794.4 409.8,857.4 409.8,795.4 410.2,864.0 410.2,789.5 410.8,846.9 410.8,784.5 411.2,855.7 411.2,798.4 411.8,846.0 411.8,792.8 412.2,853.6 412.2,796.6 412.8,846.4 412.8,794.2 413.2,859.5 413.2,798.2 413.8,847.4 413.8,793.2 414.2,866.1 414.2,795.7 414.8,857.2 414.8,797.8 415.2,850.5 415.2,794.9 415.8,865.1 415.8,791.6 416.2,848.8 416.2,799.4 416.8,850.0 416.8,793.3 417.2,847.9 417.2,792.6 417.8,860.2 417.8,799.0 418.2,854.8 418.2,795.1 418.8,850.4 418.8,790.8 419.2,854.2 419.2,801.5 419.8,853.6 419.8,797.8 420.2,849.3 420.2,799.2 420.8,854.9 420.8,798.0 421.2,848.9 421.2,801.2 421.8,848.6 421.8,794.8 422.2,848.4 422.2,794.6 422.8,849.6 422.8,798.3 423.2,859.4 423.2,799.5 423.8,854.9 423.8,790.5 424.2,853.6 424.2,800.4 424.8,847.7 424.8,798.2 425.2,848.9 425.2,799.2 425.8,848.2 425.8,799.4 426.2,851.8 426.2,797.9 426.8,847.5 426.8,800.5 427.2,851.4 427.2,800.7 427.8,848.1 427.8,799.6 428.2,852.9 428.2,799.7 428.8,848.5 428.8,793.4 429.2,852.7 429.2,800.7 429.8,846.1 429.8,796.9 430.2,847.7 430.2,800.6 430.8,847.8 430.8,798.8 431.2,853.5 431.2,796.3 431.8,850.6 431.8,798.4 432.2,846.6 432.2,800.2 432.8,846.6 432.8,802.2 433.2,853.4 433.2,799.0 433.8,852.9 433.8,799.2 434.2,855.0 434.2,798.5 434.8,847.6 434.8,796.0 435.2,853.9 435.2,798.7 435.8,854.4 435.8,792.6 436.2,856.4 436.2,799.7 436.8,854.7 436.8,795.1 437.2,852.2 437.2,797.3 437.8,863.8 437.8,800.1 438.2,853.0 438.2,799.4 438.8,851.3 438.8,794.5 439.2,850.2 439.2,799.2 439.8,857.4 439.8,792.1 440.2,852.0 440.2,799.1 440.8,851.6 440.8,791.0 441.2,854.5 441.2,799.4 441.8,855.1 441.8,795.5 442.2,854.5 442.2,795.7 442.8,853.7 442.8,796.0 443.2,853.7 443.2,799.2 443.8,873.0 443.8,795.2 444.2,855.4 444.2,798.3 444.8,867.4 444.8,797.4 445.2,850.1 445.2,796.4 445.8,852.4 445.8,799.5 446.2,849.6 446.2,798.6 446.8,857.1 446.8,801.3 447.2,860.8 447.2,797.3 447.8,854.9 447.8,794.5 448.2,849.3 448.2,798.1 448.8,861.3 448.8,793.8 449.2,861.1 449.2,799.4 449.8,861.2 449.8,802.0 450.2,851.3 450.2,799.2 450.8,848.9 450.8,802.2 451.2,854.9 451.2,795.1 451.8,856.5 451.8,795.4 452.2,855.7 452.2,790.1 452.8,856.8 452.8,800.5 453.2,850.4 453.2,798.7 453.8,850.7 453.8,787.7 454.2,857.3 454.2,791.5 454.8,850.6 454.8,794.2 455.2,846.4 455.2,800.6 455.8,861.9 455.8,790.1 456.2,852.4 456.2,798.6 456.8,860.1 456.8,796.3 457.2,851.0 457.2,796.1 457.8,854.5 457.8,797.6 458.2,853.1 458.2,795.6 458.8,849.0 458.8,798.7 459.2,847.0 459.2,799.8 459.8,847.7 459.8,799.9 460.2,853.4 460.2,796.4 460.8,848.3 460.8,789.2 461.2,863.1 461.2,789.4M464.8,852.8 464.8,794.0 465.2,850.7 465.2,792.8 465.8,858.9 465.8,797.8 466.2,849.4 466.2,796.0 466.8,854.7 466.8,798.3 467.2,854.5 467.2,791.8 467.8,855.7 467.8,793.8 468.2,855.7 468.2,798.7M471.8,851.9 471.8,793.9 472.2,851.4 472.2,796.2 472.8,850.6 472.8,791.5 473.2,853.0 473.2,796.3 473.8,856.3 473.8,795.1 474.2,850.7 474.2,788.5 474.8,861.8 474.8,788.4 475.2,860.4 475.2,794.8 475.8,850.7 475.8,792.0 476.2,851.2 476.2,793.5 476.8,848.9 476.8,798.0 477.2,849.0 477.2,793.4 477.8,854.8 477.8,797.8 478.2,854.1 478.2,793.7 478.8,864.7 478.8,775.0 479.2,858.8 479.2,793.1 479.8,855.5 479.8,799.6 480.2,856.5 480.2,798.0 480.8,849.7 480.8,798.5 481.2,848.3 481.2,795.8 481.8,846.2 481.8,799.1 482.2,855.1 482.2,797.4 482.8,848.6 482.8,790.1 483.2,847.0 483.2,795.0 483.8,848.7 483.8,798.5 484.2,850.2 484.2,795.6 484.8,849.2 484.8,800.0 485.2,865.3 485.2,793.1 485.8,852.0 485.8,797.7 486.2,864.7 486.2,792.3 486.8,861.6 486.8,798.2 487.2,866.3 487.2,798.2 487.8,858.1 487.8,793.2 488.2,851.5 488.2,798.0 488.8,856.6 488.8,796.1 489.2,860.3 489.2,794.4 489.8,853.2 489.8,797.9 490.2,859.5 490.2,798.9 490.8,855.7 490.8,792.3 491.2,859.2 491.2,788.9 491.8,854.1 491.8,799.9 492.2,864.2 492.2,800.6 492.8,856.0 492.8,802.1 493.2,854.0 493.2,800.6 493.8,862.8 493.8,791.7 494.2,852.5 494.2,797.5 494.8,853.1 494.8,801.1 495.2,854.8 495.2,802.2 495.8,851.9 495.8,801.0 496.2,850.9 496.2,798.1 496.8,851.5 496.8,790.1 497.2,849.8 497.2,789.5 497.8,852.0 497.8,796.6 498.2,857.7 498.2,789.9 498.8,862.2 498.8,799.5 499.2,850.1 499.2,788.7 499.8,858.4 499.8,791.3 500.2,855.9 500.2,795.3 500.8,849.8 500.8,797.0 501.2,859.2 501.2,798.8 501.8,849.1 501.8,799.6 502.2,850.6 502.2,793.9 502.8,858.8 502.8,798.0 503.2,855.1 503.2,796.7 503.8,854.3 503.8,795.2 504.2,863.2 504.2,799.2 504.8,856.7 504.8,791.5 505.2,857.0 505.2,796.2 505.8,859.5 505.8,795.5 506.2,854.5 506.2,796.2 506.8,854.7 506.8,795.8 507.2,860.5 507.2,794.3 507.8,854.7 507.8,795.5 508.2,863.6 508.2,792.7 508.8,862.7 508.8,799.7 509.2,850.7 509.2,798.0 509.8,849.3 509.8,793.6 510.2,850.8 510.2,798.2 510.8,857.0 510.8,789.0 511.2,849.2 511.2,798.8 511.8,847.8 511.8,800.1 512.2,852.7 512.2,800.1 512.8,856.7 512.8,794.8 513.2,848.7 513.2,795.3 513.8,864.1 513.8,795.5 514.2,847.0 514.2,797.5 514.8,870.5 514.8,800.4 515.2,852.1 515.2,799.7 515.8,847.4 515.8,795.3 516.2,849.8 516.2,798.8 516.8,857.3 516.8,796.3 517.2,850.3 517.2,796.6 517.8,866.4 517.8,795.9 518.2,853.7 518.2,782.9 518.8,854.4 518.8,790.9 519.2,859.6 519.2,792.0 519.8,847.5 519.8,800.1 520.2,870.8 520.2,795.5 520.8,851.2 520.8,794.9 521.2,856.5 521.2,790.6 521.8,858.5 521.8,798.5 522.2,851.4 522.2,795.0 522.8,848.5 522.8,797.2 523.2,855.1 523.2,795.9 523.8,848.0 523.8,789.0 524.2,852.6 524.2,795.0 524.8,863.2 524.8,795.6 525.2,852.2 525.2,794.8 525.8,854.0 525.8,792.8 526.2,859.1 526.2,787.2 526.8,848.8 526.8,789.9 527.2,855.5 527.2,795.7 527.8,846.4 527.8,790.5 528.2,851.2 528.2,789.3 528.8,856.4 528.8,794.8 529.2,852.8 529.2,792.5 529.8,850.6 529.8,792.7 530.2,855.0 530.2,787.1 530.8,853.4 530.8,792.2 531.2,849.0 531.2,795.3 531.8,849.6 531.8,796.0 532.2,851.8 532.2,793.1 532.8,851.7 532.8,792.0 533.2,856.2 533.2,795.1 533.8,853.1 533.8,795.4 534.2,852.9 534.2,795.1 534.8,857.5 534.8,794.1 535.2,858.1 535.2,797.9 535.8,849.7 535.8,799.4 536.2,849.8 536.2,794.3 536.8,858.4 536.8,790.7 537.2,851.5 537.2,797.1 537.8,851.4 537.8,800.2 538.2,849.5 538.2,795.3 538.8,856.2 538.8,796.2 539.2,858.7 539.2,796.3 539.8,855.1 539.8,792.1 540.2,850.1 540.2,797.1 540.8,853.1 540.8,794.3 541.2,855.6 541.2,792.0 541.8,855.6 541.8,796.5 542.2,850.8 542.2,794.1 542.8,853.7 542.8,798.9 543.2,852.1 543.2,797.7 543.8,865.7 543.8,791.5 544.2,858.4 544.2,799.8 544.8,859.9 544.8,798.2 545.2,868.3 545.2,800.1 545.8,862.2 545.8,795.9 546.2,850.8 546.2,799.7 546.8,854.8 546.8,801.1 547.2,858.2 547.2,799.3 547.8,852.4 547.8,795.2 548.2,849.2 548.2,800.2 548.8,852.7 548.8,797.1 549.2,853.0 549.2,800.7 549.8,849.5 549.8,798.6 550.2,855.4 550.2,793.7 550.8,856.7 550.8,799.1 551.2,846.7 551.2,800.0 551.8,849.2 551.8,800.9 552.2,851.4 552.2,794.8 552.8,853.2 552.8,797.9 553.2,847.1 553.2,795.4 553.8,850.6 553.8,792.5 554.2,854.9 554.2,787.7 554.8,851.0 554.8,798.0 555.2,861.4 555.2,794.6 555.8,856.7 555.8,793.1 556.2,848.5 556.2,791.8 556.8,853.9 556.8,796.9 557.2,850.2 557.2,796.5 557.8,850.5 557.8,796.4 558.2,854.0 558.2,796.9 558.8,859.5 558.8,788.8 559.2,850.7 559.2,796.7 559.8,870.9 559.8,794.0 560.2,850.0 560.2,797.2 560.8,858.8 560.8,789.2 561.2,856.7 561.2,792.1 561.8,861.8 561.8,790.1 562.2,853.6 562.2,797.3 562.8,850.4 562.8,797.8 563.2,852.0 563.2,791.9 563.8,850.9 563.8,795.8 564.2,877.1 564.2,795.8 564.8,868.8 564.8,798.9 565.2,851.8 565.2,795.4 565.8,849.4 565.8,796.8 566.2,855.4 566.2,793.2 566.8,859.7 566.8,799.8 567.2,861.6 567.2,795.5 567.8,854.9 567.8,799.0 568.2,863.7 568.2,796.9 568.8,855.9 568.8,789.6 569.2,849.7 569.2,801.4 569.8,854.0 569.8,791.7 570.2,849.4 570.2,789.0 570.8,853.9 570.8,800.2 571.2,856.2 571.2,801.0 571.8,851.2 571.8,790.1 572.2,856.4 572.2,784.8 572.8,855.4 572.8,793.7 573.2,852.0 573.2,800.8 573.8,851.5 573.8,799.7 574.2,850.0 574.2,794.2 574.8,867.5 574.8,795.9 575.2,855.6 575.2,795.5 575.8,849.6 575.8,798.7 576.2,865.6 576.2,799.8 576.8,853.5 576.8,799.8 577.2,856.8 577.2,793.4 577.8,860.2 577.8,795.1 578.2,855.2 578.2,797.6 578.8,848.0 578.8,798.3 579.2,852.0 579.2,800.2 579.8,855.5 579.8,799.7 580.2,848.0 580.2,800.0 580.8,869.9 580.8,798.1 581.2,853.1 581.2,794.8 581.8,859.2 581.8,794.2 582.2,850.7 582.2,782.6 582.8,856.7 582.8,792.8 583.2,848.3 583.2,799.4 583.8,850.6 583.8,796.6 584.2,849.9 584.2,793.9 584.8,856.6 584.8,798.6 585.2,854.5 585.2,796.7 585.8,850.4 585.8,796.8 586.2,848.9 586.2,793.2 586.8,848.2 586.8,796.0 587.2,847.3 587.2,796.5 587.8,854.6 587.8,793.8 588.2,857.3 588.2,788.7 588.8,851.9 588.8,791.1 589.2,847.9 589.2,791.1 589.8,851.3 589.8,792.8 590.2,859.0 590.2,797.7 590.8,854.1 590.8,796.6 591.2,851.8 591.2,788.4 591.8,859.1 591.8,786.6 592.2,859.9 592.2,789.5 592.8,856.6 592.8,797.5 593.2,858.3 593.2,795.9 593.8,857.7 593.8,789.9 594.2,859.6 594.2,795.3 594.8,866.1 594.8,792.5 595.2,851.2 595.2,798.2 595.8,854.1 595.8,796.1 596.2,851.1 596.2,794.8 596.8,852.2 596.8,798.3 597.2,861.0 597.2,793.4 597.8,855.8 597.8,792.7 598.2,855.9 598.2,795.5 598.8,851.5 598.8,797.3 599.2,850.7 599.2,798.4 599.8,853.3 599.8,795.8 600.2,852.2 600.2,795.4 600.8,862.2 600.8,798.2 601.2,850.7 601.2,797.6 601.8,862.8 601.8,794.7 602.2,853.0 602.2,797.0 602.8,856.2 602.8,797.6 603.2,858.2 603.2,797.4 603.8,855.6 603.8,797.3 604.2,858.2 604.2,790.4 604.8,854.6 604.8,792.5 605.2,851.2 605.2,790.9 605.8,850.8 605.8,798.5 606.2,860.5 606.2,796.6 606.8,854.3 606.8,785.5 607.2,850.9 607.2,793.8 607.8,851.5 607.8,792.7 608.2,855.9 608.2,790.9 608.8,852.7 608.8,791.6 609.2,851.2 609.2,797.6 609.8,849.8 609.8,799.2 610.2,867.4 610.2,797.8 610.8,855.2 610.8,791.2 611.2,858.8 611.2,796.9 611.8,858.5 611.8,792.8 612.2,868.4 612.2,788.0 612.8,868.4 612.8,796.0 613.2,860.2 613.2,791.3 613.8,869.5 613.8,794.2 614.2,861.9 614.2,797.2 614.8,857.1 614.8,797.9 615.2,865.7 615.2,801.1 615.8,855.3 615.8,799.0 616.2,851.7 616.2,787.5 616.8,856.7 616.8,797.1 617.2,854.5 617.2,798.8 617.8,853.8 617.8,801.5 618.2,864.7 618.2,795.3 618.8,854.3 618.8,799.7 619.2,856.3 619.2,798.2 619.8,850.6 619.8,795.6 620.2,867.2 620.2,790.4 620.8,851.6 620.8,800.1 621.2,856.6 621.2,796.0 621.8,858.9 621.8,798.9 622.2,856.9 622.2,793.6 622.8,870.1 622.8,798.1 623.2,864.1 623.2,789.4 623.8,849.3 623.8,797.5 624.2,859.3 624.2,797.5 624.8,865.8 624.8,797.9 625.2,859.4 625.2,796.1 625.8,856.4 625.8,797.9 626.2,853.2 626.2,799.1 626.8,852.8 626.8,797.4 627.2,851.0 627.2,801.2 627.8,857.7 627.8,801.5 628.2,851.9 628.2,802.7 628.8,850.9 628.8,794.2 629.2,860.1 629.2,796.2 629.8,861.5 629.8,798.1 630.2,865.8 630.2,798.2 630.8,855.4 630.8,792.3 631.2,859.1 631.2,796.4 631.8,874.7 631.8,794.5 632.2,861.4 632.2,800.0 632.8,856.7 632.8,795.7 633.2,856.9 633.2,798.6 633.8,857.8 633.8,802.4 634.2,852.1 634.2,795.3 634.8,855.4 634.8,801.9 635.2,862.8 635.2,795.6 635.8,853.1 635.8,795.2 636.2,853.8 636.2,793.7 636.8,854.8 636.8,796.6 637.2,864.0 637.2,797.0 637.8,859.7 637.8,799.9 638.2,857.3 638.2,797.2 638.8,871.5 638.8,795.1 639.2,865.9 639.2,799.5 639.8,856.3 639.8,792.7 640.2,856.1 640.2,787.8 640.8,861.6 640.8,795.9 641.2,851.2 641.2,796.0 641.8,859.8 641.8,798.6 642.2,859.9 642.2,796.8 642.8,853.6 642.8,793.1 643.2,860.8 643.2,795.0 643.8,854.9 643.8,798.4 644.2,849.7 644.2,789.5 644.8,850.3 644.8,799.2 645.2,859.0 645.2,794.7 645.8,849.3 645.8,799.4 646.2,847.9 646.2,799.1 646.8,849.9 646.8,800.4 647.2,853.3 647.2,797.6 647.8,848.5 647.8,793.2 648.2,858.1 648.2,798.4 648.8,846.4 648.8,799.4 649.2,850.0 649.2,800.1 649.8,850.0 649.8,797.4 650.2,863.0 650.2,799.6 650.8,847.6 650.8,801.2 651.2,849.9 651.2,800.5 651.8,852.6 651.8,799.2 652.2,850.4 652.2,801.5 652.8,846.5 652.8,801.0 653.2,854.5 653.2,790.2 653.8,847.9 653.8,798.9 654.2,857.0 654.2,801.1 654.8,850.1 654.8,795.0 655.2,859.8 655.2,785.1 655.8,862.3 655.8,799.8 656.2,864.7 656.2,796.5 656.8,850.6 656.8,800.0 657.2,868.3 657.2,795.6 657.8,862.4 657.8,792.2 658.2,858.7 658.2,799.1 658.8,849.0 658.8,800.3 659.2,848.3 659.2,783.1 659.8,850.7 659.8,799.9 660.2,849.8 660.2,793.7 660.8,849.5 660.8,795.2 661.2,854.9 661.2,793.8 661.8,847.3 661.8,787.7 662.2,866.2 662.2,792.1 662.8,846.7 662.8,796.6 663.2,849.9 663.2,792.3 663.8,848.3 663.8,793.7 664.2,850.4 664.2,798.2 664.8,853.0 664.8,786.4 665.2,862.4 665.2,786.9 665.8,870.8 665.8,795.1 666.2,851.3 666.2,793.6 666.8,849.6 666.8,790.6 667.2,853.8 667.2,797.1 667.8,859.8 667.8,799.0 668.2,862.7 668.2,799.0 668.8,853.6 668.8,799.2 669.2,856.3 669.2,800.0 669.8,863.9 669.8,796.6 670.2,851.1 670.2,798.0 670.8,851.3 670.8,797.5 671.2,858.4 671.2,791.1 671.8,859.3 671.8,787.6 672.2,868.1 672.2,798.2 672.8,855.7 672.8,799.0 673.2,853.9 673.2,798.4 673.8,856.9 673.8,798.3 674.2,866.6 674.2,796.9 674.8,853.4 674.8,797.4 675.2,849.1 675.2,795.3 675.8,856.9 675.8,794.7 676.2,848.4 676.2,796.8 676.8,854.0 676.8,791.7 677.2,862.9 677.2,791.8 677.8,848.2 677.8,792.8 678.2,863.2 678.2,796.2 678.8,853.1 678.8,796.4 679.2,855.8 679.2,795.9 679.8,863.2 679.8,796.4 680.2,866.8 680.2,794.5 680.8,857.3 680.8,796.1 681.2,852.6 681.2,792.6 681.8,856.4 681.8,796.9 682.2,851.0 682.2,795.4 682.8,848.8 682.8,799.7 683.2,856.6 683.2,796.9 683.8,862.8 683.8,799.5 684.2,851.2 684.2,797.7 684.8,857.9 684.8,793.8 685.2,849.4 685.2,796.1 685.8,849.8 685.8,790.4 686.2,856.6 686.2,797.7 686.8,853.5 686.8,794.1 687.2,852.0 687.2,794.3 687.8,858.6 687.8,790.8 688.2,851.5 688.2,795.5 688.8,856.0 688.8,797.2 689.2,857.6 689.2,796.2 689.8,853.4 689.8,788.3 690.2,850.5 690.2,799.1 690.8,855.4 690.8,785.0 691.2,858.5 691.2,788.4 691.8,851.8 691.8,798.3 692.2,853.7 692.2,796.5 692.8,852.6 692.8,792.8 693.2,855.3 693.2,794.9 693.8,851.4 693.8,794.0 694.2,857.2 694.2,793.0 694.8,850.7 694.8,797.5 695.2,849.5 695.2,801.4 695.8,850.0 695.8,801.2 696.2,854.5 696.2,792.2 696.8,850.3 696.8,798.2 697.2,858.4 697.2,800.4 697.8,858.5 697.8,799.1 698.2,859.6 698.2,801.8 698.8,865.5 698.8,794.9 699.2,855.2 699.2,795.9 699.8,859.6 699.8,789.3 700.2,856.7 700.2,795.0 700.8,864.2 700.8,799.5 701.2,869.7 701.2,789.7 701.8,857.5 701.8,797.9 702.2,864.9 702.2,790.2 702.8,854.0 702.8,798.6 703.2,857.1 703.2,794.0" fill="none" stroke="#4e79a7" stroke-width="1.0" stroke-linejoin="round"/>
<path d="M461.5,824.3 L464.6,824.3 M468.4,812 L471.4,828" fill="none" stroke="#4e79a7" stroke-width="0.6"/>
<path d="M468,297 L471.6,296.5 M468,416 L471.6,421 M468,598 L471.6,597 M468,686 L471.6,692" fill="none" stroke="#4e79a7" stroke-width="0.6"/>
<rect x="111.5" y="109.5" width="620.0" height="110.0" fill="none" stroke="#000" stroke-width="1.1"/>
<rect x="111.5" y="241.5" width="620.0" height="110.0" fill="none" stroke="#000" stroke-width="1.1"/>
<rect x="111.5" y="373.5" width="620.0" height="110.0" fill="none" stroke="#000" stroke-width="1.1"/>
<rect x="111.5" y="505.5" width="620.0" height="110.0" fill="none" stroke="#000" stroke-width="1.1"/>
<rect x="111.5" y="637.5" width="620.0" height="110.0" fill="none" stroke="#000" stroke-width="1.1"/>
<rect x="111.5" y="769.5" width="620.0" height="110.0" fill="none" stroke="#000" stroke-width="1.1"/>
<path d="M118.1,219.5v8.3M195.7,219.5v8.3M273.3,219.5v8.3M350.9,219.5v8.3M428.5,219.5v8.3M506.1,219.5v8.3M583.7,219.5v8.3M661.3,219.5v8.3M111.5,109.5h-8.3M111.5,164.5h-8.3M111.5,219.5h-8.3M118.1,351.5v8.3M195.7,351.5v8.3M273.3,351.5v8.3M350.9,351.5v8.3M428.5,351.5v8.3M506.1,351.5v8.3M583.7,351.5v8.3M661.3,351.5v8.3M111.5,282.7h-8.3M111.5,338.3h-8.3M118.1,483.5v8.3M195.7,483.5v8.3M273.3,483.5v8.3M350.9,483.5v8.3M428.5,483.5v8.3M506.1,483.5v8.3M583.7,483.5v8.3M661.3,483.5v8.3M111.5,373.5h-8.3M111.5,410.2h-8.3M111.5,446.8h-8.3M111.5,483.5h-8.3M118.1,615.5v8.3M195.7,615.5v8.3M273.3,615.5v8.3M350.9,615.5v8.3M428.5,615.5v8.3M506.1,615.5v8.3M583.7,615.5v8.3M661.3,615.5v8.3M111.5,505.5h-8.3M111.5,560.5h-8.3M111.5,615.5h-8.3M118.1,747.5v8.3M195.7,747.5v8.3M273.3,747.5v8.3M350.9,747.5v8.3M428.5,747.5v8.3M506.1,747.5v8.3M583.7,747.5v8.3M661.3,747.5v8.3M111.5,637.5h-8.3M111.5,681.5h-8.3M111.5,725.5h-8.3M118.1,879.5v8.3M195.7,879.5v8.3M273.3,879.5v8.3M350.9,879.5v8.3M428.5,879.5v8.3M506.1,879.5v8.3M583.7,879.5v8.3M661.3,879.5v8.3M111.5,785.2h-8.3M111.5,824.5h-8.3M111.5,863.8h-8.3" stroke="#000" stroke-width="1.4" fill="none"/>
<g font-family="'DejaVu Serif','Liberation Serif',serif" font-size="13.8px" fill="#000">
<text transform="translate(97.4,115.5) scale(0.97,1.06)" text-anchor="end">0.070</text>
<text transform="translate(97.4,170.5) scale(0.97,1.06)" text-anchor="end">0.068</text>
<text transform="translate(97.4,225.5) scale(0.97,1.06)" text-anchor="end">0.066</text>
<text transform="translate(97.4,288.7) scale(0.97,1.06)" text-anchor="end">0.00032</text>
<text transform="translate(97.4,344.3) scale(0.97,1.06)" text-anchor="end">0.00030</text>
<text transform="translate(97.4,379.5) scale(0.97,1.06)" text-anchor="end">0.0047</text>
<text transform="translate(97.4,416.2) scale(0.97,1.06)" text-anchor="end">0.0046</text>
<text transform="translate(97.4,452.8) scale(0.97,1.06)" text-anchor="end">0.0045</text>
<text transform="translate(97.4,489.5) scale(0.97,1.06)" text-anchor="end">0.0044</text>
<text transform="translate(97.4,511.5) scale(0.97,1.06)" text-anchor="end">100</text>
<text transform="translate(97.4,566.5) scale(0.97,1.06)" text-anchor="end">50</text>
<text transform="translate(97.4,621.5) scale(0.97,1.06)" text-anchor="end">0</text>
<text transform="translate(97.4,643.5) scale(0.97,1.06)" text-anchor="end">0</text>
<text transform="translate(97.4,687.5) scale(0.97,1.06)" text-anchor="end">−1</text>
<text transform="translate(97.4,731.5) scale(0.97,1.06)" text-anchor="end">−2</text>
<text transform="translate(97.4,791.2) scale(0.97,1.06)" text-anchor="end">2.5</text>
<text transform="translate(97.4,830.5) scale(0.97,1.06)" text-anchor="end">0.0</text>
<text transform="translate(97.4,869.8) scale(0.97,1.06)" text-anchor="end">−2.5</text>
<text transform="translate(117.3,904.2) scale(0.98,1.06)" text-anchor="middle">55000</text>
<text transform="translate(194.9,904.2) scale(0.98,1.06)" text-anchor="middle">55200</text>
<text transform="translate(272.5,904.2) scale(0.98,1.06)" text-anchor="middle">55400</text>
<text transform="translate(350.1,904.2) scale(0.98,1.06)" text-anchor="middle">55600</text>
<text transform="translate(427.7,904.2) scale(0.98,1.06)" text-anchor="middle">55800</text>
<text transform="translate(505.3,904.2) scale(0.98,1.06)" text-anchor="middle">56000</text>
<text transform="translate(582.9,904.2) scale(0.98,1.06)" text-anchor="middle">56200</text>
<text transform="translate(660.5,904.2) scale(0.98,1.06)" text-anchor="middle">56400</text>
</g>
<text x="410.5" y="23" text-anchor="middle" font-family="'DejaVu Serif','Liberation Serif',serif" font-size="16.7px">000136</text>
<text x="420.1" y="930.2" text-anchor="middle" font-family="'DejaVu Serif','Liberation Serif',serif" font-size="22.2px">MJD</text>
<text transform="translate(45.1,166.0) rotate(-90)" text-anchor="middle" font-size="22.2px" font-family="'DejaVu Serif','Liberation Serif',serif"><tspan font-family="'DejaVu Sans','Liberation Sans',sans-serif" font-style="italic">g</tspan></text>
<text transform="translate(27.9,297.5) rotate(-90)" text-anchor="middle" font-size="22.2px" font-family="'DejaVu Serif','Liberation Serif',serif"><tspan font-family="'DejaVu Sans','Liberation Sans',sans-serif" font-style="italic">σ</tspan><tspan font-family="'DejaVu Sans','Liberation Sans',sans-serif" font-size="15.5px" dy="3.6">0</tspan><tspan dy="-3.6"> [V]</tspan></text>
<text transform="translate(36.6,428.5) rotate(-90)" text-anchor="middle" font-size="22.2px" font-family="'DejaVu Serif','Liberation Serif',serif"><tspan font-family="'DejaVu Sans','Liberation Sans',sans-serif" font-style="italic">σ</tspan><tspan font-family="'DejaVu Sans','Liberation Sans',sans-serif" font-size="15.5px" dy="3.6">0</tspan><tspan dy="-3.6"> [mK]</tspan></text>
<text transform="translate(59.3,561.4) rotate(-90)" text-anchor="middle" font-size="22.2px" font-family="'DejaVu Serif','Liberation Serif',serif"><tspan font-family="'DejaVu Sans','Liberation Sans',sans-serif" font-style="italic">f</tspan><tspan font-family="'DejaVu Sans','Liberation Sans',sans-serif" font-size="15.5px" dy="2.9">knee</tspan><tspan dy="-2.9"> [mHz]</tspan></text>
<text transform="translate(66.0,693.0) rotate(-90)" text-anchor="middle" font-size="22.2px" font-family="'DejaVu Serif','Liberation Serif',serif"><tspan font-family="'DejaVu Sans','Liberation Sans',sans-serif" font-style="italic">α</tspan></text>
<text transform="translate(49.9,825.4) rotate(-90)" text-anchor="middle" font-size="22.2px" font-family="'DejaVu Serif','Liberation Serif',serif"><tspan font-family="'DejaVu Sans','Liberation Sans',sans-serif" font-style="italic">χ</tspan><tspan font-family="'DejaVu Sans','Liberation Sans',sans-serif" font-size="15.5px" dy="-9.4" dx="2">2</tspan></text>
</svg>
</body></html>
